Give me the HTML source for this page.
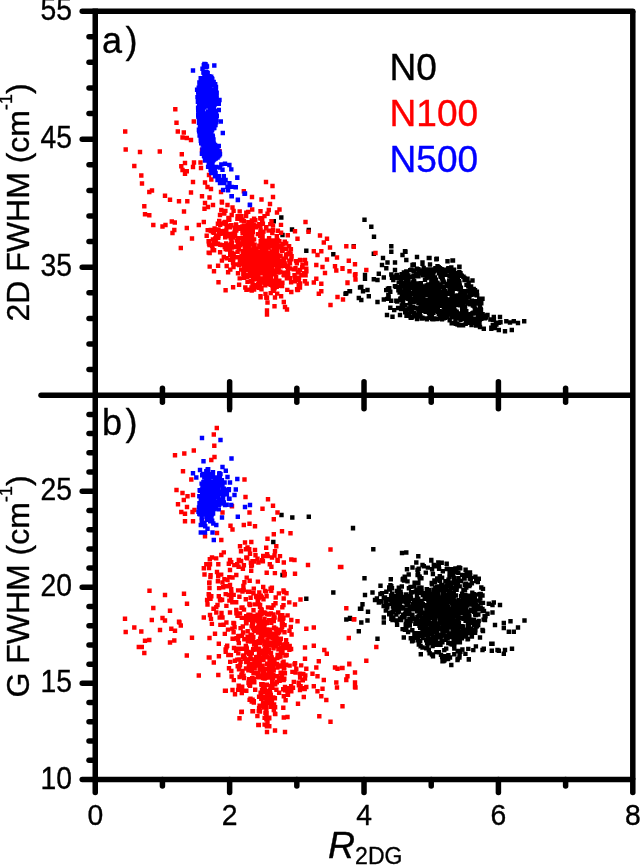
<!DOCTYPE html>
<html lang="en"><head><meta charset="utf-8"><title>FWHM vs R2DG scatter</title>
<style>html,body{margin:0;padding:0;background:#fff}body{width:640px;height:865px;overflow:hidden}</style></head>
<body>
<svg width="640" height="865" viewBox="0 0 640 865" style="display:block">
<rect width="640" height="865" fill="#fff"/>
<g><path fill="#000" d="M271.6 219.1h4.4v4.4h-4.4zM279.1 215.3h4.4v4.4h-4.4zM289.8 227.3h4.4v4.4h-4.4zM306.6 227.8h4.4v4.4h-4.4zM280.3 232.8h4.4v4.4h-4.4zM304.1 248.6h4.4v4.4h-4.4zM331.1 252.1h4.4v4.4h-4.4zM351.6 244.1h4.4v4.4h-4.4zM344.1 291.1h4.4v4.4h-4.4zM347.3 289.1h4.4v4.4h-4.4zM356.6 295.8h4.4v4.4h-4.4zM357.8 285.3h4.4v4.4h-4.4zM362.3 217.6h4.4v4.4h-4.4zM369.1 224.6h4.4v4.4h-4.4zM371.8 234.6h4.4v4.4h-4.4zM389.1 244.1h4.4v4.4h-4.4zM389.1 249.6h4.4v4.4h-4.4zM403.3 249.6h4.4v4.4h-4.4zM400.3 252.8h4.4v4.4h-4.4zM404.1 257.8h4.4v4.4h-4.4zM371.6 251.6h4.4v4.4h-4.4zM380.8 255.8h4.4v4.4h-4.4zM385.3 260.3h4.4v4.4h-4.4zM392.8 260.3h4.4v4.4h-4.4zM379.8 262.8h4.4v4.4h-4.4zM384.1 266.1h4.4v4.4h-4.4zM392.8 267.8h4.4v4.4h-4.4zM376.6 271.6h4.4v4.4h-4.4zM362.8 272.8h4.4v4.4h-4.4zM362.8 276.6h4.4v4.4h-4.4zM371.6 277.1h4.4v4.4h-4.4zM375.3 277.8h4.4v4.4h-4.4zM381.6 275.3h4.4v4.4h-4.4zM389.1 272.3h4.4v4.4h-4.4zM359.1 284.8h4.4v4.4h-4.4zM365.3 287.8h4.4v4.4h-4.4zM360.8 289.1h4.4v4.4h-4.4zM347.8 289.1h4.4v4.4h-4.4zM343.3 291.6h4.4v4.4h-4.4zM359.1 297.8h4.4v4.4h-4.4zM366.6 294.1h4.4v4.4h-4.4zM375.3 299.8h4.4v4.4h-4.4zM381.6 297.3h4.4v4.4h-4.4zM384.8 312.8h4.4v4.4h-4.4zM390.3 314.6h4.4v4.4h-4.4zM397.8 312.8h4.4v4.4h-4.4zM414.8 254.8h4.4v4.4h-4.4zM427.3 255.8h4.4v4.4h-4.4zM434.1 257.1h4.4v4.4h-4.4zM445.3 259.1h4.4v4.4h-4.4zM450.8 258.3h4.4v4.4h-4.4zM457.3 264.6h4.4v4.4h-4.4zM420.3 260.3h4.4v4.4h-4.4zM410.3 262.8h4.4v4.4h-4.4zM402.8 249.1h4.4v4.4h-4.4zM426.6 255.8h4.4v4.4h-4.4zM434.6 256.6h4.4v4.4h-4.4zM450.3 258.3h4.4v4.4h-4.4zM457.1 264.6h4.4v4.4h-4.4zM449.1 265.3h4.4v4.4h-4.4zM435.3 264.1h4.4v4.4h-4.4zM427.8 262.3h4.4v4.4h-4.4zM420.3 261.6h4.4v4.4h-4.4zM411.6 262.3h4.4v4.4h-4.4zM458.3 271.1h4.4v4.4h-4.4zM465.3 276.6h4.4v4.4h-4.4zM470.3 278.3h4.4v4.4h-4.4zM480.3 296.6h4.4v4.4h-4.4zM479.1 299.1h4.4v4.4h-4.4zM474.1 292.8h4.4v4.4h-4.4zM485.3 312.8h4.4v4.4h-4.4zM491.6 314.8h4.4v4.4h-4.4zM497.8 314.8h4.4v4.4h-4.4zM490.8 317.8h4.4v4.4h-4.4zM504.1 319.1h4.4v4.4h-4.4zM507.8 320.3h4.4v4.4h-4.4zM511.6 319.1h4.4v4.4h-4.4zM515.8 320.8h4.4v4.4h-4.4zM522 319.1h4.4v4.4h-4.4zM477.8 324.8h4.4v4.4h-4.4zM481.6 326.6h4.4v4.4h-4.4zM489.1 326.6h4.4v4.4h-4.4zM492.8 325.8h4.4v4.4h-4.4zM496.6 327.8h4.4v4.4h-4.4zM502.8 329.1h4.4v4.4h-4.4zM509.6 327.8h4.4v4.4h-4.4zM472.8 320.3h4.4v4.4h-4.4zM475.3 316.6h4.4v4.4h-4.4zM483.6 315.3h4.4v4.4h-4.4zM477 318.1h4.4v4.4h-4.4zM494.2 322.4h4.4v4.4h-4.4zM482.8 316.1h4.4v4.4h-4.4zM477.1 322.6h4.4v4.4h-4.4zM489.1 325.5h4.4v4.4h-4.4zM480.9 313.4h4.4v4.4h-4.4zM480.4 311.9h4.4v4.4h-4.4zM476.7 311.7h4.4v4.4h-4.4zM488.2 317.3h4.4v4.4h-4.4zM477.3 321.6h4.4v4.4h-4.4zM479.1 316.7h4.4v4.4h-4.4zM477.7 317.3h4.4v4.4h-4.4zM478.3 311.7h4.4v4.4h-4.4zM477.9 311.7h4.4v4.4h-4.4zM498.3 320h4.4v4.4h-4.4zM492.2 324.6h4.4v4.4h-4.4zM493.7 320.6h4.4v4.4h-4.4zM496.5 320.6h4.4v4.4h-4.4zM473 320.2h4.4v4.4h-4.4zM491.7 317h4.4v4.4h-4.4zM490.6 323.1h4.4v4.4h-4.4zM477.3 311.8h4.4v4.4h-4.4zM473.9 323.4h4.4v4.4h-4.4zM478 296.6h4.4v4.4h-4.4zM478.5 306.7h4.4v4.4h-4.4zM455.4 276.8h4.4v4.4h-4.4zM418.1 289.9h4.4v4.4h-4.4zM462.3 275.7h4.4v4.4h-4.4zM469.3 322.8h4.4v4.4h-4.4zM410.6 299.6h4.4v4.4h-4.4zM397.6 287h4.4v4.4h-4.4zM462.8 315.8h4.4v4.4h-4.4zM411.3 268.3h4.4v4.4h-4.4zM447.3 273.9h4.4v4.4h-4.4zM458.4 288.3h4.4v4.4h-4.4zM440.6 270.3h4.4v4.4h-4.4zM410.1 296.5h4.4v4.4h-4.4zM440.8 302.1h4.4v4.4h-4.4zM430.5 302.8h4.4v4.4h-4.4zM430.1 301.2h4.4v4.4h-4.4zM461.3 274.5h4.4v4.4h-4.4zM428.3 294h4.4v4.4h-4.4zM454.5 279h4.4v4.4h-4.4zM443.4 301.3h4.4v4.4h-4.4zM450.4 275.3h4.4v4.4h-4.4zM438.6 274.7h4.4v4.4h-4.4zM473.9 289.7h4.4v4.4h-4.4zM466.5 288.8h4.4v4.4h-4.4zM472.8 288.1h4.4v4.4h-4.4zM424.6 298.1h4.4v4.4h-4.4zM467.8 315.5h4.4v4.4h-4.4zM446.8 268.9h4.4v4.4h-4.4zM447 278.5h4.4v4.4h-4.4zM458.3 317.5h4.4v4.4h-4.4zM440 300h4.4v4.4h-4.4zM402.3 296.2h4.4v4.4h-4.4zM407.7 300.7h4.4v4.4h-4.4zM427.3 309.9h4.4v4.4h-4.4zM454.3 294.7h4.4v4.4h-4.4zM444.8 314.4h4.4v4.4h-4.4zM437.8 312.4h4.4v4.4h-4.4zM452.8 272.7h4.4v4.4h-4.4zM427.4 315.7h4.4v4.4h-4.4zM426.2 275.1h4.4v4.4h-4.4zM436.5 287.4h4.4v4.4h-4.4zM448.8 290h4.4v4.4h-4.4zM418.7 288.5h4.4v4.4h-4.4zM479.1 301.2h4.4v4.4h-4.4zM403.8 307.8h4.4v4.4h-4.4zM453.8 313.4h4.4v4.4h-4.4zM426 267.3h4.4v4.4h-4.4zM448.2 271.2h4.4v4.4h-4.4zM460.6 311.5h4.4v4.4h-4.4zM435.9 309.6h4.4v4.4h-4.4zM460 322.7h4.4v4.4h-4.4zM398.1 296.4h4.4v4.4h-4.4zM399.6 303.2h4.4v4.4h-4.4zM441.7 303.8h4.4v4.4h-4.4zM433.9 280.1h4.4v4.4h-4.4zM476.6 307.5h4.4v4.4h-4.4zM449.9 281.1h4.4v4.4h-4.4zM431 310.7h4.4v4.4h-4.4zM457.3 296.9h4.4v4.4h-4.4zM412 288.4h4.4v4.4h-4.4zM460.9 323.2h4.4v4.4h-4.4zM403 271.9h4.4v4.4h-4.4zM459 313.8h4.4v4.4h-4.4zM404.3 313.6h4.4v4.4h-4.4zM462.9 305.1h4.4v4.4h-4.4zM425.4 290.5h4.4v4.4h-4.4zM427.6 314.2h4.4v4.4h-4.4zM424.4 283.2h4.4v4.4h-4.4zM475.4 319h4.4v4.4h-4.4zM478.2 312.3h4.4v4.4h-4.4zM404.1 269.3h4.4v4.4h-4.4zM443.6 315.2h4.4v4.4h-4.4zM471.1 302h4.4v4.4h-4.4zM415.4 283.7h4.4v4.4h-4.4zM418.4 282.5h4.4v4.4h-4.4zM406.7 286.3h4.4v4.4h-4.4zM399.3 296.1h4.4v4.4h-4.4zM449.2 300.5h4.4v4.4h-4.4zM475.2 307.9h4.4v4.4h-4.4zM466.1 284h4.4v4.4h-4.4zM431.1 308h4.4v4.4h-4.4zM424.8 317h4.4v4.4h-4.4zM416.2 266.9h4.4v4.4h-4.4zM468.9 284.2h4.4v4.4h-4.4zM429.8 280h4.4v4.4h-4.4zM407.2 291.2h4.4v4.4h-4.4zM416.5 297.6h4.4v4.4h-4.4zM413.8 294.5h4.4v4.4h-4.4zM442.9 299.8h4.4v4.4h-4.4zM439.7 309.4h4.4v4.4h-4.4zM478.8 308h4.4v4.4h-4.4zM437.3 303.4h4.4v4.4h-4.4zM411.9 290h4.4v4.4h-4.4zM469.6 298.4h4.4v4.4h-4.4zM420.3 271.2h4.4v4.4h-4.4zM416.3 271.3h4.4v4.4h-4.4zM416.4 286.8h4.4v4.4h-4.4zM430.7 297.8h4.4v4.4h-4.4zM450.2 271.8h4.4v4.4h-4.4zM403.7 273.2h4.4v4.4h-4.4zM432.3 316.3h4.4v4.4h-4.4zM471.5 286.8h4.4v4.4h-4.4zM410.9 284h4.4v4.4h-4.4zM446.7 266.1h4.4v4.4h-4.4zM450.8 300.4h4.4v4.4h-4.4zM416 289.4h4.4v4.4h-4.4zM445.8 290.5h4.4v4.4h-4.4zM433.8 303.8h4.4v4.4h-4.4zM402.5 285.1h4.4v4.4h-4.4zM454.4 278.5h4.4v4.4h-4.4zM427.4 298.4h4.4v4.4h-4.4zM431.2 316.4h4.4v4.4h-4.4zM469 313.8h4.4v4.4h-4.4zM432.6 275.2h4.4v4.4h-4.4zM450.5 289.5h4.4v4.4h-4.4zM439.3 302.9h4.4v4.4h-4.4zM475.8 312.3h4.4v4.4h-4.4zM453.7 283h4.4v4.4h-4.4zM458.1 292.3h4.4v4.4h-4.4zM443.9 298.1h4.4v4.4h-4.4zM409.5 285.5h4.4v4.4h-4.4zM433.4 267.3h4.4v4.4h-4.4zM457.6 283.4h4.4v4.4h-4.4zM430.4 298.1h4.4v4.4h-4.4zM406.8 311.6h4.4v4.4h-4.4zM424 270.7h4.4v4.4h-4.4zM456.2 294.7h4.4v4.4h-4.4zM399.1 297.6h4.4v4.4h-4.4zM452 278.8h4.4v4.4h-4.4zM433.4 268.1h4.4v4.4h-4.4zM422.4 267.6h4.4v4.4h-4.4zM468.1 320.7h4.4v4.4h-4.4zM473.1 307.9h4.4v4.4h-4.4zM467.8 288.7h4.4v4.4h-4.4zM420.9 297.5h4.4v4.4h-4.4zM468.8 289.8h4.4v4.4h-4.4zM403.3 281h4.4v4.4h-4.4zM420.8 305.6h4.4v4.4h-4.4zM477 296.8h4.4v4.4h-4.4zM418.1 306h4.4v4.4h-4.4zM409.2 267.5h4.4v4.4h-4.4zM451.3 286.3h4.4v4.4h-4.4zM434.7 268.2h4.4v4.4h-4.4zM437.1 300.2h4.4v4.4h-4.4zM440.2 293h4.4v4.4h-4.4zM449.3 315h4.4v4.4h-4.4zM438.6 298.2h4.4v4.4h-4.4zM439 311.6h4.4v4.4h-4.4zM457.6 303.1h4.4v4.4h-4.4zM428.2 312h4.4v4.4h-4.4zM455.2 293.3h4.4v4.4h-4.4zM450.6 301.9h4.4v4.4h-4.4zM428.8 310.7h4.4v4.4h-4.4zM424.2 304.2h4.4v4.4h-4.4zM421.1 268.7h4.4v4.4h-4.4zM421 305.6h4.4v4.4h-4.4zM439 298.6h4.4v4.4h-4.4zM449.4 295.9h4.4v4.4h-4.4zM477.5 312.4h4.4v4.4h-4.4zM477.7 305.4h4.4v4.4h-4.4zM464.1 308.9h4.4v4.4h-4.4zM436.7 271.1h4.4v4.4h-4.4zM405.9 294.9h4.4v4.4h-4.4zM451.5 313.8h4.4v4.4h-4.4zM444.8 283.8h4.4v4.4h-4.4zM455.7 275.1h4.4v4.4h-4.4zM424.8 271.1h4.4v4.4h-4.4zM454 296.2h4.4v4.4h-4.4zM433.7 277.6h4.4v4.4h-4.4zM467.7 287.6h4.4v4.4h-4.4zM450.3 308h4.4v4.4h-4.4zM411 274.7h4.4v4.4h-4.4zM437 268.8h4.4v4.4h-4.4zM477.8 313.9h4.4v4.4h-4.4zM416.3 314.4h4.4v4.4h-4.4zM419.2 302.3h4.4v4.4h-4.4zM456.2 284.4h4.4v4.4h-4.4zM407.6 293.5h4.4v4.4h-4.4zM461 295.1h4.4v4.4h-4.4zM413.1 282.1h4.4v4.4h-4.4zM460.4 291.4h4.4v4.4h-4.4zM461.1 274.4h4.4v4.4h-4.4zM454.3 311.8h4.4v4.4h-4.4zM473.4 298.9h4.4v4.4h-4.4zM421.5 265.7h4.4v4.4h-4.4zM452.6 320.8h4.4v4.4h-4.4zM445.1 281.8h4.4v4.4h-4.4zM424.5 293.2h4.4v4.4h-4.4zM429.3 293.5h4.4v4.4h-4.4zM415.4 281.2h4.4v4.4h-4.4zM464.8 317.4h4.4v4.4h-4.4zM427.9 292.7h4.4v4.4h-4.4zM472.7 306.6h4.4v4.4h-4.4zM471.2 291.6h4.4v4.4h-4.4zM413 314h4.4v4.4h-4.4zM472.2 304.1h4.4v4.4h-4.4zM448.9 312.2h4.4v4.4h-4.4zM420.8 273.1h4.4v4.4h-4.4zM471.6 310.7h4.4v4.4h-4.4zM426.9 298.5h4.4v4.4h-4.4zM415.9 283.7h4.4v4.4h-4.4zM454.5 309.5h4.4v4.4h-4.4zM470.7 303.3h4.4v4.4h-4.4zM457.2 322.7h4.4v4.4h-4.4zM473.1 310.9h4.4v4.4h-4.4zM471.8 291.1h4.4v4.4h-4.4zM423.5 302.1h4.4v4.4h-4.4zM446 266.2h4.4v4.4h-4.4zM419.5 298.9h4.4v4.4h-4.4zM428.4 271.1h4.4v4.4h-4.4zM431.6 304.3h4.4v4.4h-4.4zM436.5 264.9h4.4v4.4h-4.4zM397.4 290.4h4.4v4.4h-4.4zM468.3 319.8h4.4v4.4h-4.4zM408 267.9h4.4v4.4h-4.4zM466.9 314.5h4.4v4.4h-4.4zM473.7 311.2h4.4v4.4h-4.4zM467.1 312.9h4.4v4.4h-4.4zM400.1 274.4h4.4v4.4h-4.4zM443.5 272.7h4.4v4.4h-4.4zM473.9 298.9h4.4v4.4h-4.4zM457.5 299.8h4.4v4.4h-4.4zM456.7 322.5h4.4v4.4h-4.4zM433.3 268.4h4.4v4.4h-4.4zM403.3 303h4.4v4.4h-4.4zM401.7 270.3h4.4v4.4h-4.4zM471 320.1h4.4v4.4h-4.4zM406.3 277.1h4.4v4.4h-4.4zM449.6 292.2h4.4v4.4h-4.4zM463.1 293.1h4.4v4.4h-4.4zM478.8 309.9h4.4v4.4h-4.4zM450.3 270.5h4.4v4.4h-4.4zM457.3 270.8h4.4v4.4h-4.4zM409.1 315.5h4.4v4.4h-4.4zM445 297.6h4.4v4.4h-4.4zM455.5 314.5h4.4v4.4h-4.4zM428.3 300.4h4.4v4.4h-4.4zM407 287.1h4.4v4.4h-4.4zM421.7 304.3h4.4v4.4h-4.4zM418.5 305h4.4v4.4h-4.4zM453.8 286.5h4.4v4.4h-4.4zM421.8 308.5h4.4v4.4h-4.4zM430.9 283.2h4.4v4.4h-4.4zM455.6 274.6h4.4v4.4h-4.4zM426.9 304.7h4.4v4.4h-4.4zM403.3 275.6h4.4v4.4h-4.4zM402.6 292.1h4.4v4.4h-4.4zM442.6 315.6h4.4v4.4h-4.4zM399.5 272.1h4.4v4.4h-4.4zM420.1 288.6h4.4v4.4h-4.4zM409.8 315h4.4v4.4h-4.4zM419.8 297.2h4.4v4.4h-4.4zM453.2 271.1h4.4v4.4h-4.4zM442.1 306.4h4.4v4.4h-4.4zM400.7 291.6h4.4v4.4h-4.4zM427.9 268.1h4.4v4.4h-4.4zM445.6 268.4h4.4v4.4h-4.4zM454.3 294h4.4v4.4h-4.4zM469.4 292.5h4.4v4.4h-4.4zM468.4 285.3h4.4v4.4h-4.4zM436.9 299.9h4.4v4.4h-4.4zM454.9 282.1h4.4v4.4h-4.4zM400.9 305.7h4.4v4.4h-4.4zM460.6 316.5h4.4v4.4h-4.4zM447.8 311.7h4.4v4.4h-4.4zM412.1 284.4h4.4v4.4h-4.4zM430.3 283.9h4.4v4.4h-4.4zM424.3 302.4h4.4v4.4h-4.4zM466.9 295.4h4.4v4.4h-4.4zM458.1 299.3h4.4v4.4h-4.4zM456.1 299.8h4.4v4.4h-4.4zM408.4 315.4h4.4v4.4h-4.4zM410.9 280.3h4.4v4.4h-4.4zM441.7 304.5h4.4v4.4h-4.4zM400.9 300.6h4.4v4.4h-4.4zM445 307.6h4.4v4.4h-4.4zM412.1 310.8h4.4v4.4h-4.4zM402.2 271.6h4.4v4.4h-4.4zM411.7 269.1h4.4v4.4h-4.4zM400.4 302.7h4.4v4.4h-4.4zM409.5 281.5h4.4v4.4h-4.4zM417.3 306.7h4.4v4.4h-4.4zM449 300.5h4.4v4.4h-4.4zM449.4 287.6h4.4v4.4h-4.4zM458.7 285.5h4.4v4.4h-4.4zM466.4 280.4h4.4v4.4h-4.4zM455 276.4h4.4v4.4h-4.4zM460.7 294.9h4.4v4.4h-4.4zM416.7 308.3h4.4v4.4h-4.4zM406.6 306.6h4.4v4.4h-4.4zM461.1 296h4.4v4.4h-4.4zM441.6 309.4h4.4v4.4h-4.4zM444.4 268.3h4.4v4.4h-4.4zM438.2 303.7h4.4v4.4h-4.4zM427.4 285.3h4.4v4.4h-4.4zM454.3 282.4h4.4v4.4h-4.4zM405.3 283.6h4.4v4.4h-4.4zM468.1 302h4.4v4.4h-4.4zM402.9 290.1h4.4v4.4h-4.4zM471.9 300.8h4.4v4.4h-4.4zM429.8 286.2h4.4v4.4h-4.4zM442 303.8h4.4v4.4h-4.4zM414.2 299h4.4v4.4h-4.4zM431.1 270.7h4.4v4.4h-4.4zM441.5 313.6h4.4v4.4h-4.4zM447.4 287.6h4.4v4.4h-4.4zM398.8 279.2h4.4v4.4h-4.4zM447.6 305h4.4v4.4h-4.4zM424.4 275.9h4.4v4.4h-4.4zM431.8 300.7h4.4v4.4h-4.4zM439.4 267.1h4.4v4.4h-4.4zM414.3 274.2h4.4v4.4h-4.4zM439.8 276.1h4.4v4.4h-4.4zM430 316.8h4.4v4.4h-4.4zM477.7 307.2h4.4v4.4h-4.4zM431.4 283.1h4.4v4.4h-4.4zM453.2 319.6h4.4v4.4h-4.4zM419.2 302.5h4.4v4.4h-4.4zM433.2 266.1h4.4v4.4h-4.4zM400.7 282.2h4.4v4.4h-4.4zM463.8 320.4h4.4v4.4h-4.4zM431.3 310.3h4.4v4.4h-4.4zM449.5 321h4.4v4.4h-4.4zM445.2 307.2h4.4v4.4h-4.4zM406.7 288.2h4.4v4.4h-4.4zM426.8 310.6h4.4v4.4h-4.4zM408.3 309.8h4.4v4.4h-4.4zM442.9 302.2h4.4v4.4h-4.4zM475.1 309.8h4.4v4.4h-4.4zM441.9 280.2h4.4v4.4h-4.4zM429.6 277.7h4.4v4.4h-4.4zM418.6 302.7h4.4v4.4h-4.4zM415.7 306.3h4.4v4.4h-4.4zM419.5 316.4h4.4v4.4h-4.4zM439.8 317.1h4.4v4.4h-4.4zM461 301.5h4.4v4.4h-4.4zM437.4 316.3h4.4v4.4h-4.4zM459.6 297.6h4.4v4.4h-4.4zM419.1 283.6h4.4v4.4h-4.4zM409.8 309.9h4.4v4.4h-4.4zM452.9 308.4h4.4v4.4h-4.4zM410.3 282.8h4.4v4.4h-4.4zM435 266.3h4.4v4.4h-4.4zM457.3 280.7h4.4v4.4h-4.4zM416.2 301.1h4.4v4.4h-4.4zM440.7 290.4h4.4v4.4h-4.4zM435.5 292.8h4.4v4.4h-4.4zM441.1 279h4.4v4.4h-4.4zM451.3 306.9h4.4v4.4h-4.4zM447.8 299.1h4.4v4.4h-4.4zM432.2 302.9h4.4v4.4h-4.4zM402.8 285.7h4.4v4.4h-4.4zM398.6 298.2h4.4v4.4h-4.4zM456.7 295.6h4.4v4.4h-4.4zM462.3 277.8h4.4v4.4h-4.4zM421.1 284.3h4.4v4.4h-4.4zM434.5 316.8h4.4v4.4h-4.4zM463.8 294.7h4.4v4.4h-4.4zM440.4 274.4h4.4v4.4h-4.4zM427.9 304.9h4.4v4.4h-4.4zM470.9 300.2h4.4v4.4h-4.4zM456.6 311.3h4.4v4.4h-4.4zM452.7 313.8h4.4v4.4h-4.4zM454.1 316h4.4v4.4h-4.4zM470.3 318.9h4.4v4.4h-4.4zM443.3 269.5h4.4v4.4h-4.4zM469.1 291.8h4.4v4.4h-4.4zM397.9 285.1h4.4v4.4h-4.4zM465 312.2h4.4v4.4h-4.4zM474.5 301.3h4.4v4.4h-4.4zM457.1 269.7h4.4v4.4h-4.4zM422.4 270.4h4.4v4.4h-4.4zM447 290.9h4.4v4.4h-4.4zM413.1 305.9h4.4v4.4h-4.4zM465.5 301.3h4.4v4.4h-4.4zM440.2 290.2h4.4v4.4h-4.4zM470 299.2h4.4v4.4h-4.4zM463.5 321.6h4.4v4.4h-4.4zM411.5 278.9h4.4v4.4h-4.4zM450.3 274.7h4.4v4.4h-4.4zM471.6 316.6h4.4v4.4h-4.4zM418.2 295.3h4.4v4.4h-4.4zM437.8 266h4.4v4.4h-4.4zM399.7 273.2h4.4v4.4h-4.4zM430.4 274.1h4.4v4.4h-4.4zM400.6 289.2h4.4v4.4h-4.4zM448.1 284.5h4.4v4.4h-4.4zM478.5 308.2h4.4v4.4h-4.4zM471.3 310.6h4.4v4.4h-4.4zM450.6 267.6h4.4v4.4h-4.4zM432.5 267.4h4.4v4.4h-4.4zM476 300.3h4.4v4.4h-4.4zM412 279.3h4.4v4.4h-4.4zM425.6 302.4h4.4v4.4h-4.4zM420.2 315.6h4.4v4.4h-4.4zM442.7 270.8h4.4v4.4h-4.4zM426.1 282.2h4.4v4.4h-4.4zM449.9 284.7h4.4v4.4h-4.4zM467.6 293.2h4.4v4.4h-4.4zM440.5 316h4.4v4.4h-4.4zM414.9 289h4.4v4.4h-4.4zM454.1 300.9h4.4v4.4h-4.4zM453.6 321.6h4.4v4.4h-4.4zM418.6 281h4.4v4.4h-4.4zM467.8 292.1h4.4v4.4h-4.4zM425 271.2h4.4v4.4h-4.4zM453.5 279.5h4.4v4.4h-4.4zM411.1 304.5h4.4v4.4h-4.4zM416.4 285.7h4.4v4.4h-4.4zM475.4 301h4.4v4.4h-4.4zM424.4 272.2h4.4v4.4h-4.4zM418.3 297.4h4.4v4.4h-4.4zM460.8 296.3h4.4v4.4h-4.4zM437.5 309.1h4.4v4.4h-4.4zM475 293.2h4.4v4.4h-4.4zM404.9 272.2h4.4v4.4h-4.4zM475.2 320.1h4.4v4.4h-4.4zM458.2 300.3h4.4v4.4h-4.4zM470.3 311h4.4v4.4h-4.4zM457.7 296.8h4.4v4.4h-4.4zM457.6 285.2h4.4v4.4h-4.4zM468.7 312h4.4v4.4h-4.4zM442.7 267.5h4.4v4.4h-4.4zM430.8 292h4.4v4.4h-4.4zM411.5 299.5h4.4v4.4h-4.4zM399.7 281h4.4v4.4h-4.4zM409.4 296.9h4.4v4.4h-4.4zM408.2 274.7h4.4v4.4h-4.4zM440.6 277.8h4.4v4.4h-4.4zM398.9 306.8h4.4v4.4h-4.4zM427.5 292.1h4.4v4.4h-4.4zM398 274.9h4.4v4.4h-4.4zM443.5 304.4h4.4v4.4h-4.4zM450.9 320.7h4.4v4.4h-4.4zM427.2 315.5h4.4v4.4h-4.4zM459.9 305.7h4.4v4.4h-4.4zM467.7 317.3h4.4v4.4h-4.4zM412.7 297.6h4.4v4.4h-4.4zM444.3 312.4h4.4v4.4h-4.4zM449.8 269.3h4.4v4.4h-4.4zM427 292.3h4.4v4.4h-4.4zM409.2 291.8h4.4v4.4h-4.4zM446.2 311.6h4.4v4.4h-4.4zM452.1 314.8h4.4v4.4h-4.4zM474.7 289.5h4.4v4.4h-4.4zM449.5 280.9h4.4v4.4h-4.4zM421.4 293.4h4.4v4.4h-4.4zM462.4 289h4.4v4.4h-4.4zM429.4 310.6h4.4v4.4h-4.4zM430.6 267.9h4.4v4.4h-4.4zM453 310.1h4.4v4.4h-4.4zM455.1 322h4.4v4.4h-4.4zM400.7 291.2h4.4v4.4h-4.4zM441.9 299.2h4.4v4.4h-4.4zM415.8 312.4h4.4v4.4h-4.4zM472 320.7h4.4v4.4h-4.4zM429.1 279.2h4.4v4.4h-4.4zM413.7 271.7h4.4v4.4h-4.4zM460.3 313.1h4.4v4.4h-4.4zM447.5 318h4.4v4.4h-4.4zM417 311.8h4.4v4.4h-4.4zM440.8 315.1h4.4v4.4h-4.4zM403.6 276.5h4.4v4.4h-4.4zM462.7 306h4.4v4.4h-4.4zM460.7 294.7h4.4v4.4h-4.4zM419.8 284.3h4.4v4.4h-4.4zM457.1 323.1h4.4v4.4h-4.4zM422.8 277.7h4.4v4.4h-4.4zM423.8 268.2h4.4v4.4h-4.4zM411.5 313.3h4.4v4.4h-4.4zM406.2 273.2h4.4v4.4h-4.4zM412.1 288h4.4v4.4h-4.4zM397.4 289.2h4.4v4.4h-4.4zM457.2 287h4.4v4.4h-4.4zM428 288.8h4.4v4.4h-4.4zM416.2 274.1h4.4v4.4h-4.4zM411.7 311.2h4.4v4.4h-4.4zM420.7 299.3h4.4v4.4h-4.4zM410.7 297.7h4.4v4.4h-4.4zM423.4 309.6h4.4v4.4h-4.4zM402.1 275.8h4.4v4.4h-4.4zM459.6 273.6h4.4v4.4h-4.4zM399 284.4h4.4v4.4h-4.4zM418.3 314.2h4.4v4.4h-4.4zM464.3 282.7h4.4v4.4h-4.4zM450.7 267.5h4.4v4.4h-4.4zM438.2 273.1h4.4v4.4h-4.4zM435.5 296.6h4.4v4.4h-4.4zM428.4 271.9h4.4v4.4h-4.4zM414.1 295.4h4.4v4.4h-4.4zM403.4 292.3h4.4v4.4h-4.4zM405.1 295.5h4.4v4.4h-4.4zM439.3 298.2h4.4v4.4h-4.4zM429.4 295.8h4.4v4.4h-4.4zM431.6 269h4.4v4.4h-4.4zM431.1 305h4.4v4.4h-4.4zM408.1 302.9h4.4v4.4h-4.4zM421.7 293h4.4v4.4h-4.4zM433.3 284h4.4v4.4h-4.4zM460 308.7h4.4v4.4h-4.4zM411.3 290.8h4.4v4.4h-4.4zM471.5 320.5h4.4v4.4h-4.4zM429.7 314.2h4.4v4.4h-4.4zM425.8 272.2h4.4v4.4h-4.4zM458.7 291.6h4.4v4.4h-4.4zM399.7 292.5h4.4v4.4h-4.4zM417.8 289.4h4.4v4.4h-4.4zM424.7 306.7h4.4v4.4h-4.4zM406.1 296.5h4.4v4.4h-4.4zM428.4 291.1h4.4v4.4h-4.4zM451.4 294.1h4.4v4.4h-4.4zM442.8 306.4h4.4v4.4h-4.4zM428.2 307.6h4.4v4.4h-4.4zM454.4 282.9h4.4v4.4h-4.4zM450.5 291.2h4.4v4.4h-4.4zM427 304.2h4.4v4.4h-4.4zM411.2 273.7h4.4v4.4h-4.4zM423.2 316.2h4.4v4.4h-4.4zM415 293.5h4.4v4.4h-4.4zM447.5 305.1h4.4v4.4h-4.4zM416.6 294.5h4.4v4.4h-4.4zM443.3 294h4.4v4.4h-4.4zM464.9 300h4.4v4.4h-4.4zM437 284.6h4.4v4.4h-4.4zM469 289.1h4.4v4.4h-4.4zM402.5 273.6h4.4v4.4h-4.4zM456.8 278.9h4.4v4.4h-4.4zM441.4 316h4.4v4.4h-4.4zM403.7 273.4h4.4v4.4h-4.4zM424.7 287.4h4.4v4.4h-4.4zM440.4 279.6h4.4v4.4h-4.4zM419.6 268.2h4.4v4.4h-4.4zM429.9 267.2h4.4v4.4h-4.4zM435.4 306.3h4.4v4.4h-4.4zM403 310h4.4v4.4h-4.4zM452.3 274.2h4.4v4.4h-4.4zM405.6 279.1h4.4v4.4h-4.4zM415.8 290.8h4.4v4.4h-4.4zM425 273.7h4.4v4.4h-4.4zM451.9 267.4h4.4v4.4h-4.4zM417.7 310h4.4v4.4h-4.4zM470.9 311.4h4.4v4.4h-4.4zM458.5 272.8h4.4v4.4h-4.4zM424 299.3h4.4v4.4h-4.4zM466.6 314.1h4.4v4.4h-4.4zM414.6 266.5h4.4v4.4h-4.4zM417.3 296.1h4.4v4.4h-4.4zM474.8 310.6h4.4v4.4h-4.4zM431.1 317.2h4.4v4.4h-4.4zM423.4 287.9h4.4v4.4h-4.4zM414.8 316.8h4.4v4.4h-4.4zM448.8 287.2h4.4v4.4h-4.4zM449.2 277.5h4.4v4.4h-4.4zM431 271.9h4.4v4.4h-4.4zM448.2 307.8h4.4v4.4h-4.4zM409.6 307.3h4.4v4.4h-4.4zM394.2 273.2h4.4v4.4h-4.4zM392.7 283.9h4.4v4.4h-4.4zM386.5 294.4h4.4v4.4h-4.4zM387.1 286h4.4v4.4h-4.4zM389 298.6h4.4v4.4h-4.4zM396.2 288h4.4v4.4h-4.4zM395.9 305.8h4.4v4.4h-4.4zM391.1 277.8h4.4v4.4h-4.4zM391 274.6h4.4v4.4h-4.4zM388.1 305.5h4.4v4.4h-4.4zM384.9 296.7h4.4v4.4h-4.4zM394.6 275.1h4.4v4.4h-4.4zM389.8 275.5h4.4v4.4h-4.4zM384 287.9h4.4v4.4h-4.4zM393.7 284.7h4.4v4.4h-4.4zM394.9 299.3h4.4v4.4h-4.4zM394.1 298.6h4.4v4.4h-4.4zM392 307.9h4.4v4.4h-4.4zM394.9 272.8h4.4v4.4h-4.4zM388.1 289.5h4.4v4.4h-4.4zM396.5 280.2h4.4v4.4h-4.4zM395.2 275.7h4.4v4.4h-4.4zM385.7 286.5h4.4v4.4h-4.4zM386.1 292.7h4.4v4.4h-4.4zM458.6 301.9h4.4v4.4h-4.4zM441.1 297.6h4.4v4.4h-4.4zM412.9 294.4h4.4v4.4h-4.4zM419.3 296.1h4.4v4.4h-4.4zM430.1 305.1h4.4v4.4h-4.4zM436.4 297.5h4.4v4.4h-4.4zM424.1 300.4h4.4v4.4h-4.4zM435.6 302.3h4.4v4.4h-4.4zM448.1 305.8h4.4v4.4h-4.4zM438.4 282.4h4.4v4.4h-4.4zM422.6 301.7h4.4v4.4h-4.4zM449.9 310.3h4.4v4.4h-4.4zM433.1 288.8h4.4v4.4h-4.4zM449.3 306.7h4.4v4.4h-4.4zM439.1 297.8h4.4v4.4h-4.4zM421.8 293.1h4.4v4.4h-4.4zM457.1 293.6h4.4v4.4h-4.4zM433 295.6h4.4v4.4h-4.4zM437.1 282.8h4.4v4.4h-4.4zM433.2 292.2h4.4v4.4h-4.4zM435.3 294h4.4v4.4h-4.4zM440.3 290h4.4v4.4h-4.4zM460.9 299.1h4.4v4.4h-4.4zM455.5 312.6h4.4v4.4h-4.4zM442.1 288.8h4.4v4.4h-4.4zM434.8 298.4h4.4v4.4h-4.4zM429.5 292h4.4v4.4h-4.4zM422.5 299.7h4.4v4.4h-4.4zM441.7 291.7h4.4v4.4h-4.4zM436.6 311.7h4.4v4.4h-4.4zM440.7 290.8h4.4v4.4h-4.4zM421.3 305.7h4.4v4.4h-4.4zM458.2 298.6h4.4v4.4h-4.4zM428.4 298h4.4v4.4h-4.4zM441.7 298.9h4.4v4.4h-4.4zM433.5 285.5h4.4v4.4h-4.4zM429.1 291.9h4.4v4.4h-4.4zM433.3 290.6h4.4v4.4h-4.4zM438.3 282.3h4.4v4.4h-4.4zM447.3 309.7h4.4v4.4h-4.4zM431.9 284.6h4.4v4.4h-4.4zM441.5 302h4.4v4.4h-4.4zM434.8 304.7h4.4v4.4h-4.4zM432.9 287.5h4.4v4.4h-4.4zM458.5 297.1h4.4v4.4h-4.4zM434.7 291.9h4.4v4.4h-4.4zM437.4 303h4.4v4.4h-4.4zM442.7 288.9h4.4v4.4h-4.4zM451.6 303h4.4v4.4h-4.4zM445.9 298.4h4.4v4.4h-4.4zM441.7 286.9h4.4v4.4h-4.4zM419.8 288.8h4.4v4.4h-4.4zM429.1 297.6h4.4v4.4h-4.4zM425.8 303.9h4.4v4.4h-4.4zM431.4 291.4h4.4v4.4h-4.4zM437.9 300.5h4.4v4.4h-4.4zM445.2 300.5h4.4v4.4h-4.4zM435.4 308.6h4.4v4.4h-4.4zM417.2 293.7h4.4v4.4h-4.4zM430.5 297.6h4.4v4.4h-4.4zM427.7 297.1h4.4v4.4h-4.4zM438.5 310.3h4.4v4.4h-4.4zM428.9 287h4.4v4.4h-4.4zM439.5 302.3h4.4v4.4h-4.4zM441.1 298.1h4.4v4.4h-4.4zM437.7 285.3h4.4v4.4h-4.4zM458.9 298.2h4.4v4.4h-4.4zM460.7 307.2h4.4v4.4h-4.4zM421.7 291.3h4.4v4.4h-4.4zM434 291.8h4.4v4.4h-4.4zM430.4 295h4.4v4.4h-4.4zM430.7 289.4h4.4v4.4h-4.4zM438.6 297h4.4v4.4h-4.4zM430.2 298.7h4.4v4.4h-4.4zM431.1 298.7h4.4v4.4h-4.4zM435.6 305.5h4.4v4.4h-4.4zM429.9 305h4.4v4.4h-4.4zM429.7 293.5h4.4v4.4h-4.4zM443.3 293.8h4.4v4.4h-4.4zM430.2 293.1h4.4v4.4h-4.4zM433.7 306.9h4.4v4.4h-4.4zM430.4 307.4h4.4v4.4h-4.4zM430.7 287.5h4.4v4.4h-4.4zM425.8 298.4h4.4v4.4h-4.4zM420.9 295h4.4v4.4h-4.4zM439.6 294.3h4.4v4.4h-4.4zM464.2 297.2h4.4v4.4h-4.4zM464.3 295.2h4.4v4.4h-4.4zM442.3 299.4h4.4v4.4h-4.4zM425.1 299.8h4.4v4.4h-4.4zM452 304.4h4.4v4.4h-4.4zM435.5 307.2h4.4v4.4h-4.4zM445.9 300.9h4.4v4.4h-4.4zM449.3 288.1h4.4v4.4h-4.4zM435.3 280.8h4.4v4.4h-4.4zM428.8 296.1h4.4v4.4h-4.4zM423.4 287.5h4.4v4.4h-4.4zM453.2 296.9h4.4v4.4h-4.4zM419.9 295.7h4.4v4.4h-4.4zM443.5 297.1h4.4v4.4h-4.4zM435.8 289.1h4.4v4.4h-4.4zM437.4 300.7h4.4v4.4h-4.4zM452 296.1h4.4v4.4h-4.4zM442.2 292.8h4.4v4.4h-4.4zM445.3 282.9h4.4v4.4h-4.4zM453.6 302.6h4.4v4.4h-4.4zM447.7 297.2h4.4v4.4h-4.4zM431.4 307.3h4.4v4.4h-4.4zM434.6 304.8h4.4v4.4h-4.4zM439.6 290.5h4.4v4.4h-4.4zM431.4 299.8h4.4v4.4h-4.4zM447.5 291.6h4.4v4.4h-4.4zM438.7 298h4.4v4.4h-4.4zM445.5 308.8h4.4v4.4h-4.4zM421.8 287.2h4.4v4.4h-4.4zM441.3 284.7h4.4v4.4h-4.4zM465.7 300.1h4.4v4.4h-4.4zM438.7 299.4h4.4v4.4h-4.4zM450.4 283.1h4.4v4.4h-4.4zM434.7 302.9h4.4v4.4h-4.4z"/>
<path fill="#f00" d="M123 129.3h4.4v4.4h-4.4zM123.5 147.3h4.4v4.4h-4.4zM137.8 149.8h4.4v4.4h-4.4zM157.6 149.3h4.4v4.4h-4.4zM132.1 163.8h4.4v4.4h-4.4zM139.1 173.3h4.4v4.4h-4.4zM139.8 181.3h4.4v4.4h-4.4zM147.1 189.8h4.4v4.4h-4.4zM149.8 188.3h4.4v4.4h-4.4zM162.8 193.6h4.4v4.4h-4.4zM167.8 197.6h4.4v4.4h-4.4zM176.8 199.1h4.4v4.4h-4.4zM185.1 199.1h4.4v4.4h-4.4zM142.1 204.1h4.4v4.4h-4.4zM142.8 212.1h4.4v4.4h-4.4zM147.1 213.1h4.4v4.4h-4.4zM151.1 222.8h4.4v4.4h-4.4zM160.3 224.3h4.4v4.4h-4.4zM163.3 222.8h4.4v4.4h-4.4zM169.6 219.3h4.4v4.4h-4.4zM172.6 220.3h4.4v4.4h-4.4zM172.1 227.8h4.4v4.4h-4.4zM170.3 230.8h4.4v4.4h-4.4zM184.6 225.8h4.4v4.4h-4.4zM181.8 209.3h4.4v4.4h-4.4zM188.8 190.3h4.4v4.4h-4.4zM190.8 179.8h4.4v4.4h-4.4zM189.8 236.3h4.4v4.4h-4.4zM178.6 245.8h4.4v4.4h-4.4zM196.6 222.8h4.4v4.4h-4.4zM201.6 219.8h4.4v4.4h-4.4zM173.1 107h4.4v4.4h-4.4zM174.3 120.5h4.4v4.4h-4.4zM191.6 119.3h4.4v4.4h-4.4zM175.6 129.3h4.4v4.4h-4.4zM181.6 130.3h4.4v4.4h-4.4zM180.3 135.3h4.4v4.4h-4.4zM184.6 135.8h4.4v4.4h-4.4zM188.8 137.8h4.4v4.4h-4.4zM179.6 152.1h4.4v4.4h-4.4zM182.8 160.8h4.4v4.4h-4.4zM179.1 164.1h4.4v4.4h-4.4zM180.3 167.8h4.4v4.4h-4.4zM184.6 169.1h4.4v4.4h-4.4zM182.8 171.6h4.4v4.4h-4.4zM190.8 164.8h4.4v4.4h-4.4zM191.8 160.3h4.4v4.4h-4.4zM198.3 160.3h4.4v4.4h-4.4zM198.8 165.8h4.4v4.4h-4.4zM199.8 147.8h4.4v4.4h-4.4zM211.8 148.6h4.4v4.4h-4.4zM217.3 149.1h4.4v4.4h-4.4zM202.8 180.3h4.4v4.4h-4.4zM205.3 184.8h4.4v4.4h-4.4zM208.8 186.8h4.4v4.4h-4.4zM206.8 172.8h4.4v4.4h-4.4zM209.1 177.3h4.4v4.4h-4.4zM199.8 194.1h4.4v4.4h-4.4zM207.3 195.3h4.4v4.4h-4.4zM202.8 200.8h4.4v4.4h-4.4zM202.3 206.6h4.4v4.4h-4.4zM205.8 204.8h4.4v4.4h-4.4zM210.8 202.8h4.4v4.4h-4.4zM219.6 199.6h4.4v4.4h-4.4zM218.8 189.8h4.4v4.4h-4.4zM263.8 179.8h4.4v4.4h-4.4zM270.3 183.8h4.4v4.4h-4.4zM270.8 194.8h4.4v4.4h-4.4zM249.8 194.8h4.4v4.4h-4.4zM259.3 197.3h4.4v4.4h-4.4zM267.8 201.8h4.4v4.4h-4.4zM241.6 189.1h4.4v4.4h-4.4zM277.3 207.3h4.4v4.4h-4.4zM274.8 210.3h4.4v4.4h-4.4zM266.6 207.8h4.4v4.4h-4.4zM265.3 211.6h4.4v4.4h-4.4zM219.8 200.3h4.4v4.4h-4.4zM217.8 212.8h4.4v4.4h-4.4zM219.1 207.8h4.4v4.4h-4.4zM225.3 202.8h4.4v4.4h-4.4zM230.3 205.3h4.4v4.4h-4.4zM303.3 219.8h4.4v4.4h-4.4zM306.3 229.6h4.4v4.4h-4.4zM292.8 229.1h4.4v4.4h-4.4zM295.3 236.6h4.4v4.4h-4.4zM317.8 233.3h4.4v4.4h-4.4zM321.6 240.3h4.4v4.4h-4.4zM324.8 236.6h4.4v4.4h-4.4zM327.8 245.3h4.4v4.4h-4.4zM311.6 249.1h4.4v4.4h-4.4zM319.1 249.1h4.4v4.4h-4.4zM315.3 252.8h4.4v4.4h-4.4zM324.8 257.3h4.4v4.4h-4.4zM334.8 255.3h4.4v4.4h-4.4zM344.1 244.1h4.4v4.4h-4.4zM351.6 244.6h4.4v4.4h-4.4zM346.6 258.6h4.4v4.4h-4.4zM352.8 262.1h4.4v4.4h-4.4zM332.8 264.1h4.4v4.4h-4.4zM334.1 268.3h4.4v4.4h-4.4zM340.3 266.6h4.4v4.4h-4.4zM347.3 269.1h4.4v4.4h-4.4zM352.8 272.8h4.4v4.4h-4.4zM353.3 277.3h4.4v4.4h-4.4zM345.3 280.3h4.4v4.4h-4.4zM314.1 262.8h4.4v4.4h-4.4zM320.3 264.8h4.4v4.4h-4.4zM322.8 270.8h4.4v4.4h-4.4zM314.1 276.6h4.4v4.4h-4.4zM311.6 280.3h4.4v4.4h-4.4zM319.1 281.6h4.4v4.4h-4.4zM316.6 291.6h4.4v4.4h-4.4zM319.1 289.1h4.4v4.4h-4.4zM335.3 294.8h4.4v4.4h-4.4zM340.8 297.3h4.4v4.4h-4.4zM328.3 302.8h4.4v4.4h-4.4zM297.8 257.8h4.4v4.4h-4.4zM302.8 257.8h4.4v4.4h-4.4zM300.3 262.8h4.4v4.4h-4.4zM304.1 266.6h4.4v4.4h-4.4zM297.8 267.8h4.4v4.4h-4.4zM301.6 272.8h4.4v4.4h-4.4zM296.6 277.8h4.4v4.4h-4.4zM302.8 279.1h4.4v4.4h-4.4zM297.8 285.3h4.4v4.4h-4.4zM295.3 287.8h4.4v4.4h-4.4zM289.1 289.8h4.4v4.4h-4.4zM264.1 295.3h4.4v4.4h-4.4zM265.3 300.3h4.4v4.4h-4.4zM272.8 295.3h4.4v4.4h-4.4zM281.6 299.8h4.4v4.4h-4.4zM272.3 304.1h4.4v4.4h-4.4zM282.8 304.8h4.4v4.4h-4.4zM284.8 307.3h4.4v4.4h-4.4zM264.8 308.3h4.4v4.4h-4.4zM264.8 312.3h4.4v4.4h-4.4zM373.3 250.8h4.4v4.4h-4.4zM340.3 266.1h4.4v4.4h-4.4zM353.3 272.1h4.4v4.4h-4.4zM345.3 280.8h4.4v4.4h-4.4zM364.1 267.8h4.4v4.4h-4.4zM274.9 279.3h4.4v4.4h-4.4zM279.5 244.8h4.4v4.4h-4.4zM263.4 254.3h4.4v4.4h-4.4zM267.4 253.7h4.4v4.4h-4.4zM266.5 255.4h4.4v4.4h-4.4zM243.7 255.7h4.4v4.4h-4.4zM256.1 282.1h4.4v4.4h-4.4zM266.7 256.8h4.4v4.4h-4.4zM271.1 241.9h4.4v4.4h-4.4zM280.8 259.1h4.4v4.4h-4.4zM254.1 247.6h4.4v4.4h-4.4zM273.9 274.9h4.4v4.4h-4.4zM259.8 244.7h4.4v4.4h-4.4zM269.7 264h4.4v4.4h-4.4zM258 251.1h4.4v4.4h-4.4zM252.6 283.2h4.4v4.4h-4.4zM257.1 243.5h4.4v4.4h-4.4zM263.3 242.9h4.4v4.4h-4.4zM273.9 268.6h4.4v4.4h-4.4zM243 250.9h4.4v4.4h-4.4zM274.4 241.9h4.4v4.4h-4.4zM262.5 249.5h4.4v4.4h-4.4zM254.8 252.3h4.4v4.4h-4.4zM264.5 276h4.4v4.4h-4.4zM263.1 279.1h4.4v4.4h-4.4zM285.4 263.5h4.4v4.4h-4.4zM286.1 251.5h4.4v4.4h-4.4zM273.7 238.2h4.4v4.4h-4.4zM260.7 280.4h4.4v4.4h-4.4zM246 273.1h4.4v4.4h-4.4zM255.6 255.1h4.4v4.4h-4.4zM273.2 252.1h4.4v4.4h-4.4zM250.2 280.1h4.4v4.4h-4.4zM246.1 258.4h4.4v4.4h-4.4zM246.4 273.5h4.4v4.4h-4.4zM261.3 269.8h4.4v4.4h-4.4zM266.4 267.6h4.4v4.4h-4.4zM238.7 259.3h4.4v4.4h-4.4zM248.7 249.7h4.4v4.4h-4.4zM275.3 258.1h4.4v4.4h-4.4zM254.2 271h4.4v4.4h-4.4zM270.1 252h4.4v4.4h-4.4zM262 250.2h4.4v4.4h-4.4zM251.1 254.5h4.4v4.4h-4.4zM258.6 253.8h4.4v4.4h-4.4zM276.1 258.5h4.4v4.4h-4.4zM241.8 275.5h4.4v4.4h-4.4zM281.5 256.6h4.4v4.4h-4.4zM257.3 263.9h4.4v4.4h-4.4zM272.4 272h4.4v4.4h-4.4zM264.3 248.9h4.4v4.4h-4.4zM265.8 268.2h4.4v4.4h-4.4zM259.8 253.6h4.4v4.4h-4.4zM253 262.3h4.4v4.4h-4.4zM252.6 257.8h4.4v4.4h-4.4zM266.2 271.5h4.4v4.4h-4.4zM244 263.8h4.4v4.4h-4.4zM253.2 257.4h4.4v4.4h-4.4zM270.9 238.3h4.4v4.4h-4.4zM262.4 264.2h4.4v4.4h-4.4zM259.8 261.5h4.4v4.4h-4.4zM263.3 247.8h4.4v4.4h-4.4zM245.1 274.5h4.4v4.4h-4.4zM274.4 262.6h4.4v4.4h-4.4zM271.8 260.7h4.4v4.4h-4.4zM251.5 263h4.4v4.4h-4.4zM272.4 240.9h4.4v4.4h-4.4zM254 252.5h4.4v4.4h-4.4zM253.4 271.5h4.4v4.4h-4.4zM250.3 259.7h4.4v4.4h-4.4zM267.8 262.3h4.4v4.4h-4.4zM266 271.4h4.4v4.4h-4.4zM246.1 261.3h4.4v4.4h-4.4zM251.5 249.5h4.4v4.4h-4.4zM259.2 263.4h4.4v4.4h-4.4zM256.7 253.1h4.4v4.4h-4.4zM253.1 267h4.4v4.4h-4.4zM255.1 253.4h4.4v4.4h-4.4zM271.5 246.5h4.4v4.4h-4.4zM237.7 258.6h4.4v4.4h-4.4zM250.2 253.5h4.4v4.4h-4.4zM275.9 261.9h4.4v4.4h-4.4zM263.6 251.4h4.4v4.4h-4.4zM275.4 244.9h4.4v4.4h-4.4zM253.1 247.7h4.4v4.4h-4.4zM266.6 274.3h4.4v4.4h-4.4zM272.2 281h4.4v4.4h-4.4zM259.3 254.2h4.4v4.4h-4.4zM251.5 253.1h4.4v4.4h-4.4zM273.3 260.8h4.4v4.4h-4.4zM270.7 241.5h4.4v4.4h-4.4zM259.6 260.8h4.4v4.4h-4.4zM273.4 257.1h4.4v4.4h-4.4zM266.4 254.5h4.4v4.4h-4.4zM258.7 258.2h4.4v4.4h-4.4zM258.5 263.7h4.4v4.4h-4.4zM258 278.2h4.4v4.4h-4.4zM273.9 269h4.4v4.4h-4.4zM269.5 259.9h4.4v4.4h-4.4zM241.4 270.8h4.4v4.4h-4.4zM241.8 272.6h4.4v4.4h-4.4zM257.6 258.9h4.4v4.4h-4.4zM272.2 269.6h4.4v4.4h-4.4zM268.3 261.2h4.4v4.4h-4.4zM260 254.2h4.4v4.4h-4.4zM243.2 267.9h4.4v4.4h-4.4zM246.7 272.9h4.4v4.4h-4.4zM270.3 262.3h4.4v4.4h-4.4zM267 274.9h4.4v4.4h-4.4zM256.7 261.1h4.4v4.4h-4.4zM269.2 258.7h4.4v4.4h-4.4zM274.9 250h4.4v4.4h-4.4zM266.8 274.7h4.4v4.4h-4.4zM256.6 285.5h4.4v4.4h-4.4zM250.5 282.6h4.4v4.4h-4.4zM270.8 270.7h4.4v4.4h-4.4zM255.5 257h4.4v4.4h-4.4zM256.1 250.4h4.4v4.4h-4.4zM262.7 248.6h4.4v4.4h-4.4zM251.2 270.5h4.4v4.4h-4.4zM253.2 265.2h4.4v4.4h-4.4zM252.1 276.7h4.4v4.4h-4.4zM243.8 253.7h4.4v4.4h-4.4zM273.7 251.1h4.4v4.4h-4.4zM279.6 261.8h4.4v4.4h-4.4zM272.8 278.5h4.4v4.4h-4.4zM268.3 266.6h4.4v4.4h-4.4zM286.6 252h4.4v4.4h-4.4zM268.8 255.1h4.4v4.4h-4.4zM265.7 261.9h4.4v4.4h-4.4zM275.4 258.1h4.4v4.4h-4.4zM261.1 257.8h4.4v4.4h-4.4zM254.6 273.1h4.4v4.4h-4.4zM266.4 245.4h4.4v4.4h-4.4zM266.9 236.1h4.4v4.4h-4.4zM275.8 253.2h4.4v4.4h-4.4zM268.4 280.8h4.4v4.4h-4.4zM262.4 242h4.4v4.4h-4.4zM245.5 266.3h4.4v4.4h-4.4zM268 239.6h4.4v4.4h-4.4zM259.2 262.5h4.4v4.4h-4.4zM243.2 267.7h4.4v4.4h-4.4zM261.1 265.8h4.4v4.4h-4.4zM255.6 251.9h4.4v4.4h-4.4zM280.6 247.1h4.4v4.4h-4.4zM275.1 247h4.4v4.4h-4.4zM277.9 280.4h4.4v4.4h-4.4zM262.6 275.2h4.4v4.4h-4.4zM252.3 264.5h4.4v4.4h-4.4zM256.9 267.3h4.4v4.4h-4.4zM283.7 255.4h4.4v4.4h-4.4zM248.7 279h4.4v4.4h-4.4zM275 237.5h4.4v4.4h-4.4zM264.7 253.8h4.4v4.4h-4.4zM274.1 255.9h4.4v4.4h-4.4zM256.9 280.8h4.4v4.4h-4.4zM287.1 258.4h4.4v4.4h-4.4zM265.8 261.8h4.4v4.4h-4.4zM251.1 253.9h4.4v4.4h-4.4zM256 269h4.4v4.4h-4.4zM261.9 262.9h4.4v4.4h-4.4zM256.1 258.1h4.4v4.4h-4.4zM250 272.5h4.4v4.4h-4.4zM257.1 250.1h4.4v4.4h-4.4zM267 260.1h4.4v4.4h-4.4zM272 259.3h4.4v4.4h-4.4zM278.1 269.6h4.4v4.4h-4.4zM272.9 269.4h4.4v4.4h-4.4zM287.8 261.1h4.4v4.4h-4.4zM271 260.7h4.4v4.4h-4.4zM254.7 272h4.4v4.4h-4.4zM263.9 238.5h4.4v4.4h-4.4zM251.8 253.1h4.4v4.4h-4.4zM245.3 243.9h4.4v4.4h-4.4zM261.1 238.7h4.4v4.4h-4.4zM256.3 259.8h4.4v4.4h-4.4zM261.4 250.1h4.4v4.4h-4.4zM264.7 257.1h4.4v4.4h-4.4zM254.2 269.9h4.4v4.4h-4.4zM275.2 283.5h4.4v4.4h-4.4zM271.7 252.3h4.4v4.4h-4.4zM257 267.2h4.4v4.4h-4.4zM281.4 263.5h4.4v4.4h-4.4zM258 268.8h4.4v4.4h-4.4zM277.1 278.4h4.4v4.4h-4.4zM263.9 249.2h4.4v4.4h-4.4zM265.2 251.1h4.4v4.4h-4.4zM261 276.2h4.4v4.4h-4.4zM259.1 276.3h4.4v4.4h-4.4zM255.6 259h4.4v4.4h-4.4zM259 256.8h4.4v4.4h-4.4zM273.9 270.4h4.4v4.4h-4.4zM248.5 241.2h4.4v4.4h-4.4zM269.3 240.7h4.4v4.4h-4.4zM247.7 261h4.4v4.4h-4.4zM281.8 270.5h4.4v4.4h-4.4zM261.7 278.7h4.4v4.4h-4.4zM252.9 249.2h4.4v4.4h-4.4zM260.9 260.9h4.4v4.4h-4.4zM251.7 242.8h4.4v4.4h-4.4zM261.4 279.9h4.4v4.4h-4.4zM281.9 273.1h4.4v4.4h-4.4zM273.7 282h4.4v4.4h-4.4zM244.3 254.2h4.4v4.4h-4.4zM255.3 261.1h4.4v4.4h-4.4zM251.6 269.1h4.4v4.4h-4.4zM267.5 259.7h4.4v4.4h-4.4zM269.2 270.5h4.4v4.4h-4.4zM248.3 267h4.4v4.4h-4.4zM264.6 250.8h4.4v4.4h-4.4zM270.5 242.6h4.4v4.4h-4.4zM242.1 270.7h4.4v4.4h-4.4zM254.7 251.8h4.4v4.4h-4.4zM258.2 244.8h4.4v4.4h-4.4zM268.6 280.8h4.4v4.4h-4.4zM257.4 254.5h4.4v4.4h-4.4zM262.2 245.8h4.4v4.4h-4.4zM262.3 244.1h4.4v4.4h-4.4zM260.6 267.7h4.4v4.4h-4.4zM268.6 262.7h4.4v4.4h-4.4zM251.4 247.2h4.4v4.4h-4.4zM247.2 259.1h4.4v4.4h-4.4zM261.4 271.1h4.4v4.4h-4.4zM275.1 241.4h4.4v4.4h-4.4zM260.9 278.7h4.4v4.4h-4.4zM248.5 247.9h4.4v4.4h-4.4zM282.5 261.2h4.4v4.4h-4.4zM281.4 272.5h4.4v4.4h-4.4zM241.7 261.9h4.4v4.4h-4.4zM270.9 256.9h4.4v4.4h-4.4zM287.2 251h4.4v4.4h-4.4zM285.8 268.9h4.4v4.4h-4.4zM268.7 258.9h4.4v4.4h-4.4zM259.1 271.2h4.4v4.4h-4.4zM248.8 259.2h4.4v4.4h-4.4zM266 251.4h4.4v4.4h-4.4zM269.3 249.3h4.4v4.4h-4.4zM247.7 260.8h4.4v4.4h-4.4zM251.8 268.2h4.4v4.4h-4.4zM275.3 254.9h4.4v4.4h-4.4zM251.9 237.2h4.4v4.4h-4.4zM265.1 262.2h4.4v4.4h-4.4zM246.9 261.1h4.4v4.4h-4.4zM258 233.7h4.4v4.4h-4.4zM245.3 279.5h4.4v4.4h-4.4zM275 254.9h4.4v4.4h-4.4zM262.2 270.8h4.4v4.4h-4.4zM274.6 264.6h4.4v4.4h-4.4zM254.7 253.7h4.4v4.4h-4.4zM252.9 277h4.4v4.4h-4.4zM258.7 254.6h4.4v4.4h-4.4zM256.5 261.7h4.4v4.4h-4.4zM264.9 266.3h4.4v4.4h-4.4zM276 270.3h4.4v4.4h-4.4zM266.8 237.3h4.4v4.4h-4.4zM262.6 241.9h4.4v4.4h-4.4zM240.5 248.8h4.4v4.4h-4.4zM268 257.9h4.4v4.4h-4.4zM268.3 238.5h4.4v4.4h-4.4zM239 267.4h4.4v4.4h-4.4zM268.2 267.5h4.4v4.4h-4.4zM253.5 263.5h4.4v4.4h-4.4zM248.3 254.8h4.4v4.4h-4.4zM284.3 263.6h4.4v4.4h-4.4zM254.4 253.7h4.4v4.4h-4.4zM260.2 279.9h4.4v4.4h-4.4zM274.5 260.1h4.4v4.4h-4.4zM250.9 252h4.4v4.4h-4.4zM275.7 254h4.4v4.4h-4.4zM260.5 263.1h4.4v4.4h-4.4zM228 248.2h4.4v4.4h-4.4zM243.8 254.3h4.4v4.4h-4.4zM268.4 276.9h4.4v4.4h-4.4zM264.7 281.5h4.4v4.4h-4.4zM289.1 257.2h4.4v4.4h-4.4zM249.9 219.2h4.4v4.4h-4.4zM263 254.1h4.4v4.4h-4.4zM262.9 267.3h4.4v4.4h-4.4zM261.3 257.8h4.4v4.4h-4.4zM217.9 250h4.4v4.4h-4.4zM279.9 248.5h4.4v4.4h-4.4zM244.4 249.8h4.4v4.4h-4.4zM222.9 219.7h4.4v4.4h-4.4zM236.9 282.5h4.4v4.4h-4.4zM243.6 233h4.4v4.4h-4.4zM247.8 259.2h4.4v4.4h-4.4zM274.6 234.1h4.4v4.4h-4.4zM234.6 238.4h4.4v4.4h-4.4zM230.8 259.6h4.4v4.4h-4.4zM248.2 238.7h4.4v4.4h-4.4zM284.7 276.2h4.4v4.4h-4.4zM231.8 233.6h4.4v4.4h-4.4zM237.3 255h4.4v4.4h-4.4zM262 251.2h4.4v4.4h-4.4zM248.9 235.6h4.4v4.4h-4.4zM242.2 255.7h4.4v4.4h-4.4zM262.3 247.3h4.4v4.4h-4.4zM245.8 234.1h4.4v4.4h-4.4zM223.2 208.7h4.4v4.4h-4.4zM247.5 268.5h4.4v4.4h-4.4zM250.3 240.4h4.4v4.4h-4.4zM241.7 223.8h4.4v4.4h-4.4zM235.4 249.6h4.4v4.4h-4.4zM228.7 242h4.4v4.4h-4.4zM230 245.4h4.4v4.4h-4.4zM249 238h4.4v4.4h-4.4zM278.5 245h4.4v4.4h-4.4zM227.2 247h4.4v4.4h-4.4zM261.5 263.5h4.4v4.4h-4.4zM260.1 249.5h4.4v4.4h-4.4zM276.2 282.7h4.4v4.4h-4.4zM281.9 260.3h4.4v4.4h-4.4zM260.7 242.7h4.4v4.4h-4.4zM233.2 226.7h4.4v4.4h-4.4zM241.7 224.5h4.4v4.4h-4.4zM240.4 231.2h4.4v4.4h-4.4zM243 246h4.4v4.4h-4.4zM223.2 233.9h4.4v4.4h-4.4zM215.7 221.5h4.4v4.4h-4.4zM230.9 258.6h4.4v4.4h-4.4zM263.8 248.9h4.4v4.4h-4.4zM236.4 244.4h4.4v4.4h-4.4zM243.2 262.4h4.4v4.4h-4.4zM242 263.5h4.4v4.4h-4.4zM266 244.4h4.4v4.4h-4.4zM237.2 225.8h4.4v4.4h-4.4zM267.4 243.1h4.4v4.4h-4.4zM284 241.3h4.4v4.4h-4.4zM255.7 231.9h4.4v4.4h-4.4zM254 255.5h4.4v4.4h-4.4zM261.3 229.4h4.4v4.4h-4.4zM241.2 226.1h4.4v4.4h-4.4zM275.5 255.2h4.4v4.4h-4.4zM248.4 269.2h4.4v4.4h-4.4zM240.2 228.7h4.4v4.4h-4.4zM273.9 246.8h4.4v4.4h-4.4zM247.1 265.1h4.4v4.4h-4.4zM261.5 248.3h4.4v4.4h-4.4zM261.8 243h4.4v4.4h-4.4zM248.4 231.5h4.4v4.4h-4.4zM249.4 255h4.4v4.4h-4.4zM272.5 250h4.4v4.4h-4.4zM241.7 219h4.4v4.4h-4.4zM251.1 275.2h4.4v4.4h-4.4zM241.8 230.1h4.4v4.4h-4.4zM260.4 235.2h4.4v4.4h-4.4zM229.8 254.1h4.4v4.4h-4.4zM223 235h4.4v4.4h-4.4zM283.9 252.2h4.4v4.4h-4.4zM269.9 265.7h4.4v4.4h-4.4zM229.9 252.5h4.4v4.4h-4.4zM253.9 246.6h4.4v4.4h-4.4zM248.9 228.3h4.4v4.4h-4.4zM242.4 236.9h4.4v4.4h-4.4zM266.7 257.1h4.4v4.4h-4.4zM259.7 247.9h4.4v4.4h-4.4zM259.4 255.1h4.4v4.4h-4.4zM270.2 271.9h4.4v4.4h-4.4zM220.6 221.4h4.4v4.4h-4.4zM230.6 255.2h4.4v4.4h-4.4zM240.2 261h4.4v4.4h-4.4zM271.1 251.1h4.4v4.4h-4.4zM243.7 244.7h4.4v4.4h-4.4zM274.2 239.3h4.4v4.4h-4.4zM222.3 228.7h4.4v4.4h-4.4zM260.7 221.5h4.4v4.4h-4.4zM218 222.5h4.4v4.4h-4.4zM236.6 247.1h4.4v4.4h-4.4zM234.9 262.2h4.4v4.4h-4.4zM209.2 228.9h4.4v4.4h-4.4zM245.7 223.3h4.4v4.4h-4.4zM252.4 242.5h4.4v4.4h-4.4zM288.7 247.1h4.4v4.4h-4.4zM250.8 260.7h4.4v4.4h-4.4zM248.2 250h4.4v4.4h-4.4zM263.9 226.2h4.4v4.4h-4.4zM262.3 213.9h4.4v4.4h-4.4zM256.1 276.4h4.4v4.4h-4.4zM209.9 243.6h4.4v4.4h-4.4zM264.1 225h4.4v4.4h-4.4zM229.7 245.4h4.4v4.4h-4.4zM260.4 232.3h4.4v4.4h-4.4zM264.5 255.8h4.4v4.4h-4.4zM254.9 223.5h4.4v4.4h-4.4zM249.3 268.1h4.4v4.4h-4.4zM234 228.3h4.4v4.4h-4.4zM242.8 246.5h4.4v4.4h-4.4zM244.6 265h4.4v4.4h-4.4zM278.9 230.6h4.4v4.4h-4.4zM268.7 263.5h4.4v4.4h-4.4zM230.9 231.5h4.4v4.4h-4.4zM225 244.5h4.4v4.4h-4.4zM277.1 239h4.4v4.4h-4.4zM249.8 273.4h4.4v4.4h-4.4zM252.4 270.3h4.4v4.4h-4.4zM276.6 270.1h4.4v4.4h-4.4zM229.6 240.5h4.4v4.4h-4.4zM241.6 252.5h4.4v4.4h-4.4zM264.3 268.9h4.4v4.4h-4.4zM233.6 255h4.4v4.4h-4.4zM267.5 255.4h4.4v4.4h-4.4zM238.5 255.1h4.4v4.4h-4.4zM244.9 224.8h4.4v4.4h-4.4zM258.1 282.7h4.4v4.4h-4.4zM228.1 267.4h4.4v4.4h-4.4zM260.8 267.7h4.4v4.4h-4.4zM231.5 251.6h4.4v4.4h-4.4zM240.8 239.6h4.4v4.4h-4.4zM224.4 256h4.4v4.4h-4.4zM252.2 251.2h4.4v4.4h-4.4zM286.9 243.9h4.4v4.4h-4.4zM248.7 250.6h4.4v4.4h-4.4zM250.6 227h4.4v4.4h-4.4zM272.4 286h4.4v4.4h-4.4zM262.7 268.8h4.4v4.4h-4.4zM259.6 269.3h4.4v4.4h-4.4zM255.4 249.6h4.4v4.4h-4.4zM240.2 224.3h4.4v4.4h-4.4zM259.4 236.2h4.4v4.4h-4.4zM266.6 242h4.4v4.4h-4.4zM280.4 241.8h4.4v4.4h-4.4zM241.1 271.5h4.4v4.4h-4.4zM271.8 255h4.4v4.4h-4.4zM273.6 269.7h4.4v4.4h-4.4zM257 253.8h4.4v4.4h-4.4zM211.2 229.8h4.4v4.4h-4.4zM249 266h4.4v4.4h-4.4zM222.6 244.9h4.4v4.4h-4.4zM251.5 222.7h4.4v4.4h-4.4zM228.6 235.8h4.4v4.4h-4.4zM224.5 263.8h4.4v4.4h-4.4zM251.2 277h4.4v4.4h-4.4zM259.3 231.5h4.4v4.4h-4.4zM222.9 221h4.4v4.4h-4.4zM258.7 285.8h4.4v4.4h-4.4zM216.3 227.2h4.4v4.4h-4.4zM274.2 246.2h4.4v4.4h-4.4zM258.5 239.1h4.4v4.4h-4.4zM250.3 254h4.4v4.4h-4.4zM245.1 242.3h4.4v4.4h-4.4zM236.1 239.9h4.4v4.4h-4.4zM284.1 246.6h4.4v4.4h-4.4zM239.4 253.9h4.4v4.4h-4.4zM244.7 228.4h4.4v4.4h-4.4zM240.1 258h4.4v4.4h-4.4zM221.7 230.7h4.4v4.4h-4.4zM275.4 238.1h4.4v4.4h-4.4zM235.8 271h4.4v4.4h-4.4zM251.6 246.5h4.4v4.4h-4.4zM282.9 263h4.4v4.4h-4.4zM231.3 264.8h4.4v4.4h-4.4zM294.6 261.2h4.4v4.4h-4.4zM240.7 252.5h4.4v4.4h-4.4zM267.9 274.8h4.4v4.4h-4.4zM229.6 250.6h4.4v4.4h-4.4zM250.6 275.6h4.4v4.4h-4.4zM274.6 236h4.4v4.4h-4.4zM273.3 256h4.4v4.4h-4.4zM228 257.6h4.4v4.4h-4.4zM256.1 274.9h4.4v4.4h-4.4zM238.8 256.2h4.4v4.4h-4.4zM258.3 261.6h4.4v4.4h-4.4zM216.9 231.6h4.4v4.4h-4.4zM243.6 265.7h4.4v4.4h-4.4zM254.4 259h4.4v4.4h-4.4zM270.1 230.9h4.4v4.4h-4.4zM217 218.7h4.4v4.4h-4.4zM231.6 244.2h4.4v4.4h-4.4zM233.9 222.2h4.4v4.4h-4.4zM262.7 259.8h4.4v4.4h-4.4zM227.3 243h4.4v4.4h-4.4zM266.7 238.7h4.4v4.4h-4.4zM235.8 241.7h4.4v4.4h-4.4zM249.3 242.1h4.4v4.4h-4.4zM255.1 260.5h4.4v4.4h-4.4zM268.1 221.9h4.4v4.4h-4.4zM242.4 241.9h4.4v4.4h-4.4zM246.9 243.6h4.4v4.4h-4.4zM252.5 265.8h4.4v4.4h-4.4zM288.4 251.7h4.4v4.4h-4.4zM264.6 254.9h4.4v4.4h-4.4zM280.9 262.6h4.4v4.4h-4.4zM247.3 230.6h4.4v4.4h-4.4zM267.6 244h4.4v4.4h-4.4zM256.6 270.5h4.4v4.4h-4.4zM248.8 249.9h4.4v4.4h-4.4zM215.9 263.5h4.4v4.4h-4.4zM277.7 243.8h4.4v4.4h-4.4zM280.3 247.5h4.4v4.4h-4.4zM247.7 259.9h4.4v4.4h-4.4zM250 233.3h4.4v4.4h-4.4zM249.2 259.3h4.4v4.4h-4.4zM248.6 254.4h4.4v4.4h-4.4zM224.5 224.1h4.4v4.4h-4.4zM229.9 232.1h4.4v4.4h-4.4zM239.2 218.4h4.4v4.4h-4.4zM236.9 224.9h4.4v4.4h-4.4zM245 238.1h4.4v4.4h-4.4zM270.2 239.8h4.4v4.4h-4.4zM282.1 263.1h4.4v4.4h-4.4zM231.1 235.4h4.4v4.4h-4.4zM246.3 229.9h4.4v4.4h-4.4zM266.4 228.4h4.4v4.4h-4.4zM282.6 239.4h4.4v4.4h-4.4zM223.5 246.9h4.4v4.4h-4.4zM264.9 264.8h4.4v4.4h-4.4zM226.9 215.8h4.4v4.4h-4.4zM244.8 224.7h4.4v4.4h-4.4zM238.2 243h4.4v4.4h-4.4zM261.3 259.3h4.4v4.4h-4.4zM232.3 230.3h4.4v4.4h-4.4zM242.9 259h4.4v4.4h-4.4zM242.7 227.5h4.4v4.4h-4.4zM249.6 218.3h4.4v4.4h-4.4zM261.9 241.9h4.4v4.4h-4.4zM255.6 269.3h4.4v4.4h-4.4zM246.2 247.6h4.4v4.4h-4.4zM239.3 241.2h4.4v4.4h-4.4zM237.5 262.1h4.4v4.4h-4.4zM228 252.6h4.4v4.4h-4.4zM256.8 260.3h4.4v4.4h-4.4zM239.2 214h4.4v4.4h-4.4zM247.2 247.2h4.4v4.4h-4.4zM206.5 250.4h4.4v4.4h-4.4zM253.6 247h4.4v4.4h-4.4zM267.7 244.1h4.4v4.4h-4.4zM235.9 236h4.4v4.4h-4.4zM270.8 228.1h4.4v4.4h-4.4zM224.8 247.3h4.4v4.4h-4.4zM276.5 268.6h4.4v4.4h-4.4zM247.9 254.7h4.4v4.4h-4.4zM287.9 266.3h4.4v4.4h-4.4zM230.9 260.5h4.4v4.4h-4.4zM249.6 271.4h4.4v4.4h-4.4zM271.9 248.3h4.4v4.4h-4.4zM244.1 210.4h4.4v4.4h-4.4zM232.5 244.7h4.4v4.4h-4.4zM223.8 221.5h4.4v4.4h-4.4zM229.2 239h4.4v4.4h-4.4zM285.6 233h4.4v4.4h-4.4zM262.6 263.9h4.4v4.4h-4.4zM231.1 256.3h4.4v4.4h-4.4zM260 240.2h4.4v4.4h-4.4zM281.9 261.3h4.4v4.4h-4.4zM270.1 259h4.4v4.4h-4.4zM253 256.2h4.4v4.4h-4.4zM278.4 253.6h4.4v4.4h-4.4zM250.2 242.2h4.4v4.4h-4.4zM258.9 256.8h4.4v4.4h-4.4zM250.8 259h4.4v4.4h-4.4zM221.8 220.6h4.4v4.4h-4.4zM249.4 254.3h4.4v4.4h-4.4zM278.9 264h4.4v4.4h-4.4zM244.2 287.6h4.4v4.4h-4.4zM249.2 234.9h4.4v4.4h-4.4zM237.5 209.2h4.4v4.4h-4.4zM239.3 259.4h4.4v4.4h-4.4zM250.4 256.6h4.4v4.4h-4.4zM237 262.8h4.4v4.4h-4.4zM228.5 223.3h4.4v4.4h-4.4zM270.8 223.4h4.4v4.4h-4.4zM239 236.1h4.4v4.4h-4.4zM285.1 264.5h4.4v4.4h-4.4zM279.9 258.2h4.4v4.4h-4.4zM285.5 269.9h4.4v4.4h-4.4zM251.3 285.1h4.4v4.4h-4.4zM223.9 241.3h4.4v4.4h-4.4zM265.7 258.5h4.4v4.4h-4.4zM267.8 238.8h4.4v4.4h-4.4zM236.6 226.5h4.4v4.4h-4.4zM218.8 228.9h4.4v4.4h-4.4zM240.3 217.6h4.4v4.4h-4.4zM229.5 212.8h4.4v4.4h-4.4zM224.1 228.2h4.4v4.4h-4.4zM232.9 225.5h4.4v4.4h-4.4zM222.1 211.3h4.4v4.4h-4.4zM230.9 235h4.4v4.4h-4.4zM224.5 231.9h4.4v4.4h-4.4zM232.9 232.7h4.4v4.4h-4.4zM235.2 216.7h4.4v4.4h-4.4zM224.5 234h4.4v4.4h-4.4zM235.4 214.1h4.4v4.4h-4.4zM243 233h4.4v4.4h-4.4zM226.2 216h4.4v4.4h-4.4zM236.1 225.9h4.4v4.4h-4.4zM227.1 231.8h4.4v4.4h-4.4zM232.9 228.9h4.4v4.4h-4.4zM229.2 223.1h4.4v4.4h-4.4zM240.8 226.9h4.4v4.4h-4.4zM227.1 217.5h4.4v4.4h-4.4zM228 225h4.4v4.4h-4.4zM234.7 226.8h4.4v4.4h-4.4zM231.4 208.7h4.4v4.4h-4.4zM239.3 217.7h4.4v4.4h-4.4zM258.3 209.1h4.4v4.4h-4.4zM243.9 213.9h4.4v4.4h-4.4zM257.1 222.1h4.4v4.4h-4.4zM258.2 223.5h4.4v4.4h-4.4zM258.1 216h4.4v4.4h-4.4zM258.4 228h4.4v4.4h-4.4zM248.5 224.7h4.4v4.4h-4.4zM248.5 221.3h4.4v4.4h-4.4zM275.7 228.5h4.4v4.4h-4.4zM253.1 218h4.4v4.4h-4.4zM246.2 219.9h4.4v4.4h-4.4zM269.3 219h4.4v4.4h-4.4zM246 209.7h4.4v4.4h-4.4zM278.8 222.7h4.4v4.4h-4.4zM250.9 224.7h4.4v4.4h-4.4zM251.9 216.5h4.4v4.4h-4.4zM247 220.9h4.4v4.4h-4.4zM258.1 230.6h4.4v4.4h-4.4zM258.9 216.3h4.4v4.4h-4.4zM246.4 221.7h4.4v4.4h-4.4zM250.9 218.2h4.4v4.4h-4.4zM250.6 229.8h4.4v4.4h-4.4zM250 207.3h4.4v4.4h-4.4zM260 218.2h4.4v4.4h-4.4zM253.7 225h4.4v4.4h-4.4zM303.8 261.3h4.4v4.4h-4.4zM293.9 258.9h4.4v4.4h-4.4zM289.4 254h4.4v4.4h-4.4zM299.2 273.1h4.4v4.4h-4.4zM286 272.2h4.4v4.4h-4.4zM301.6 270.9h4.4v4.4h-4.4zM292.9 279.2h4.4v4.4h-4.4zM304.5 281.4h4.4v4.4h-4.4zM296.8 275.5h4.4v4.4h-4.4zM287.8 276h4.4v4.4h-4.4zM304.2 269.1h4.4v4.4h-4.4zM296.5 283.1h4.4v4.4h-4.4zM295.8 287.7h4.4v4.4h-4.4zM297.9 281.2h4.4v4.4h-4.4zM293.5 275.5h4.4v4.4h-4.4zM295 276.7h4.4v4.4h-4.4zM292.3 273h4.4v4.4h-4.4zM303.4 273h4.4v4.4h-4.4zM302 271.1h4.4v4.4h-4.4zM295.7 270.3h4.4v4.4h-4.4zM286 265.5h4.4v4.4h-4.4zM300 265h4.4v4.4h-4.4zM293.8 276.4h4.4v4.4h-4.4zM296.5 270.2h4.4v4.4h-4.4zM292.6 275.3h4.4v4.4h-4.4zM291.5 267.2h4.4v4.4h-4.4zM298.3 258h4.4v4.4h-4.4zM288.9 280h4.4v4.4h-4.4zM293.3 266.1h4.4v4.4h-4.4zM294.9 287h4.4v4.4h-4.4zM268.5 290.9h4.4v4.4h-4.4zM255.7 282.8h4.4v4.4h-4.4zM254.3 284.7h4.4v4.4h-4.4zM258.4 295h4.4v4.4h-4.4zM254.8 284.6h4.4v4.4h-4.4zM266.7 279.6h4.4v4.4h-4.4zM280.2 280.6h4.4v4.4h-4.4zM278.5 283.7h4.4v4.4h-4.4zM272.2 284.3h4.4v4.4h-4.4zM268.5 276.6h4.4v4.4h-4.4zM285.1 287.7h4.4v4.4h-4.4zM270.6 287.8h4.4v4.4h-4.4zM268.4 282.6h4.4v4.4h-4.4zM268.8 276.1h4.4v4.4h-4.4zM267.2 276.4h4.4v4.4h-4.4zM268.7 282.3h4.4v4.4h-4.4zM270.2 283.3h4.4v4.4h-4.4zM263.1 283h4.4v4.4h-4.4zM278.9 294.1h4.4v4.4h-4.4zM258.3 293.9h4.4v4.4h-4.4zM279.9 283.9h4.4v4.4h-4.4zM259.3 287.2h4.4v4.4h-4.4zM263.3 291.7h4.4v4.4h-4.4zM274.5 284.7h4.4v4.4h-4.4zM246.3 287.4h4.4v4.4h-4.4zM251.9 287.4h4.4v4.4h-4.4zM271.5 288.7h4.4v4.4h-4.4zM271.9 282.7h4.4v4.4h-4.4zM275 291.4h4.4v4.4h-4.4zM267.8 281h4.4v4.4h-4.4zM271.7 283h4.4v4.4h-4.4zM264.8 295.6h4.4v4.4h-4.4zM265 281.5h4.4v4.4h-4.4zM270.9 284.4h4.4v4.4h-4.4zM249.3 285.3h4.4v4.4h-4.4zM275.8 281.9h4.4v4.4h-4.4zM278.4 282.6h4.4v4.4h-4.4zM243.1 285.3h4.4v4.4h-4.4zM249.5 288.3h4.4v4.4h-4.4zM252 283.1h4.4v4.4h-4.4zM215.1 227.5h4.4v4.4h-4.4zM211.9 230.5h4.4v4.4h-4.4zM218.1 231.5h4.4v4.4h-4.4zM220.1 231.3h4.4v4.4h-4.4zM212.1 238.4h4.4v4.4h-4.4zM205.5 227.9h4.4v4.4h-4.4zM216.3 233.8h4.4v4.4h-4.4zM208.6 227.7h4.4v4.4h-4.4zM213.9 233.5h4.4v4.4h-4.4zM214.1 241.9h4.4v4.4h-4.4zM213.3 239.2h4.4v4.4h-4.4zM215.8 241.5h4.4v4.4h-4.4zM206.8 241.3h4.4v4.4h-4.4zM213.1 236.3h4.4v4.4h-4.4zM211.9 248.1h4.4v4.4h-4.4zM210.4 247h4.4v4.4h-4.4zM219.9 242.9h4.4v4.4h-4.4zM210.8 230.1h4.4v4.4h-4.4zM210.5 242.2h4.4v4.4h-4.4zM207.3 242.9h4.4v4.4h-4.4zM212.4 226.3h4.4v4.4h-4.4zM208.4 228.4h4.4v4.4h-4.4zM206.4 238.9h4.4v4.4h-4.4zM218.1 242.5h4.4v4.4h-4.4zM210.7 237.3h4.4v4.4h-4.4zM213.8 240.3h4.4v4.4h-4.4zM216 235.5h4.4v4.4h-4.4zM204.5 233.5h4.4v4.4h-4.4zM207.5 264.4h4.4v4.4h-4.4zM211.8 269.1h4.4v4.4h-4.4zM225.9 270.1h4.4v4.4h-4.4zM216.3 280h4.4v4.4h-4.4zM223.4 288.1h4.4v4.4h-4.4zM230.9 285.1h4.4v4.4h-4.4zM237.5 276.2h4.4v4.4h-4.4zM207.5 250.9h4.4v4.4h-4.4zM206.6 239.7h4.4v4.4h-4.4zM221.6 254.7h4.4v4.4h-4.4zM219.7 258.4h4.4v4.4h-4.4z"/>
<path fill="#00f" d="M203.8 65.1h4.4v4.4h-4.4zM202.2 61.8h4.4v4.4h-4.4zM201.6 63h4.4v4.4h-4.4zM202.4 63.3h4.4v4.4h-4.4zM203.1 65h4.4v4.4h-4.4zM203.6 65.2h4.4v4.4h-4.4zM204.1 63.4h4.4v4.4h-4.4zM203.3 62h4.4v4.4h-4.4zM204.1 72.3h4.4v4.4h-4.4zM201.9 70.6h4.4v4.4h-4.4zM209 74.6h4.4v4.4h-4.4zM204.9 71.7h4.4v4.4h-4.4zM208.5 75.1h4.4v4.4h-4.4zM201.2 70.3h4.4v4.4h-4.4zM205.5 70.8h4.4v4.4h-4.4zM203 70.4h4.4v4.4h-4.4zM204.6 75.5h4.4v4.4h-4.4zM202.2 74h4.4v4.4h-4.4zM207.2 73.9h4.4v4.4h-4.4zM204.4 69.9h4.4v4.4h-4.4zM207.2 75.7h4.4v4.4h-4.4zM205.4 71.5h4.4v4.4h-4.4zM203.6 76.7h4.4v4.4h-4.4zM200.3 84h4.4v4.4h-4.4zM199 78.4h4.4v4.4h-4.4zM206.5 76h4.4v4.4h-4.4zM201.1 77.7h4.4v4.4h-4.4zM197.2 80.2h4.4v4.4h-4.4zM198.4 81h4.4v4.4h-4.4zM207.6 81.1h4.4v4.4h-4.4zM203.2 76.7h4.4v4.4h-4.4zM202.8 82h4.4v4.4h-4.4zM204.7 76.2h4.4v4.4h-4.4zM204.6 81.8h4.4v4.4h-4.4zM206 84.3h4.4v4.4h-4.4zM197.3 83.9h4.4v4.4h-4.4zM208.3 77.1h4.4v4.4h-4.4zM199.2 79.4h4.4v4.4h-4.4zM201.3 84.1h4.4v4.4h-4.4zM208.4 82.6h4.4v4.4h-4.4zM206.7 83.7h4.4v4.4h-4.4zM201.6 82.6h4.4v4.4h-4.4zM209.9 78.2h4.4v4.4h-4.4zM211.5 79.7h4.4v4.4h-4.4zM206.4 81.8h4.4v4.4h-4.4zM210.1 76.8h4.4v4.4h-4.4zM205.5 79.8h4.4v4.4h-4.4zM200.3 79.5h4.4v4.4h-4.4zM205.7 83.9h4.4v4.4h-4.4zM205.7 75.8h4.4v4.4h-4.4zM204.7 78.7h4.4v4.4h-4.4zM201.6 83.8h4.4v4.4h-4.4zM206.7 84h4.4v4.4h-4.4zM209.5 75.9h4.4v4.4h-4.4zM213 82h4.4v4.4h-4.4zM199.4 77.4h4.4v4.4h-4.4zM208.1 84.2h4.4v4.4h-4.4zM207.5 76.4h4.4v4.4h-4.4zM211.9 82.6h4.4v4.4h-4.4zM197.7 82.2h4.4v4.4h-4.4zM198.5 76h4.4v4.4h-4.4zM201.2 76.1h4.4v4.4h-4.4zM205 83.5h4.4v4.4h-4.4zM209.9 80.8h4.4v4.4h-4.4zM201.4 76.9h4.4v4.4h-4.4zM214.5 95.3h4.4v4.4h-4.4zM195.4 94.9h4.4v4.4h-4.4zM200 99.2h4.4v4.4h-4.4zM203.1 99.3h4.4v4.4h-4.4zM210.4 100.3h4.4v4.4h-4.4zM197.8 94.8h4.4v4.4h-4.4zM196.8 85.9h4.4v4.4h-4.4zM196.5 85.6h4.4v4.4h-4.4zM208.9 88.9h4.4v4.4h-4.4zM195.3 94.9h4.4v4.4h-4.4zM213.7 86.1h4.4v4.4h-4.4zM199.1 95h4.4v4.4h-4.4zM209.5 89.3h4.4v4.4h-4.4zM206.2 88.3h4.4v4.4h-4.4zM212.5 102.3h4.4v4.4h-4.4zM204.5 89.1h4.4v4.4h-4.4zM211.7 96h4.4v4.4h-4.4zM194.9 87.6h4.4v4.4h-4.4zM204.1 86.1h4.4v4.4h-4.4zM206.5 95.7h4.4v4.4h-4.4zM214.5 90.5h4.4v4.4h-4.4zM202.7 95.2h4.4v4.4h-4.4zM209.9 94.7h4.4v4.4h-4.4zM200.5 96.8h4.4v4.4h-4.4zM201.8 86h4.4v4.4h-4.4zM199.3 96.1h4.4v4.4h-4.4zM196.6 98.3h4.4v4.4h-4.4zM210.7 89.5h4.4v4.4h-4.4zM207.3 88.3h4.4v4.4h-4.4zM213.5 94.2h4.4v4.4h-4.4zM196 89.5h4.4v4.4h-4.4zM210.7 98h4.4v4.4h-4.4zM214.1 101.1h4.4v4.4h-4.4zM199 85.1h4.4v4.4h-4.4zM214.1 95.9h4.4v4.4h-4.4zM206.7 101.9h4.4v4.4h-4.4zM208.3 101.3h4.4v4.4h-4.4zM204.5 91.8h4.4v4.4h-4.4zM206.1 95.7h4.4v4.4h-4.4zM213.9 101.5h4.4v4.4h-4.4zM214.1 91.9h4.4v4.4h-4.4zM197.1 87.9h4.4v4.4h-4.4zM204.6 87.2h4.4v4.4h-4.4zM213.3 85.2h4.4v4.4h-4.4zM195.7 99.7h4.4v4.4h-4.4zM201.2 88h4.4v4.4h-4.4zM210.7 87.2h4.4v4.4h-4.4zM213.6 91h4.4v4.4h-4.4zM212.6 95.3h4.4v4.4h-4.4zM213.5 100h4.4v4.4h-4.4zM205.8 93.1h4.4v4.4h-4.4zM201.1 99.2h4.4v4.4h-4.4zM206.9 93.6h4.4v4.4h-4.4zM206.2 85.1h4.4v4.4h-4.4zM211 92.6h4.4v4.4h-4.4zM212.6 90.5h4.4v4.4h-4.4zM198.7 95.2h4.4v4.4h-4.4zM207.6 99h4.4v4.4h-4.4zM202.8 85.8h4.4v4.4h-4.4zM213.6 97h4.4v4.4h-4.4zM213.8 84.8h4.4v4.4h-4.4zM214.3 91.6h4.4v4.4h-4.4zM211.7 95.7h4.4v4.4h-4.4zM207.6 95.1h4.4v4.4h-4.4zM206.4 89.9h4.4v4.4h-4.4zM212.4 98.3h4.4v4.4h-4.4zM209.2 98.4h4.4v4.4h-4.4zM201.9 100.4h4.4v4.4h-4.4zM204.2 96.9h4.4v4.4h-4.4zM203 91.7h4.4v4.4h-4.4zM201.2 92h4.4v4.4h-4.4zM203.7 96h4.4v4.4h-4.4zM209.1 102.3h4.4v4.4h-4.4zM203.1 88.4h4.4v4.4h-4.4zM210.7 91h4.4v4.4h-4.4zM213.5 100.6h4.4v4.4h-4.4zM200.6 96.7h4.4v4.4h-4.4zM211.7 89.3h4.4v4.4h-4.4zM211 94.3h4.4v4.4h-4.4zM209.7 95.1h4.4v4.4h-4.4zM210.4 94.1h4.4v4.4h-4.4zM204.4 95h4.4v4.4h-4.4zM196.1 91h4.4v4.4h-4.4zM196.4 91.6h4.4v4.4h-4.4zM199.2 102.5h4.4v4.4h-4.4zM212.9 99.4h4.4v4.4h-4.4zM206.6 97.2h4.4v4.4h-4.4zM203.8 87.7h4.4v4.4h-4.4zM199.2 91h4.4v4.4h-4.4zM201.3 95.5h4.4v4.4h-4.4zM213.7 101.3h4.4v4.4h-4.4zM196.9 89.4h4.4v4.4h-4.4zM204.5 88.3h4.4v4.4h-4.4zM199.4 97.9h4.4v4.4h-4.4zM207.2 92.3h4.4v4.4h-4.4zM196.6 89h4.4v4.4h-4.4zM204.5 94.1h4.4v4.4h-4.4zM206.9 87.5h4.4v4.4h-4.4zM208.1 94.6h4.4v4.4h-4.4zM209.5 87.4h4.4v4.4h-4.4zM205 88.8h4.4v4.4h-4.4zM195.8 98.9h4.4v4.4h-4.4zM212.2 90.6h4.4v4.4h-4.4zM206.2 100h4.4v4.4h-4.4zM214.4 100.4h4.4v4.4h-4.4zM212.5 99.7h4.4v4.4h-4.4zM207.5 86.6h4.4v4.4h-4.4zM207.3 116.2h4.4v4.4h-4.4zM196.8 118h4.4v4.4h-4.4zM209.4 117.4h4.4v4.4h-4.4zM200.8 107.7h4.4v4.4h-4.4zM202.4 114.8h4.4v4.4h-4.4zM204.2 117.9h4.4v4.4h-4.4zM214.1 117.7h4.4v4.4h-4.4zM198.6 108.5h4.4v4.4h-4.4zM205.9 119.9h4.4v4.4h-4.4zM207.5 121.3h4.4v4.4h-4.4zM205.9 121.7h4.4v4.4h-4.4zM198.5 112.8h4.4v4.4h-4.4zM196.4 109.6h4.4v4.4h-4.4zM210.3 105.8h4.4v4.4h-4.4zM202.9 103.4h4.4v4.4h-4.4zM208.6 119.2h4.4v4.4h-4.4zM199.5 115.9h4.4v4.4h-4.4zM206.9 111.2h4.4v4.4h-4.4zM199.9 121.6h4.4v4.4h-4.4zM200.9 107.5h4.4v4.4h-4.4zM204.4 117.1h4.4v4.4h-4.4zM205.7 103.9h4.4v4.4h-4.4zM211.3 106.8h4.4v4.4h-4.4zM196.3 108.4h4.4v4.4h-4.4zM211.7 114.1h4.4v4.4h-4.4zM210.2 110h4.4v4.4h-4.4zM206.1 112.5h4.4v4.4h-4.4zM210.5 121h4.4v4.4h-4.4zM209.8 103.4h4.4v4.4h-4.4zM213.8 111.6h4.4v4.4h-4.4zM201 107h4.4v4.4h-4.4zM204.1 104.3h4.4v4.4h-4.4zM208.2 104.9h4.4v4.4h-4.4zM208.8 118.1h4.4v4.4h-4.4zM202.4 117.4h4.4v4.4h-4.4zM203.9 118.9h4.4v4.4h-4.4zM207.5 118.5h4.4v4.4h-4.4zM197.2 105.5h4.4v4.4h-4.4zM196.9 103.1h4.4v4.4h-4.4zM198.1 111.5h4.4v4.4h-4.4zM210.7 103.3h4.4v4.4h-4.4zM210.1 110.3h4.4v4.4h-4.4zM204.4 111.4h4.4v4.4h-4.4zM204.9 111.9h4.4v4.4h-4.4zM203.4 118.1h4.4v4.4h-4.4zM196.9 120h4.4v4.4h-4.4zM198.4 117.5h4.4v4.4h-4.4zM196.2 114.6h4.4v4.4h-4.4zM196 113h4.4v4.4h-4.4zM212.3 120.9h4.4v4.4h-4.4zM212.7 117.9h4.4v4.4h-4.4zM198.8 105.6h4.4v4.4h-4.4zM207.9 106.4h4.4v4.4h-4.4zM213.9 120h4.4v4.4h-4.4zM209.5 116.3h4.4v4.4h-4.4zM203.4 120.1h4.4v4.4h-4.4zM199.1 107.5h4.4v4.4h-4.4zM211.7 105.1h4.4v4.4h-4.4zM200.9 105.6h4.4v4.4h-4.4zM201.8 118.4h4.4v4.4h-4.4zM201 121.5h4.4v4.4h-4.4zM201.9 112.9h4.4v4.4h-4.4zM202.8 120.1h4.4v4.4h-4.4zM205.6 111h4.4v4.4h-4.4zM196.8 120.6h4.4v4.4h-4.4zM212.4 116.4h4.4v4.4h-4.4zM206 103.3h4.4v4.4h-4.4zM212.3 109h4.4v4.4h-4.4zM208.9 113.4h4.4v4.4h-4.4zM207.8 111.4h4.4v4.4h-4.4zM196 108.3h4.4v4.4h-4.4zM201.8 113.8h4.4v4.4h-4.4zM213.2 112.6h4.4v4.4h-4.4zM200.6 110.9h4.4v4.4h-4.4zM213.7 109.9h4.4v4.4h-4.4zM211.2 120.6h4.4v4.4h-4.4zM200.3 120.3h4.4v4.4h-4.4zM200.2 104.5h4.4v4.4h-4.4zM199.2 108.8h4.4v4.4h-4.4zM203.7 114.3h4.4v4.4h-4.4zM199.5 118.3h4.4v4.4h-4.4zM200.5 116.1h4.4v4.4h-4.4zM202.5 113.7h4.4v4.4h-4.4zM200.2 103.9h4.4v4.4h-4.4zM205.2 115.4h4.4v4.4h-4.4zM199.2 112.7h4.4v4.4h-4.4zM214.6 113.6h4.4v4.4h-4.4zM206.9 118.3h4.4v4.4h-4.4zM212.2 121.3h4.4v4.4h-4.4zM196.6 114.1h4.4v4.4h-4.4zM197 104.6h4.4v4.4h-4.4zM203 111.4h4.4v4.4h-4.4zM199.2 121.3h4.4v4.4h-4.4zM209.8 121.3h4.4v4.4h-4.4zM207.6 118.5h4.4v4.4h-4.4zM204.8 115.5h4.4v4.4h-4.4zM202.7 103h4.4v4.4h-4.4zM209.7 112.1h4.4v4.4h-4.4zM204.6 111.7h4.4v4.4h-4.4zM195.9 105.4h4.4v4.4h-4.4zM201.9 117.2h4.4v4.4h-4.4zM200.2 121.5h4.4v4.4h-4.4zM205.9 109.2h4.4v4.4h-4.4zM204.6 117.1h4.4v4.4h-4.4zM201.8 105.2h4.4v4.4h-4.4zM208.6 112.4h4.4v4.4h-4.4zM198.5 117.4h4.4v4.4h-4.4zM205.4 122h4.4v4.4h-4.4zM196.9 129.1h4.4v4.4h-4.4zM208 127.9h4.4v4.4h-4.4zM212 125.8h4.4v4.4h-4.4zM196.7 127.6h4.4v4.4h-4.4zM211 126.2h4.4v4.4h-4.4zM207.3 129.3h4.4v4.4h-4.4zM206.2 127.9h4.4v4.4h-4.4zM206.1 124.3h4.4v4.4h-4.4zM202.5 127.8h4.4v4.4h-4.4zM199.9 129.5h4.4v4.4h-4.4zM201.4 128.5h4.4v4.4h-4.4zM203.7 128.8h4.4v4.4h-4.4zM202.5 129.1h4.4v4.4h-4.4zM209.6 123.7h4.4v4.4h-4.4zM209 124.6h4.4v4.4h-4.4zM200.3 128.5h4.4v4.4h-4.4zM199.8 123.7h4.4v4.4h-4.4zM202.9 123.1h4.4v4.4h-4.4zM198.3 122h4.4v4.4h-4.4zM209.9 127.9h4.4v4.4h-4.4zM200.4 122.5h4.4v4.4h-4.4zM212.2 123.7h4.4v4.4h-4.4zM205.8 128.2h4.4v4.4h-4.4zM210.7 124.5h4.4v4.4h-4.4zM212.1 125.7h4.4v4.4h-4.4zM204.5 128.2h4.4v4.4h-4.4zM213.3 122.9h4.4v4.4h-4.4zM199.9 123.2h4.4v4.4h-4.4zM203.4 125.7h4.4v4.4h-4.4zM209 123.1h4.4v4.4h-4.4zM207.5 123.5h4.4v4.4h-4.4zM200.1 128.6h4.4v4.4h-4.4zM209.1 127.2h4.4v4.4h-4.4zM206.5 127.5h4.4v4.4h-4.4zM209 124.5h4.4v4.4h-4.4zM203.6 130.3h4.4v4.4h-4.4zM197.6 128.8h4.4v4.4h-4.4zM199.8 129.3h4.4v4.4h-4.4zM201.6 125.4h4.4v4.4h-4.4zM212.1 122.5h4.4v4.4h-4.4zM205.5 125.1h4.4v4.4h-4.4zM198.8 126.2h4.4v4.4h-4.4zM197.7 123.7h4.4v4.4h-4.4zM200.9 126.4h4.4v4.4h-4.4zM199 134h4.4v4.4h-4.4zM199.6 137.9h4.4v4.4h-4.4zM200.8 139.7h4.4v4.4h-4.4zM198.5 136h4.4v4.4h-4.4zM200.7 137.9h4.4v4.4h-4.4zM208.2 135.6h4.4v4.4h-4.4zM205.6 132.1h4.4v4.4h-4.4zM208.7 132.7h4.4v4.4h-4.4zM200.5 137.3h4.4v4.4h-4.4zM198.6 138.6h4.4v4.4h-4.4zM205.6 138.5h4.4v4.4h-4.4zM208.6 134.4h4.4v4.4h-4.4zM211.3 137.3h4.4v4.4h-4.4zM197.4 133.3h4.4v4.4h-4.4zM209.3 139.2h4.4v4.4h-4.4zM205 137.4h4.4v4.4h-4.4zM208.6 137.2h4.4v4.4h-4.4zM208.8 134.2h4.4v4.4h-4.4zM206.3 137.6h4.4v4.4h-4.4zM207.7 134.4h4.4v4.4h-4.4zM209.2 130.8h4.4v4.4h-4.4zM201.5 138.9h4.4v4.4h-4.4zM200.4 131.9h4.4v4.4h-4.4zM210.5 133.5h4.4v4.4h-4.4zM201.8 135.7h4.4v4.4h-4.4zM201.5 132h4.4v4.4h-4.4zM202.4 136.3h4.4v4.4h-4.4zM204 134.9h4.4v4.4h-4.4zM203.8 138.3h4.4v4.4h-4.4zM207.4 133.9h4.4v4.4h-4.4zM204.3 132.8h4.4v4.4h-4.4zM206.7 133.6h4.4v4.4h-4.4zM204.1 138.7h4.4v4.4h-4.4zM204.2 137.9h4.4v4.4h-4.4zM199.8 136.7h4.4v4.4h-4.4zM210.7 134.7h4.4v4.4h-4.4zM208.5 136.2h4.4v4.4h-4.4zM204.8 135.3h4.4v4.4h-4.4zM201.1 147.4h4.4v4.4h-4.4zM213.8 145h4.4v4.4h-4.4zM202.4 144.5h4.4v4.4h-4.4zM204.1 147.4h4.4v4.4h-4.4zM208.2 146.1h4.4v4.4h-4.4zM210.7 148.3h4.4v4.4h-4.4zM200.2 147.3h4.4v4.4h-4.4zM201.6 148.7h4.4v4.4h-4.4zM212.3 142.7h4.4v4.4h-4.4zM208.9 139.9h4.4v4.4h-4.4zM207.3 147.6h4.4v4.4h-4.4zM209.9 142.1h4.4v4.4h-4.4zM201.4 144.1h4.4v4.4h-4.4zM215.1 148.2h4.4v4.4h-4.4zM212 144.2h4.4v4.4h-4.4zM209.1 143.6h4.4v4.4h-4.4zM206.5 143.4h4.4v4.4h-4.4zM211.7 141.5h4.4v4.4h-4.4zM200.5 142.4h4.4v4.4h-4.4zM199 141.1h4.4v4.4h-4.4zM208.7 146.2h4.4v4.4h-4.4zM208.1 147h4.4v4.4h-4.4zM211.1 146.9h4.4v4.4h-4.4zM206.4 146.8h4.4v4.4h-4.4zM202.5 145.6h4.4v4.4h-4.4zM201.5 142.7h4.4v4.4h-4.4zM202.7 143.5h4.4v4.4h-4.4zM213.2 143.5h4.4v4.4h-4.4zM212.8 142.7h4.4v4.4h-4.4zM205.4 145.5h4.4v4.4h-4.4zM210.2 147.5h4.4v4.4h-4.4zM209.8 142.1h4.4v4.4h-4.4zM204.5 143.7h4.4v4.4h-4.4zM208.9 142.8h4.4v4.4h-4.4zM210.1 142.2h4.4v4.4h-4.4zM206.6 142.5h4.4v4.4h-4.4zM203.2 147.8h4.4v4.4h-4.4zM213.2 145.1h4.4v4.4h-4.4zM212.7 143.8h4.4v4.4h-4.4zM210.9 151.3h4.4v4.4h-4.4zM205.2 154.9h4.4v4.4h-4.4zM207.4 148.9h4.4v4.4h-4.4zM207.4 157.2h4.4v4.4h-4.4zM204.6 155.8h4.4v4.4h-4.4zM203.3 151.9h4.4v4.4h-4.4zM212.6 155.3h4.4v4.4h-4.4zM205.6 155h4.4v4.4h-4.4zM205.2 155h4.4v4.4h-4.4zM207.2 152.6h4.4v4.4h-4.4zM201.9 152h4.4v4.4h-4.4zM212.7 154.5h4.4v4.4h-4.4zM211.8 154.3h4.4v4.4h-4.4zM203.1 150.3h4.4v4.4h-4.4zM215.3 153.4h4.4v4.4h-4.4zM208.4 150.5h4.4v4.4h-4.4zM209.2 152.7h4.4v4.4h-4.4zM206.3 150.3h4.4v4.4h-4.4zM214.7 151.2h4.4v4.4h-4.4zM208.5 156h4.4v4.4h-4.4zM203.8 154.3h4.4v4.4h-4.4zM206.1 153.4h4.4v4.4h-4.4zM212.3 156.5h4.4v4.4h-4.4zM203.5 154.5h4.4v4.4h-4.4zM217.1 153h4.4v4.4h-4.4zM211.9 157.3h4.4v4.4h-4.4zM211.3 150.2h4.4v4.4h-4.4zM208.9 153.9h4.4v4.4h-4.4zM210.8 152.7h4.4v4.4h-4.4zM213.5 156.4h4.4v4.4h-4.4zM216.1 154h4.4v4.4h-4.4zM217.2 149.4h4.4v4.4h-4.4zM203.8 149.3h4.4v4.4h-4.4zM202.9 152.6h4.4v4.4h-4.4zM202.3 154.4h4.4v4.4h-4.4zM201.9 151.4h4.4v4.4h-4.4zM212.1 155.1h4.4v4.4h-4.4zM204.1 152.2h4.4v4.4h-4.4zM207.1 155.5h4.4v4.4h-4.4zM209.4 156h4.4v4.4h-4.4zM201.8 153.5h4.4v4.4h-4.4zM207.1 154.6h4.4v4.4h-4.4zM207.9 150.9h4.4v4.4h-4.4zM190.8 68.3h4.4v4.4h-4.4zM212.1 63.3h4.4v4.4h-4.4zM201.8 63.3h4.4v4.4h-4.4zM204.8 64.3h4.4v4.4h-4.4zM200.3 66.5h4.4v4.4h-4.4zM218.6 119.3h4.4v4.4h-4.4zM220.6 130.8h4.4v4.4h-4.4zM216.6 101.5h4.4v4.4h-4.4zM216.6 107.8h4.4v4.4h-4.4zM217.3 97.8h4.4v4.4h-4.4zM235.1 175.6h4.4v4.4h-4.4zM233.6 185.1h4.4v4.4h-4.4zM242.3 191.6h4.4v4.4h-4.4zM235.6 197.8h4.4v4.4h-4.4zM247.6 202.8h4.4v4.4h-4.4zM229.6 194.1h4.4v4.4h-4.4zM199.1 139.1h4.4v4.4h-4.4zM202.8 139.1h4.4v4.4h-4.4zM207.2 139.1h4.4v4.4h-4.4zM210.3 139.3h4.4v4.4h-4.4zM202.8 143.4h4.4v4.4h-4.4zM207.8 143.4h4.4v4.4h-4.4zM212.8 143.4h4.4v4.4h-4.4zM216.6 143.8h4.4v4.4h-4.4zM200.9 147.2h4.4v4.4h-4.4zM204.7 147.2h4.4v4.4h-4.4zM209.1 147.2h4.4v4.4h-4.4zM215.3 147.6h4.4v4.4h-4.4zM199.7 151.6h4.4v4.4h-4.4zM202.8 151.6h4.4v4.4h-4.4zM209.1 151.6h4.4v4.4h-4.4zM214.1 151.6h4.4v4.4h-4.4zM217.8 151.8h4.4v4.4h-4.4zM207.8 155.3h4.4v4.4h-4.4zM211.6 155.3h4.4v4.4h-4.4zM215.3 155.3h4.4v4.4h-4.4zM202.8 158.4h4.4v4.4h-4.4zM206.6 158.4h4.4v4.4h-4.4zM210.9 158.4h4.4v4.4h-4.4zM206.6 162.2h4.4v4.4h-4.4zM210.3 162.2h4.4v4.4h-4.4zM219.1 162.2h4.4v4.4h-4.4zM222.8 161.6h4.4v4.4h-4.4zM227.2 162.8h4.4v4.4h-4.4zM205.9 164.7h4.4v4.4h-4.4zM209.7 164.7h4.4v4.4h-4.4zM214.1 164.7h4.4v4.4h-4.4zM217.8 165.3h4.4v4.4h-4.4zM208.4 167.8h4.4v4.4h-4.4zM212.8 167.8h4.4v4.4h-4.4zM220.3 167.6h4.4v4.4h-4.4zM229.1 167.2h4.4v4.4h-4.4zM209.1 170.9h4.4v4.4h-4.4zM213.4 170.9h4.4v4.4h-4.4zM212.8 174.1h4.4v4.4h-4.4zM216.6 174.1h4.4v4.4h-4.4zM221.6 174.1h4.4v4.4h-4.4zM235.1 175.3h4.4v4.4h-4.4zM215.3 177.8h4.4v4.4h-4.4zM219.1 177.8h4.4v4.4h-4.4zM223.4 177.8h4.4v4.4h-4.4zM217.8 180.9h4.4v4.4h-4.4zM222.2 180.9h4.4v4.4h-4.4zM227.2 180.9h4.4v4.4h-4.4zM225.3 184.7h4.4v4.4h-4.4zM229.7 184.7h4.4v4.4h-4.4zM233.4 185.1h4.4v4.4h-4.4zM220.9 187.8h4.4v4.4h-4.4zM225.9 188.1h4.4v4.4h-4.4zM242.8 191.3h4.4v4.4h-4.4zM229.3 194.1h4.4v4.4h-4.4zM235.7 197.6h4.4v4.4h-4.4zM247.8 202.4h4.4v4.4h-4.4z"/>
<path fill="#000" d="M227.3 407.8h4.4v4.4h-4.4zM279.3 512.8h4.4v4.4h-4.4zM290.1 515.3h4.4v4.4h-4.4zM306.6 514.5h4.4v4.4h-4.4zM350.8 526h4.4v4.4h-4.4zM271.1 539.8h4.4v4.4h-4.4zM280.3 572.8h4.4v4.4h-4.4zM304.1 596.5h4.4v4.4h-4.4zM331.1 590.3h4.4v4.4h-4.4zM344.1 617.3h4.4v4.4h-4.4zM347.8 615.8h4.4v4.4h-4.4zM357.8 606.5h4.4v4.4h-4.4zM350.8 525.8h4.4v4.4h-4.4zM371.1 547h4.4v4.4h-4.4zM399.8 550.8h4.4v4.4h-4.4zM404.1 550.3h4.4v4.4h-4.4zM416.1 554h4.4v4.4h-4.4zM414.1 560.3h4.4v4.4h-4.4zM429.1 558.3h4.4v4.4h-4.4zM410.3 565.3h4.4v4.4h-4.4zM404.8 567h4.4v4.4h-4.4zM421.6 564h4.4v4.4h-4.4zM431.6 562.8h4.4v4.4h-4.4zM436.6 564h4.4v4.4h-4.4zM362.3 576h4.4v4.4h-4.4zM388.6 577h4.4v4.4h-4.4zM401.1 576.5h4.4v4.4h-4.4zM378.3 583.5h4.4v4.4h-4.4zM389.1 584h4.4v4.4h-4.4zM396.6 585.8h4.4v4.4h-4.4zM362.8 592.8h4.4v4.4h-4.4zM370.3 590.3h4.4v4.4h-4.4zM360.3 602h4.4v4.4h-4.4zM359.1 606.5h4.4v4.4h-4.4zM365.8 609.5h4.4v4.4h-4.4zM347.8 616.5h4.4v4.4h-4.4zM359.1 620.3h4.4v4.4h-4.4zM365.3 618.3h4.4v4.4h-4.4zM356.6 629h4.4v4.4h-4.4zM375.3 636.5h4.4v4.4h-4.4zM401.6 635.3h4.4v4.4h-4.4zM381.6 615.3h4.4v4.4h-4.4zM381.6 620.3h4.4v4.4h-4.4zM372.8 597.8h4.4v4.4h-4.4zM376.6 600.3h4.4v4.4h-4.4zM382.8 595.3h4.4v4.4h-4.4zM385.3 602.8h4.4v4.4h-4.4zM391.6 597.8h4.4v4.4h-4.4zM390.3 617.8h4.4v4.4h-4.4zM397.8 616.5h4.4v4.4h-4.4zM418.6 652h4.4v4.4h-4.4zM430.8 654h4.4v4.4h-4.4zM440.3 659h4.4v4.4h-4.4zM449.1 662.8h4.4v4.4h-4.4zM466.6 657.3h4.4v4.4h-4.4zM455.3 657.8h4.4v4.4h-4.4zM447.8 655.3h4.4v4.4h-4.4zM426.6 647.8h4.4v4.4h-4.4zM420.3 645.3h4.4v4.4h-4.4zM492.8 622.8h4.4v4.4h-4.4zM489.1 641.5h4.4v4.4h-4.4zM495.3 647.8h4.4v4.4h-4.4zM480.3 647.8h4.4v4.4h-4.4zM490.3 602.8h4.4v4.4h-4.4zM497.8 602.8h4.4v4.4h-4.4zM491.6 600.3h4.4v4.4h-4.4zM486.6 601.5h4.4v4.4h-4.4zM490.3 610.3h4.4v4.4h-4.4zM485.3 611.5h4.4v4.4h-4.4zM501.6 620.8h4.4v4.4h-4.4zM508.3 619h4.4v4.4h-4.4zM522.3 618.3h4.4v4.4h-4.4zM501.6 625.8h4.4v4.4h-4.4zM515.8 625.3h4.4v4.4h-4.4zM506.6 629.5h4.4v4.4h-4.4zM511.6 629.5h4.4v4.4h-4.4zM490.3 641.5h4.4v4.4h-4.4zM481.6 646.5h4.4v4.4h-4.4zM489.6 648.5h4.4v4.4h-4.4zM496.6 648.5h4.4v4.4h-4.4zM502.8 647.8h4.4v4.4h-4.4zM509.8 646.5h4.4v4.4h-4.4zM501.6 651.5h4.4v4.4h-4.4zM480.3 627.8h4.4v4.4h-4.4zM482.8 617.8h4.4v4.4h-4.4zM480.3 593.3h4.4v4.4h-4.4zM479.1 585.3h4.4v4.4h-4.4zM476.6 576.5h4.4v4.4h-4.4zM467.8 570.3h4.4v4.4h-4.4zM477.8 635.3h4.4v4.4h-4.4zM466.6 657h4.4v4.4h-4.4zM429.1 557.8h4.4v4.4h-4.4zM420.3 562.8h4.4v4.4h-4.4zM435.3 564h4.4v4.4h-4.4zM449.1 567.8h4.4v4.4h-4.4zM422.9 632.9h4.4v4.4h-4.4zM483.3 614.2h4.4v4.4h-4.4zM429.9 567.1h4.4v4.4h-4.4zM403.9 610.3h4.4v4.4h-4.4zM449.9 641h4.4v4.4h-4.4zM416.5 566.5h4.4v4.4h-4.4zM397.7 605.5h4.4v4.4h-4.4zM441.1 655.8h4.4v4.4h-4.4zM399.6 615.2h4.4v4.4h-4.4zM432.4 635.6h4.4v4.4h-4.4zM448.7 607h4.4v4.4h-4.4zM396.7 609.4h4.4v4.4h-4.4zM415.5 608h4.4v4.4h-4.4zM459.9 591.5h4.4v4.4h-4.4zM437.9 587.7h4.4v4.4h-4.4zM424.5 595.5h4.4v4.4h-4.4zM447.4 597.2h4.4v4.4h-4.4zM425.2 632.5h4.4v4.4h-4.4zM421.1 602.9h4.4v4.4h-4.4zM444.9 612.6h4.4v4.4h-4.4zM432.5 630.1h4.4v4.4h-4.4zM480.8 628.8h4.4v4.4h-4.4zM379.8 591h4.4v4.4h-4.4zM440.2 583.5h4.4v4.4h-4.4zM468.8 607.5h4.4v4.4h-4.4zM468 573h4.4v4.4h-4.4zM408.4 606.6h4.4v4.4h-4.4zM456.9 608.9h4.4v4.4h-4.4zM389.1 594.5h4.4v4.4h-4.4zM410.1 590.1h4.4v4.4h-4.4zM392.3 601.7h4.4v4.4h-4.4zM424 638.1h4.4v4.4h-4.4zM463 612.6h4.4v4.4h-4.4zM425.4 638.4h4.4v4.4h-4.4zM473.2 628h4.4v4.4h-4.4zM404.8 607.9h4.4v4.4h-4.4zM463 632.2h4.4v4.4h-4.4zM381.6 595.9h4.4v4.4h-4.4zM464.8 603h4.4v4.4h-4.4zM441 633.3h4.4v4.4h-4.4zM465.8 636.6h4.4v4.4h-4.4zM425.7 565.4h4.4v4.4h-4.4zM434.4 621.2h4.4v4.4h-4.4zM388.2 583.1h4.4v4.4h-4.4zM447.6 573.2h4.4v4.4h-4.4zM398.9 617.9h4.4v4.4h-4.4zM433.5 640.3h4.4v4.4h-4.4zM475.6 579.8h4.4v4.4h-4.4zM423.3 632.4h4.4v4.4h-4.4zM468.5 576.8h4.4v4.4h-4.4zM448.3 641.4h4.4v4.4h-4.4zM435.4 576.4h4.4v4.4h-4.4zM374.7 596.3h4.4v4.4h-4.4zM451.8 602.9h4.4v4.4h-4.4zM388.9 593.3h4.4v4.4h-4.4zM439.9 654.8h4.4v4.4h-4.4zM477.6 606.1h4.4v4.4h-4.4zM460.2 647.3h4.4v4.4h-4.4zM442.1 647.9h4.4v4.4h-4.4zM449.1 567h4.4v4.4h-4.4zM414.2 602h4.4v4.4h-4.4zM394.1 612.4h4.4v4.4h-4.4zM433.7 591.8h4.4v4.4h-4.4zM456.4 576h4.4v4.4h-4.4zM395.4 595.6h4.4v4.4h-4.4zM416.2 580.6h4.4v4.4h-4.4zM385.8 597.1h4.4v4.4h-4.4zM399.9 605.4h4.4v4.4h-4.4zM404.7 610.5h4.4v4.4h-4.4zM477.1 598.4h4.4v4.4h-4.4zM446.6 620h4.4v4.4h-4.4zM458 566h4.4v4.4h-4.4zM457.2 655.4h4.4v4.4h-4.4zM441.4 588.8h4.4v4.4h-4.4zM449.1 631.7h4.4v4.4h-4.4zM447.3 574.6h4.4v4.4h-4.4zM421.4 619.8h4.4v4.4h-4.4zM465.5 624.1h4.4v4.4h-4.4zM459 578.8h4.4v4.4h-4.4zM408.3 584.7h4.4v4.4h-4.4zM440.6 569.1h4.4v4.4h-4.4zM474.1 606.5h4.4v4.4h-4.4zM423.6 570.4h4.4v4.4h-4.4zM450.5 642.3h4.4v4.4h-4.4zM444.3 584.2h4.4v4.4h-4.4zM461.8 574.5h4.4v4.4h-4.4zM466.5 618.5h4.4v4.4h-4.4zM406.2 611.6h4.4v4.4h-4.4zM444.2 585.9h4.4v4.4h-4.4zM468.7 602.3h4.4v4.4h-4.4zM473.7 644.2h4.4v4.4h-4.4zM408.6 636h4.4v4.4h-4.4zM434.6 606h4.4v4.4h-4.4zM436.2 592.9h4.4v4.4h-4.4zM436.7 650.1h4.4v4.4h-4.4zM440.8 593.8h4.4v4.4h-4.4zM415.3 596.3h4.4v4.4h-4.4zM472 592.9h4.4v4.4h-4.4zM473.4 624.8h4.4v4.4h-4.4zM419.2 576h4.4v4.4h-4.4zM433.2 564.2h4.4v4.4h-4.4zM478.1 596h4.4v4.4h-4.4zM455.7 612.7h4.4v4.4h-4.4zM430.7 571.8h4.4v4.4h-4.4zM478.9 607.2h4.4v4.4h-4.4zM379.2 599.1h4.4v4.4h-4.4zM434.2 649.9h4.4v4.4h-4.4zM466 621.3h4.4v4.4h-4.4zM418.4 644.1h4.4v4.4h-4.4zM471.1 647.9h4.4v4.4h-4.4zM454.2 569.7h4.4v4.4h-4.4zM407.2 608.9h4.4v4.4h-4.4zM430.4 643.9h4.4v4.4h-4.4zM400.4 626.9h4.4v4.4h-4.4zM415.7 638.1h4.4v4.4h-4.4zM395.7 607.9h4.4v4.4h-4.4zM478.5 591.7h4.4v4.4h-4.4zM473.8 612.8h4.4v4.4h-4.4zM392.4 594.4h4.4v4.4h-4.4zM480.5 608.9h4.4v4.4h-4.4zM447.4 634.6h4.4v4.4h-4.4zM435 588.4h4.4v4.4h-4.4zM431.2 639.9h4.4v4.4h-4.4zM456.1 570.7h4.4v4.4h-4.4zM467.1 583.8h4.4v4.4h-4.4zM464.3 610h4.4v4.4h-4.4zM464.3 630.4h4.4v4.4h-4.4zM434.2 600.1h4.4v4.4h-4.4zM413.7 606.3h4.4v4.4h-4.4zM426.6 587.7h4.4v4.4h-4.4zM446 588.2h4.4v4.4h-4.4zM412.2 631.7h4.4v4.4h-4.4zM467.9 596.2h4.4v4.4h-4.4zM429.9 632h4.4v4.4h-4.4zM421.3 631.7h4.4v4.4h-4.4zM434.5 584.2h4.4v4.4h-4.4zM464.2 608.7h4.4v4.4h-4.4zM413.2 597.8h4.4v4.4h-4.4zM398.9 595.1h4.4v4.4h-4.4zM437.6 640.8h4.4v4.4h-4.4zM405.3 579.2h4.4v4.4h-4.4zM428.4 616.1h4.4v4.4h-4.4zM447.4 570.7h4.4v4.4h-4.4zM446.2 652.9h4.4v4.4h-4.4zM404.2 592.2h4.4v4.4h-4.4zM441.6 595.4h4.4v4.4h-4.4zM465.9 573.7h4.4v4.4h-4.4zM401.7 597.4h4.4v4.4h-4.4zM398.1 616.7h4.4v4.4h-4.4zM398.8 617.9h4.4v4.4h-4.4zM420 625.1h4.4v4.4h-4.4zM417.1 585.2h4.4v4.4h-4.4zM412.4 580.4h4.4v4.4h-4.4zM470.3 630.2h4.4v4.4h-4.4zM419.8 630.5h4.4v4.4h-4.4zM432 613h4.4v4.4h-4.4zM414.9 609.1h4.4v4.4h-4.4zM466.5 572.4h4.4v4.4h-4.4zM430.3 596.9h4.4v4.4h-4.4zM383.8 599.7h4.4v4.4h-4.4zM463.3 629.1h4.4v4.4h-4.4zM452 567.8h4.4v4.4h-4.4zM396.7 585.4h4.4v4.4h-4.4zM481.4 617.4h4.4v4.4h-4.4zM415.1 606.9h4.4v4.4h-4.4zM404.3 618.7h4.4v4.4h-4.4zM455 611.9h4.4v4.4h-4.4zM465.7 571.2h4.4v4.4h-4.4zM390.5 609.8h4.4v4.4h-4.4zM444.4 593.9h4.4v4.4h-4.4zM481.8 608.8h4.4v4.4h-4.4zM427.4 651h4.4v4.4h-4.4zM388.3 598.1h4.4v4.4h-4.4zM428.5 607.9h4.4v4.4h-4.4zM378.2 591.8h4.4v4.4h-4.4zM476.5 618.8h4.4v4.4h-4.4zM415.9 571.6h4.4v4.4h-4.4zM441.8 592.4h4.4v4.4h-4.4zM482.4 614h4.4v4.4h-4.4zM443 627.4h4.4v4.4h-4.4zM477.6 607h4.4v4.4h-4.4zM439.1 582.7h4.4v4.4h-4.4zM400.9 612.5h4.4v4.4h-4.4zM415.1 635.5h4.4v4.4h-4.4zM452.5 625.8h4.4v4.4h-4.4zM406.7 599h4.4v4.4h-4.4zM475.8 603.9h4.4v4.4h-4.4zM387.7 587.3h4.4v4.4h-4.4zM422.1 611.5h4.4v4.4h-4.4zM401.8 598.2h4.4v4.4h-4.4zM417.8 576.1h4.4v4.4h-4.4zM429.5 580.8h4.4v4.4h-4.4zM406.5 572.3h4.4v4.4h-4.4zM461.2 588h4.4v4.4h-4.4zM480.8 600.7h4.4v4.4h-4.4zM456 648.8h4.4v4.4h-4.4zM470.1 590.6h4.4v4.4h-4.4zM424.7 622.4h4.4v4.4h-4.4zM452.1 646.3h4.4v4.4h-4.4zM424.2 612.2h4.4v4.4h-4.4zM395.6 591.5h4.4v4.4h-4.4zM455.5 656.7h4.4v4.4h-4.4zM381.4 603.8h4.4v4.4h-4.4zM462.6 582.5h4.4v4.4h-4.4zM427.2 611.9h4.4v4.4h-4.4zM467.6 576.4h4.4v4.4h-4.4zM413.6 589.3h4.4v4.4h-4.4zM460.3 628.8h4.4v4.4h-4.4zM463.2 651.7h4.4v4.4h-4.4zM440.8 656h4.4v4.4h-4.4zM444.6 566.9h4.4v4.4h-4.4zM448.9 585.5h4.4v4.4h-4.4zM410.1 628.1h4.4v4.4h-4.4zM451.9 633.9h4.4v4.4h-4.4zM471.8 601.5h4.4v4.4h-4.4zM389.8 586.1h4.4v4.4h-4.4zM453.2 566.2h4.4v4.4h-4.4zM464.1 585.4h4.4v4.4h-4.4zM443.2 586.6h4.4v4.4h-4.4zM424.1 646.2h4.4v4.4h-4.4zM437.2 578.2h4.4v4.4h-4.4zM463.4 567.5h4.4v4.4h-4.4zM419.7 617.7h4.4v4.4h-4.4zM451.9 576.1h4.4v4.4h-4.4zM437.8 578.7h4.4v4.4h-4.4zM434.6 642.6h4.4v4.4h-4.4zM411 602h4.4v4.4h-4.4zM416.7 602.1h4.4v4.4h-4.4zM425.3 636.2h4.4v4.4h-4.4zM408 594.5h4.4v4.4h-4.4zM417.5 575.1h4.4v4.4h-4.4zM444.4 600.2h4.4v4.4h-4.4zM399.6 584.3h4.4v4.4h-4.4zM461.4 616.3h4.4v4.4h-4.4zM418 639.1h4.4v4.4h-4.4zM457.4 653h4.4v4.4h-4.4zM452.1 652h4.4v4.4h-4.4zM405.7 594h4.4v4.4h-4.4zM391.1 615.5h4.4v4.4h-4.4zM430.8 642h4.4v4.4h-4.4zM417.3 574.2h4.4v4.4h-4.4zM407.6 623.4h4.4v4.4h-4.4zM433.9 590.1h4.4v4.4h-4.4zM467.2 573.7h4.4v4.4h-4.4zM447.5 581h4.4v4.4h-4.4zM410.5 615.4h4.4v4.4h-4.4zM439.9 575.4h4.4v4.4h-4.4zM409.9 639.1h4.4v4.4h-4.4zM396.4 606.4h4.4v4.4h-4.4zM431.8 620h4.4v4.4h-4.4zM454.2 640.2h4.4v4.4h-4.4zM452.2 641.3h4.4v4.4h-4.4zM473 592.7h4.4v4.4h-4.4zM466.5 612.3h4.4v4.4h-4.4zM402.9 577.3h4.4v4.4h-4.4zM459.4 624.1h4.4v4.4h-4.4zM378.8 599.3h4.4v4.4h-4.4zM437.8 625.5h4.4v4.4h-4.4zM438.3 642.5h4.4v4.4h-4.4zM463 596.1h4.4v4.4h-4.4zM438.4 632.4h4.4v4.4h-4.4zM471.6 609.5h4.4v4.4h-4.4zM471.9 591.9h4.4v4.4h-4.4zM398.4 589.5h4.4v4.4h-4.4zM455.5 649.2h4.4v4.4h-4.4zM426.6 630.1h4.4v4.4h-4.4zM389.3 611.1h4.4v4.4h-4.4zM422.5 603.4h4.4v4.4h-4.4zM394.9 622.7h4.4v4.4h-4.4zM449.1 624.1h4.4v4.4h-4.4zM457 606.1h4.4v4.4h-4.4zM469.3 617.5h4.4v4.4h-4.4zM472.6 601.2h4.4v4.4h-4.4zM452.2 579.7h4.4v4.4h-4.4zM443.1 654.1h4.4v4.4h-4.4zM478.5 605.8h4.4v4.4h-4.4zM404.3 623.6h4.4v4.4h-4.4zM465.4 637h4.4v4.4h-4.4zM451.2 572.7h4.4v4.4h-4.4zM445.6 597.2h4.4v4.4h-4.4zM425.2 645.2h4.4v4.4h-4.4zM400.4 599.4h4.4v4.4h-4.4zM471.4 602.7h4.4v4.4h-4.4zM473.9 620.4h4.4v4.4h-4.4zM406.7 586.1h4.4v4.4h-4.4zM467.7 582.5h4.4v4.4h-4.4zM466.4 609.8h4.4v4.4h-4.4zM445 566.4h4.4v4.4h-4.4zM431.6 636.6h4.4v4.4h-4.4zM425.2 613.9h4.4v4.4h-4.4zM408.9 590h4.4v4.4h-4.4zM435.8 635.1h4.4v4.4h-4.4zM394 603.7h4.4v4.4h-4.4zM445.9 656.8h4.4v4.4h-4.4zM404 599.5h4.4v4.4h-4.4zM437.6 574.1h4.4v4.4h-4.4zM442.3 658.2h4.4v4.4h-4.4zM404.4 608.3h4.4v4.4h-4.4zM387 612.1h4.4v4.4h-4.4zM482.6 614.6h4.4v4.4h-4.4zM397.7 591.2h4.4v4.4h-4.4zM444 646.4h4.4v4.4h-4.4zM424.6 609.3h4.4v4.4h-4.4zM464.4 570.4h4.4v4.4h-4.4zM480.3 606.7h4.4v4.4h-4.4zM410.9 638.4h4.4v4.4h-4.4zM402.5 574.6h4.4v4.4h-4.4zM402.7 627.7h4.4v4.4h-4.4zM385.1 605.4h4.4v4.4h-4.4zM400.2 614.9h4.4v4.4h-4.4zM477.3 592.1h4.4v4.4h-4.4zM413.5 620.2h4.4v4.4h-4.4zM456.5 565.7h4.4v4.4h-4.4zM449.4 642h4.4v4.4h-4.4zM462.6 604.1h4.4v4.4h-4.4zM466 615.1h4.4v4.4h-4.4zM394.7 588.7h4.4v4.4h-4.4zM440.2 615.6h4.4v4.4h-4.4zM463.6 632h4.4v4.4h-4.4zM397.7 599.9h4.4v4.4h-4.4zM460.9 606.1h4.4v4.4h-4.4zM424.1 591h4.4v4.4h-4.4zM431.1 590.2h4.4v4.4h-4.4zM404.1 626.6h4.4v4.4h-4.4zM462.9 601.1h4.4v4.4h-4.4zM391.8 607.9h4.4v4.4h-4.4zM418.8 603.8h4.4v4.4h-4.4zM452.2 634.8h4.4v4.4h-4.4zM400.5 577.3h4.4v4.4h-4.4zM438.8 652.7h4.4v4.4h-4.4zM402.2 614.3h4.4v4.4h-4.4zM426.1 598.1h4.4v4.4h-4.4zM447.3 613.5h4.4v4.4h-4.4zM396.3 601.8h4.4v4.4h-4.4zM431.2 626.5h4.4v4.4h-4.4zM389.7 601.5h4.4v4.4h-4.4zM474 578.8h4.4v4.4h-4.4zM450.6 597.5h4.4v4.4h-4.4zM384.1 589.6h4.4v4.4h-4.4zM456.8 602.4h4.4v4.4h-4.4zM463.7 581.6h4.4v4.4h-4.4zM466.1 646.7h4.4v4.4h-4.4zM454.7 580.4h4.4v4.4h-4.4zM428.8 636.7h4.4v4.4h-4.4zM405.5 594.7h4.4v4.4h-4.4zM436.1 560.3h4.4v4.4h-4.4zM442.9 588.1h4.4v4.4h-4.4zM457 565.3h4.4v4.4h-4.4zM473.1 620.1h4.4v4.4h-4.4zM444.5 561.5h4.4v4.4h-4.4zM416.6 642.4h4.4v4.4h-4.4zM405.6 600.2h4.4v4.4h-4.4zM387.2 610.6h4.4v4.4h-4.4zM480.8 586.7h4.4v4.4h-4.4zM462.4 576.4h4.4v4.4h-4.4zM473 611.6h4.4v4.4h-4.4zM473.2 574.5h4.4v4.4h-4.4zM387 585.2h4.4v4.4h-4.4zM470.2 592.6h4.4v4.4h-4.4zM438.2 584.2h4.4v4.4h-4.4zM441.4 658.9h4.4v4.4h-4.4zM390 591.6h4.4v4.4h-4.4zM468.8 575.9h4.4v4.4h-4.4zM460 572.7h4.4v4.4h-4.4zM459.7 636.2h4.4v4.4h-4.4zM390.7 604.4h4.4v4.4h-4.4zM415.2 615h4.4v4.4h-4.4zM429.8 652.3h4.4v4.4h-4.4zM407.7 596.8h4.4v4.4h-4.4zM436.9 566.7h4.4v4.4h-4.4zM415.3 567.8h4.4v4.4h-4.4zM405.9 629.8h4.4v4.4h-4.4zM458.9 610.8h4.4v4.4h-4.4zM460.4 610.4h4.4v4.4h-4.4zM422.4 617.7h4.4v4.4h-4.4zM447.8 616.1h4.4v4.4h-4.4zM451.7 568.7h4.4v4.4h-4.4zM420.5 635.9h4.4v4.4h-4.4zM433.6 591.2h4.4v4.4h-4.4zM473.7 602.4h4.4v4.4h-4.4zM435 624.6h4.4v4.4h-4.4zM469.7 581h4.4v4.4h-4.4zM471.7 617.7h4.4v4.4h-4.4zM414.8 593.7h4.4v4.4h-4.4zM434.9 594.8h4.4v4.4h-4.4zM439.5 560.5h4.4v4.4h-4.4zM401.8 578.3h4.4v4.4h-4.4zM415.4 572.8h4.4v4.4h-4.4zM460.4 600.5h4.4v4.4h-4.4zM462.1 596.1h4.4v4.4h-4.4zM458.2 649.6h4.4v4.4h-4.4zM453.7 620.1h4.4v4.4h-4.4zM412.2 584.4h4.4v4.4h-4.4zM446.3 577.4h4.4v4.4h-4.4zM453.3 631.4h4.4v4.4h-4.4zM438.6 604.3h4.4v4.4h-4.4zM443.8 602.9h4.4v4.4h-4.4zM451.6 578.8h4.4v4.4h-4.4zM467.1 602.3h4.4v4.4h-4.4zM419 606.3h4.4v4.4h-4.4zM421.2 629.4h4.4v4.4h-4.4zM450.6 602.8h4.4v4.4h-4.4zM424.7 613.2h4.4v4.4h-4.4zM416.5 613.7h4.4v4.4h-4.4zM425.7 617.1h4.4v4.4h-4.4zM460.4 608.3h4.4v4.4h-4.4zM442.9 616.2h4.4v4.4h-4.4zM460.2 626.5h4.4v4.4h-4.4zM452.2 619.2h4.4v4.4h-4.4zM443.3 598.3h4.4v4.4h-4.4zM452 612.6h4.4v4.4h-4.4zM453.6 623.5h4.4v4.4h-4.4zM422.5 596.7h4.4v4.4h-4.4zM463.2 593.1h4.4v4.4h-4.4zM445.7 600.3h4.4v4.4h-4.4zM449.4 625.2h4.4v4.4h-4.4zM428.6 632.1h4.4v4.4h-4.4zM426.6 596.7h4.4v4.4h-4.4zM436.2 613h4.4v4.4h-4.4zM424.9 615.9h4.4v4.4h-4.4zM451.3 612.3h4.4v4.4h-4.4zM424.1 610.7h4.4v4.4h-4.4zM448.7 623.1h4.4v4.4h-4.4zM456.3 620.8h4.4v4.4h-4.4zM430 638.2h4.4v4.4h-4.4zM465 611.7h4.4v4.4h-4.4zM432.3 625.3h4.4v4.4h-4.4zM441.9 592.1h4.4v4.4h-4.4zM459.5 608.6h4.4v4.4h-4.4zM465.5 600.2h4.4v4.4h-4.4zM421.3 619.2h4.4v4.4h-4.4zM460.9 631.2h4.4v4.4h-4.4zM452 599.7h4.4v4.4h-4.4zM437.7 616h4.4v4.4h-4.4zM452.4 627.6h4.4v4.4h-4.4zM435.7 589.9h4.4v4.4h-4.4zM451.5 585.4h4.4v4.4h-4.4zM419.6 602.8h4.4v4.4h-4.4zM417.6 599.6h4.4v4.4h-4.4zM453 621.9h4.4v4.4h-4.4zM450.9 598.6h4.4v4.4h-4.4zM467.1 627.1h4.4v4.4h-4.4zM461.3 605.1h4.4v4.4h-4.4zM462.3 611.4h4.4v4.4h-4.4zM424 612.2h4.4v4.4h-4.4zM427.4 605.1h4.4v4.4h-4.4zM428.3 591.8h4.4v4.4h-4.4zM461.9 610.9h4.4v4.4h-4.4zM445.1 580.3h4.4v4.4h-4.4zM436.2 611.6h4.4v4.4h-4.4zM427.6 600.4h4.4v4.4h-4.4zM444.3 625.2h4.4v4.4h-4.4zM451.5 596h4.4v4.4h-4.4zM443.7 609.2h4.4v4.4h-4.4zM459.6 632h4.4v4.4h-4.4zM441.3 616.3h4.4v4.4h-4.4zM459.9 610.7h4.4v4.4h-4.4zM445.1 633.2h4.4v4.4h-4.4zM443.7 616.1h4.4v4.4h-4.4zM428.2 603.4h4.4v4.4h-4.4zM441.5 627.6h4.4v4.4h-4.4zM413.2 604.9h4.4v4.4h-4.4zM448.6 624.3h4.4v4.4h-4.4zM444 599.8h4.4v4.4h-4.4zM454.6 614.1h4.4v4.4h-4.4zM450.2 597.9h4.4v4.4h-4.4zM445.3 606.7h4.4v4.4h-4.4zM432.6 589.3h4.4v4.4h-4.4zM466.6 599.5h4.4v4.4h-4.4zM435.8 634.1h4.4v4.4h-4.4zM415.3 588.6h4.4v4.4h-4.4zM447.6 620h4.4v4.4h-4.4zM441.8 596.2h4.4v4.4h-4.4zM463.7 612.2h4.4v4.4h-4.4zM423.6 603.8h4.4v4.4h-4.4zM472.9 630.6h4.4v4.4h-4.4zM408.7 596h4.4v4.4h-4.4zM452 643.5h4.4v4.4h-4.4zM410.2 612.4h4.4v4.4h-4.4zM467.6 631.1h4.4v4.4h-4.4zM412 598.4h4.4v4.4h-4.4zM450.1 600.9h4.4v4.4h-4.4zM453.3 610.3h4.4v4.4h-4.4zM434 636.1h4.4v4.4h-4.4zM418.2 622.4h4.4v4.4h-4.4zM426.6 602.2h4.4v4.4h-4.4zM467 628h4.4v4.4h-4.4zM461.3 587.5h4.4v4.4h-4.4zM447.5 615.6h4.4v4.4h-4.4zM460.7 633.4h4.4v4.4h-4.4zM443.2 619.9h4.4v4.4h-4.4zM430.4 600.1h4.4v4.4h-4.4zM441 618h4.4v4.4h-4.4zM478.4 601h4.4v4.4h-4.4zM448.3 598h4.4v4.4h-4.4zM445.4 636.1h4.4v4.4h-4.4zM419.4 588.9h4.4v4.4h-4.4zM453.5 599.3h4.4v4.4h-4.4zM472.8 597.7h4.4v4.4h-4.4zM420.6 592.8h4.4v4.4h-4.4zM444.9 617.8h4.4v4.4h-4.4zM405.7 602.1h4.4v4.4h-4.4zM430.6 635.8h4.4v4.4h-4.4zM442 609.9h4.4v4.4h-4.4zM429.8 630.2h4.4v4.4h-4.4zM457.5 584.2h4.4v4.4h-4.4zM455.7 628.8h4.4v4.4h-4.4zM445.3 628.4h4.4v4.4h-4.4zM455.6 583.1h4.4v4.4h-4.4zM428.5 614.5h4.4v4.4h-4.4zM437 595.3h4.4v4.4h-4.4zM416 587.5h4.4v4.4h-4.4zM435.3 586.3h4.4v4.4h-4.4zM452.5 593.2h4.4v4.4h-4.4zM419.7 615.8h4.4v4.4h-4.4zM424.3 616.6h4.4v4.4h-4.4zM438.5 635.2h4.4v4.4h-4.4zM438.5 597.1h4.4v4.4h-4.4zM457.7 609.1h4.4v4.4h-4.4zM439.9 615.8h4.4v4.4h-4.4zM438.3 620.5h4.4v4.4h-4.4zM424.2 607.2h4.4v4.4h-4.4zM429.7 626.9h4.4v4.4h-4.4zM431.3 610.5h4.4v4.4h-4.4zM451.6 605.9h4.4v4.4h-4.4zM417.6 613.1h4.4v4.4h-4.4zM434.8 591h4.4v4.4h-4.4zM446 605.1h4.4v4.4h-4.4zM413.2 605.7h4.4v4.4h-4.4zM462 629.8h4.4v4.4h-4.4zM453.6 610.5h4.4v4.4h-4.4zM446.4 607.3h4.4v4.4h-4.4zM442.1 595.2h4.4v4.4h-4.4zM462.1 597.5h4.4v4.4h-4.4zM429.9 609.7h4.4v4.4h-4.4zM455 624.8h4.4v4.4h-4.4zM431.6 623.7h4.4v4.4h-4.4zM455.7 606.5h4.4v4.4h-4.4zM454.9 583.4h4.4v4.4h-4.4zM429.3 623.3h4.4v4.4h-4.4zM438 617.6h4.4v4.4h-4.4zM424.2 610.6h4.4v4.4h-4.4zM419.3 585.4h4.4v4.4h-4.4zM418.2 631.1h4.4v4.4h-4.4zM430.4 621.1h4.4v4.4h-4.4zM411.7 601.8h4.4v4.4h-4.4zM456.1 611.5h4.4v4.4h-4.4zM409.9 605.9h4.4v4.4h-4.4zM421.6 617.2h4.4v4.4h-4.4zM420.1 616.1h4.4v4.4h-4.4zM446.8 600.1h4.4v4.4h-4.4zM452.6 610.2h4.4v4.4h-4.4zM427.8 609h4.4v4.4h-4.4zM440 607.9h4.4v4.4h-4.4zM441.2 605h4.4v4.4h-4.4zM463.6 613.9h4.4v4.4h-4.4zM461.6 634.3h4.4v4.4h-4.4zM442 627h4.4v4.4h-4.4zM439.5 604h4.4v4.4h-4.4zM466.6 623.1h4.4v4.4h-4.4zM442.8 599.1h4.4v4.4h-4.4zM449.7 621.5h4.4v4.4h-4.4zM436 612.3h4.4v4.4h-4.4zM446.1 581.4h4.4v4.4h-4.4zM474.7 624h4.4v4.4h-4.4zM456.3 598h4.4v4.4h-4.4zM419.7 610.8h4.4v4.4h-4.4zM426.4 616.8h4.4v4.4h-4.4zM440.2 640.1h4.4v4.4h-4.4zM429.1 621.8h4.4v4.4h-4.4zM423.3 594.9h4.4v4.4h-4.4zM466.6 614.4h4.4v4.4h-4.4zM451.6 591.8h4.4v4.4h-4.4zM433.6 602.3h4.4v4.4h-4.4zM422 618.9h4.4v4.4h-4.4zM444.2 594.5h4.4v4.4h-4.4zM460.6 603.2h4.4v4.4h-4.4zM415.2 600.6h4.4v4.4h-4.4zM443.4 610.7h4.4v4.4h-4.4zM433.4 624.8h4.4v4.4h-4.4zM448.9 581.5h4.4v4.4h-4.4zM431.1 604.3h4.4v4.4h-4.4zM446.1 640.8h4.4v4.4h-4.4zM454 619.2h4.4v4.4h-4.4zM438.4 597.3h4.4v4.4h-4.4zM426.5 619.6h4.4v4.4h-4.4zM448.5 583.6h4.4v4.4h-4.4zM441.1 620.5h4.4v4.4h-4.4zM417.3 623.6h4.4v4.4h-4.4zM441.4 611.2h4.4v4.4h-4.4zM463.4 618.7h4.4v4.4h-4.4zM423.5 593.8h4.4v4.4h-4.4zM458.5 606.1h4.4v4.4h-4.4zM439.4 601.2h4.4v4.4h-4.4zM452.8 606.8h4.4v4.4h-4.4zM427 616.2h4.4v4.4h-4.4zM418.3 630.9h4.4v4.4h-4.4zM428 611.3h4.4v4.4h-4.4zM457.2 615.5h4.4v4.4h-4.4zM468.6 618.5h4.4v4.4h-4.4zM436.4 609.5h4.4v4.4h-4.4zM450.4 627.1h4.4v4.4h-4.4zM452.6 621.3h4.4v4.4h-4.4zM413.5 616.7h4.4v4.4h-4.4zM458.5 598.7h4.4v4.4h-4.4zM414.5 588.8h4.4v4.4h-4.4zM432.2 578.2h4.4v4.4h-4.4zM473.6 606h4.4v4.4h-4.4zM471.3 600.6h4.4v4.4h-4.4zM455.6 613.3h4.4v4.4h-4.4zM443.3 600.8h4.4v4.4h-4.4zM475.4 607.1h4.4v4.4h-4.4zM448.4 619.9h4.4v4.4h-4.4zM437.5 597.4h4.4v4.4h-4.4zM402.9 611.5h4.4v4.4h-4.4zM418.8 606.5h4.4v4.4h-4.4zM456.8 630.3h4.4v4.4h-4.4zM444.1 609.9h4.4v4.4h-4.4zM455.7 621.2h4.4v4.4h-4.4zM469.3 595.4h4.4v4.4h-4.4zM457.5 601.9h4.4v4.4h-4.4zM464.9 600h4.4v4.4h-4.4zM418 625.5h4.4v4.4h-4.4zM463.8 628.4h4.4v4.4h-4.4zM429.6 622.7h4.4v4.4h-4.4zM471.8 621.4h4.4v4.4h-4.4zM445 618.4h4.4v4.4h-4.4zM455.3 635.5h4.4v4.4h-4.4zM463.7 601.5h4.4v4.4h-4.4zM412.7 605h4.4v4.4h-4.4zM412.7 634h4.4v4.4h-4.4zM418.4 599.7h4.4v4.4h-4.4zM456.1 623.5h4.4v4.4h-4.4zM457.3 636.6h4.4v4.4h-4.4zM455.4 621.7h4.4v4.4h-4.4zM417.4 633.5h4.4v4.4h-4.4zM430.7 598.9h4.4v4.4h-4.4zM440 598.4h4.4v4.4h-4.4zM441.4 631.1h4.4v4.4h-4.4zM456 618h4.4v4.4h-4.4zM438.6 618.2h4.4v4.4h-4.4zM454.3 609.8h4.4v4.4h-4.4zM443.8 611.7h4.4v4.4h-4.4zM410.1 613.7h4.4v4.4h-4.4zM435 614.2h4.4v4.4h-4.4zM451.4 592.8h4.4v4.4h-4.4zM433.1 617.4h4.4v4.4h-4.4zM424.9 640.7h4.4v4.4h-4.4zM440.9 605.4h4.4v4.4h-4.4zM440.4 618h4.4v4.4h-4.4zM453 579.7h4.4v4.4h-4.4zM446.7 631.3h4.4v4.4h-4.4zM434.8 631.2h4.4v4.4h-4.4zM443.5 594.1h4.4v4.4h-4.4zM469.2 600h4.4v4.4h-4.4zM435.4 621.4h4.4v4.4h-4.4zM449.9 619.5h4.4v4.4h-4.4zM473.2 612.7h4.4v4.4h-4.4zM418 607.2h4.4v4.4h-4.4zM434.4 596.8h4.4v4.4h-4.4zM430.2 609.6h4.4v4.4h-4.4zM421.3 630.7h4.4v4.4h-4.4zM465.9 610.5h4.4v4.4h-4.4zM443.4 593.1h4.4v4.4h-4.4zM427.7 611.8h4.4v4.4h-4.4zM435.7 605.3h4.4v4.4h-4.4zM414 635.5h4.4v4.4h-4.4zM425.8 641h4.4v4.4h-4.4zM428.9 640.7h4.4v4.4h-4.4zM428.9 593.5h4.4v4.4h-4.4zM465.4 614.9h4.4v4.4h-4.4zM440.8 613h4.4v4.4h-4.4zM427.1 615.8h4.4v4.4h-4.4zM416 596.9h4.4v4.4h-4.4zM466.5 601.2h4.4v4.4h-4.4zM403.5 622.6h4.4v4.4h-4.4zM445.3 582h4.4v4.4h-4.4zM435.1 611h4.4v4.4h-4.4zM445.1 628.7h4.4v4.4h-4.4zM450.4 634.5h4.4v4.4h-4.4zM448.9 619.8h4.4v4.4h-4.4zM449.9 620.1h4.4v4.4h-4.4zM465.8 621.3h4.4v4.4h-4.4zM442.9 610.9h4.4v4.4h-4.4zM411.7 616.7h4.4v4.4h-4.4zM462.9 608.5h4.4v4.4h-4.4zM432.7 621.2h4.4v4.4h-4.4zM440.1 610.7h4.4v4.4h-4.4zM455.2 625.2h4.4v4.4h-4.4zM476.1 612.3h4.4v4.4h-4.4zM443.8 601.6h4.4v4.4h-4.4zM436.5 633.9h4.4v4.4h-4.4zM435.1 576.8h4.4v4.4h-4.4zM445.9 622.2h4.4v4.4h-4.4zM408.5 594.1h4.4v4.4h-4.4zM443.2 619.2h4.4v4.4h-4.4zM449.8 580.6h4.4v4.4h-4.4zM404.2 609h4.4v4.4h-4.4zM451.2 580.7h4.4v4.4h-4.4zM423.7 590.9h4.4v4.4h-4.4zM439.7 603h4.4v4.4h-4.4zM449.8 620.8h4.4v4.4h-4.4zM465.9 616.9h4.4v4.4h-4.4zM440.9 624.1h4.4v4.4h-4.4zM435.5 611.3h4.4v4.4h-4.4zM454.4 587.7h4.4v4.4h-4.4zM469.7 634.3h4.4v4.4h-4.4zM413.1 621.5h4.4v4.4h-4.4zM433.1 601.3h4.4v4.4h-4.4zM432.7 579.5h4.4v4.4h-4.4zM457.1 634.5h4.4v4.4h-4.4zM438.6 595.2h4.4v4.4h-4.4zM419.3 609.7h4.4v4.4h-4.4zM447.7 588.8h4.4v4.4h-4.4zM443.8 585.2h4.4v4.4h-4.4zM433.3 587.2h4.4v4.4h-4.4zM468.2 619.6h4.4v4.4h-4.4zM467.5 620.6h4.4v4.4h-4.4zM453.8 593.3h4.4v4.4h-4.4zM467 593.5h4.4v4.4h-4.4zM459 593.9h4.4v4.4h-4.4zM460.5 599.2h4.4v4.4h-4.4zM471.7 622.6h4.4v4.4h-4.4zM439.6 608.3h4.4v4.4h-4.4zM433.6 611.2h4.4v4.4h-4.4zM435.2 584.5h4.4v4.4h-4.4zM461.8 616.2h4.4v4.4h-4.4zM417.5 619.1h4.4v4.4h-4.4zM422.2 603.1h4.4v4.4h-4.4zM471.6 618.4h4.4v4.4h-4.4zM435.9 614h4.4v4.4h-4.4zM429.5 601.6h4.4v4.4h-4.4zM429.2 592.4h4.4v4.4h-4.4zM430.5 628.3h4.4v4.4h-4.4zM436.7 626.8h4.4v4.4h-4.4zM451.3 633.1h4.4v4.4h-4.4zM422.4 630.5h4.4v4.4h-4.4zM439.8 613.7h4.4v4.4h-4.4zM432.1 595.4h4.4v4.4h-4.4zM425.7 620.8h4.4v4.4h-4.4zM424.6 613.8h4.4v4.4h-4.4zM425.6 632.5h4.4v4.4h-4.4zM439 612.6h4.4v4.4h-4.4zM450 608.7h4.4v4.4h-4.4zM467.2 614.2h4.4v4.4h-4.4zM457.3 606h4.4v4.4h-4.4zM432 604.8h4.4v4.4h-4.4zM431.1 605.1h4.4v4.4h-4.4zM444.6 596h4.4v4.4h-4.4zM457.7 640h4.4v4.4h-4.4zM470 608.6h4.4v4.4h-4.4zM403.9 621.7h4.4v4.4h-4.4zM451.8 625.8h4.4v4.4h-4.4zM429.2 606.8h4.4v4.4h-4.4zM452.6 586.7h4.4v4.4h-4.4zM419.2 599h4.4v4.4h-4.4zM433.5 610h4.4v4.4h-4.4zM454.1 601.3h4.4v4.4h-4.4zM426.2 609.7h4.4v4.4h-4.4zM437.6 601.7h4.4v4.4h-4.4zM450 590.2h4.4v4.4h-4.4zM447.3 622.8h4.4v4.4h-4.4zM441.9 622.2h4.4v4.4h-4.4zM453.7 581.9h4.4v4.4h-4.4zM432.3 597.2h4.4v4.4h-4.4zM456.7 599.8h4.4v4.4h-4.4zM408.5 618.9h4.4v4.4h-4.4zM413.7 597.7h4.4v4.4h-4.4zM436.4 623.1h4.4v4.4h-4.4zM438.8 600.2h4.4v4.4h-4.4zM459 607.9h4.4v4.4h-4.4zM440.9 589.5h4.4v4.4h-4.4zM408 605h4.4v4.4h-4.4zM429.8 582.1h4.4v4.4h-4.4zM449.1 609.3h4.4v4.4h-4.4zM416.2 608.8h4.4v4.4h-4.4zM440.5 628.4h4.4v4.4h-4.4zM449.8 634.8h4.4v4.4h-4.4zM434.8 627.6h4.4v4.4h-4.4zM417.8 599h4.4v4.4h-4.4zM458.9 635.7h4.4v4.4h-4.4zM434 588.7h4.4v4.4h-4.4zM467.2 602.1h4.4v4.4h-4.4zM435.2 613.3h4.4v4.4h-4.4zM461.4 616.5h4.4v4.4h-4.4zM425.5 627.6h4.4v4.4h-4.4zM451.5 616.7h4.4v4.4h-4.4zM451.4 625.8h4.4v4.4h-4.4zM444 612.4h4.4v4.4h-4.4zM423.3 623.5h4.4v4.4h-4.4zM459.7 607.9h4.4v4.4h-4.4zM463.9 605.9h4.4v4.4h-4.4zM427.7 598.6h4.4v4.4h-4.4zM418.4 605.1h4.4v4.4h-4.4zM447.8 597.3h4.4v4.4h-4.4zM444.3 610.8h4.4v4.4h-4.4zM416.7 607.8h4.4v4.4h-4.4zM451.8 621.3h4.4v4.4h-4.4zM407.7 619.2h4.4v4.4h-4.4zM428.1 599h4.4v4.4h-4.4zM423.9 625.7h4.4v4.4h-4.4zM417.9 590.6h4.4v4.4h-4.4zM472.6 594.4h4.4v4.4h-4.4zM439.7 620.7h4.4v4.4h-4.4zM435.3 624.9h4.4v4.4h-4.4zM438.1 625.4h4.4v4.4h-4.4zM446.5 618.8h4.4v4.4h-4.4zM436.9 602.8h4.4v4.4h-4.4zM445.2 611.6h4.4v4.4h-4.4zM450 622.9h4.4v4.4h-4.4zM432.7 600.7h4.4v4.4h-4.4zM440.6 620.3h4.4v4.4h-4.4zM439 617.9h4.4v4.4h-4.4zM459.1 633.2h4.4v4.4h-4.4zM455.5 638.1h4.4v4.4h-4.4zM430.8 615.1h4.4v4.4h-4.4zM471.6 604.1h4.4v4.4h-4.4zM411.8 607h4.4v4.4h-4.4zM444.9 604.1h4.4v4.4h-4.4zM454 605.3h4.4v4.4h-4.4zM443.8 592.9h4.4v4.4h-4.4zM432.4 634.8h4.4v4.4h-4.4zM446.7 589.8h4.4v4.4h-4.4zM424.9 613.9h4.4v4.4h-4.4zM423.1 625.1h4.4v4.4h-4.4zM446.9 593h4.4v4.4h-4.4zM435.1 595.7h4.4v4.4h-4.4zM434.9 607.3h4.4v4.4h-4.4zM442.4 609.2h4.4v4.4h-4.4zM433.2 622.6h4.4v4.4h-4.4zM429.3 623.4h4.4v4.4h-4.4zM468.8 626.5h4.4v4.4h-4.4zM455.8 625.2h4.4v4.4h-4.4zM476 622.8h4.4v4.4h-4.4zM466 623.1h4.4v4.4h-4.4zM448.9 594.4h4.4v4.4h-4.4zM419.5 598.8h4.4v4.4h-4.4zM472.3 598.7h4.4v4.4h-4.4zM432.7 615.6h4.4v4.4h-4.4zM444.8 636h4.4v4.4h-4.4zM433.1 586.1h4.4v4.4h-4.4zM448.1 594.4h4.4v4.4h-4.4zM439.4 638.8h4.4v4.4h-4.4zM440.9 611.6h4.4v4.4h-4.4zM451.4 639h4.4v4.4h-4.4zM426.2 621.2h4.4v4.4h-4.4zM437.7 588.3h4.4v4.4h-4.4zM431.2 587.5h4.4v4.4h-4.4zM420.6 601.8h4.4v4.4h-4.4zM466.2 599.7h4.4v4.4h-4.4zM455.1 627.5h4.4v4.4h-4.4zM446.3 607.5h4.4v4.4h-4.4zM428.6 623.2h4.4v4.4h-4.4zM458.5 607.5h4.4v4.4h-4.4zM409.9 615.4h4.4v4.4h-4.4zM449.6 606.8h4.4v4.4h-4.4zM431.1 615h4.4v4.4h-4.4zM434 595.9h4.4v4.4h-4.4zM441 613.4h4.4v4.4h-4.4zM439.7 627.1h4.4v4.4h-4.4zM424.9 591.2h4.4v4.4h-4.4zM420.5 629h4.4v4.4h-4.4zM454.9 578.8h4.4v4.4h-4.4zM457.6 610.9h4.4v4.4h-4.4zM460.9 596.3h4.4v4.4h-4.4zM462.5 615.7h4.4v4.4h-4.4zM450.3 617.1h4.4v4.4h-4.4zM462.8 588.1h4.4v4.4h-4.4zM413.6 606.9h4.4v4.4h-4.4zM424.6 587.1h4.4v4.4h-4.4zM436.2 605.8h4.4v4.4h-4.4zM407.2 616.4h4.4v4.4h-4.4zM447.8 621.5h4.4v4.4h-4.4zM440.3 630.3h4.4v4.4h-4.4zM461.6 633.6h4.4v4.4h-4.4zM461.9 627.6h4.4v4.4h-4.4zM444.3 597.3h4.4v4.4h-4.4zM407.6 604.3h4.4v4.4h-4.4zM459.4 616h4.4v4.4h-4.4zM411.2 604h4.4v4.4h-4.4zM464.4 628.9h4.4v4.4h-4.4zM433.1 605h4.4v4.4h-4.4zM471.2 627.9h4.4v4.4h-4.4zM419.1 621.6h4.4v4.4h-4.4zM424 617.6h4.4v4.4h-4.4zM435.9 606.3h4.4v4.4h-4.4zM430.5 608.3h4.4v4.4h-4.4zM441 600.3h4.4v4.4h-4.4zM454.5 585.5h4.4v4.4h-4.4zM414.4 631.1h4.4v4.4h-4.4zM431.7 635.2h4.4v4.4h-4.4zM456.7 620.9h4.4v4.4h-4.4zM450.7 616.8h4.4v4.4h-4.4zM464 597h4.4v4.4h-4.4zM465.5 629h4.4v4.4h-4.4zM443.2 579.1h4.4v4.4h-4.4zM456.6 640h4.4v4.4h-4.4zM451.1 630.1h4.4v4.4h-4.4zM427.8 628.1h4.4v4.4h-4.4zM417.8 605.4h4.4v4.4h-4.4zM417.5 605.8h4.4v4.4h-4.4zM432.6 623.4h4.4v4.4h-4.4zM435 576.2h4.4v4.4h-4.4zM460.6 624.2h4.4v4.4h-4.4zM438 608h4.4v4.4h-4.4zM427.6 627.1h4.4v4.4h-4.4zM443.4 637.5h4.4v4.4h-4.4zM442.2 597.7h4.4v4.4h-4.4zM442 587.6h4.4v4.4h-4.4zM424 596.5h4.4v4.4h-4.4zM480.2 607.2h4.4v4.4h-4.4zM445.3 597.4h4.4v4.4h-4.4zM406.1 600.1h4.4v4.4h-4.4zM400.8 606.4h4.4v4.4h-4.4zM397.6 602.3h4.4v4.4h-4.4zM394.4 605h4.4v4.4h-4.4zM402.4 613.8h4.4v4.4h-4.4zM400.3 606.2h4.4v4.4h-4.4zM391.3 593.7h4.4v4.4h-4.4zM405.6 598h4.4v4.4h-4.4zM393.6 600.2h4.4v4.4h-4.4zM393.9 598.2h4.4v4.4h-4.4zM391.4 606.9h4.4v4.4h-4.4zM397.4 599h4.4v4.4h-4.4zM398.8 591.9h4.4v4.4h-4.4zM401.6 594.7h4.4v4.4h-4.4zM394.4 618.3h4.4v4.4h-4.4zM396.5 606.9h4.4v4.4h-4.4zM389.1 616.5h4.4v4.4h-4.4zM399.3 604.7h4.4v4.4h-4.4zM403.8 592.5h4.4v4.4h-4.4zM404.3 603.3h4.4v4.4h-4.4zM395.6 610.1h4.4v4.4h-4.4zM383.6 608.4h4.4v4.4h-4.4z"/>
<path fill="#f00" d="M214.6 425.8h4.4v4.4h-4.4zM211.6 432.3h4.4v4.4h-4.4zM212.1 443.6h4.4v4.4h-4.4zM191.6 448.3h4.4v4.4h-4.4zM182.1 451.3h4.4v4.4h-4.4zM172.8 453.1h4.4v4.4h-4.4zM212.3 454.8h4.4v4.4h-4.4zM209.1 457.8h4.4v4.4h-4.4zM180.8 469.1h4.4v4.4h-4.4zM189.1 477.3h4.4v4.4h-4.4zM174.3 487.8h4.4v4.4h-4.4zM180.3 490.8h4.4v4.4h-4.4zM185.3 494.1h4.4v4.4h-4.4zM190.8 492.8h4.4v4.4h-4.4zM181.6 497.8h4.4v4.4h-4.4zM175.8 502.1h4.4v4.4h-4.4zM184.8 504.8h4.4v4.4h-4.4zM179.1 509.8h4.4v4.4h-4.4zM182.8 511.6h4.4v4.4h-4.4zM190.3 509.8h4.4v4.4h-4.4zM192.3 507.8h4.4v4.4h-4.4zM182.8 519h4.4v4.4h-4.4zM190.8 519h4.4v4.4h-4.4zM199.8 517.8h4.4v4.4h-4.4zM242.3 477.3h4.4v4.4h-4.4zM243.3 494.8h4.4v4.4h-4.4zM247.3 510.3h4.4v4.4h-4.4zM229.8 504.1h4.4v4.4h-4.4zM220.3 510.3h4.4v4.4h-4.4zM241.6 522.8h4.4v4.4h-4.4zM247.3 521.5h4.4v4.4h-4.4zM252.8 524h4.4v4.4h-4.4zM228.3 523.5h4.4v4.4h-4.4zM230.3 527.3h4.4v4.4h-4.4zM214.8 530.8h4.4v4.4h-4.4zM219.1 537.8h4.4v4.4h-4.4zM202.8 534h4.4v4.4h-4.4zM147.3 588.5h4.4v4.4h-4.4zM162.8 592.8h4.4v4.4h-4.4zM181.8 591.5h4.4v4.4h-4.4zM184.8 601.5h4.4v4.4h-4.4zM151.1 605.8h4.4v4.4h-4.4zM167.8 608.5h4.4v4.4h-4.4zM122.8 616.5h4.4v4.4h-4.4zM149.6 617.8h4.4v4.4h-4.4zM160.3 615.8h4.4v4.4h-4.4zM177.3 620.3h4.4v4.4h-4.4zM209.8 555.3h4.4v4.4h-4.4zM219.1 552.8h4.4v4.4h-4.4zM204.1 562h4.4v4.4h-4.4zM207.8 562h4.4v4.4h-4.4zM202.3 572.3h4.4v4.4h-4.4zM216.1 562h4.4v4.4h-4.4zM227.8 557.8h4.4v4.4h-4.4zM226.6 561.5h4.4v4.4h-4.4zM237.8 544h4.4v4.4h-4.4zM242.8 540.3h4.4v4.4h-4.4zM249.1 539.8h4.4v4.4h-4.4zM245.3 545.3h4.4v4.4h-4.4zM252.8 547.8h4.4v4.4h-4.4zM247.8 551.5h4.4v4.4h-4.4zM244.1 555.3h4.4v4.4h-4.4zM236.6 557.8h4.4v4.4h-4.4zM250.3 559h4.4v4.4h-4.4zM255.3 556.5h4.4v4.4h-4.4zM227.8 567.8h4.4v4.4h-4.4zM220.3 580.3h4.4v4.4h-4.4zM225.3 577.8h4.4v4.4h-4.4zM230.3 575.3h4.4v4.4h-4.4zM234.1 572.8h4.4v4.4h-4.4zM222.8 584h4.4v4.4h-4.4zM227.8 582.8h4.4v4.4h-4.4zM207.3 580.3h4.4v4.4h-4.4zM207.3 585.8h4.4v4.4h-4.4zM209.1 594h4.4v4.4h-4.4zM216.6 594h4.4v4.4h-4.4zM226.6 592.8h4.4v4.4h-4.4zM205.3 602.3h4.4v4.4h-4.4zM211.6 606.5h4.4v4.4h-4.4zM215.3 602.8h4.4v4.4h-4.4zM201.6 615.3h4.4v4.4h-4.4zM207.8 612.8h4.4v4.4h-4.4zM214.1 610.3h4.4v4.4h-4.4zM220.3 615.3h4.4v4.4h-4.4zM227.8 610.3h4.4v4.4h-4.4zM234.1 607.8h4.4v4.4h-4.4zM240.3 605.3h4.4v4.4h-4.4zM247.8 602.8h4.4v4.4h-4.4zM132.1 625.3h4.4v4.4h-4.4zM123.5 629.8h4.4v4.4h-4.4zM139.1 629.3h4.4v4.4h-4.4zM157.8 627.8h4.4v4.4h-4.4zM169.1 626.5h4.4v4.4h-4.4zM172.8 628.5h4.4v4.4h-4.4zM189.8 635.5h4.4v4.4h-4.4zM142.8 638.5h4.4v4.4h-4.4zM147.1 637.8h4.4v4.4h-4.4zM167.8 640.3h4.4v4.4h-4.4zM172.1 638.3h4.4v4.4h-4.4zM136.6 644.8h4.4v4.4h-4.4zM139.6 644.8h4.4v4.4h-4.4zM142.1 650.8h4.4v4.4h-4.4zM184.6 653.3h4.4v4.4h-4.4zM196.6 673.3h4.4v4.4h-4.4zM176.8 619.5h4.4v4.4h-4.4zM178.6 623.3h4.4v4.4h-4.4zM162.8 618.3h4.4v4.4h-4.4zM207.3 635.8h4.4v4.4h-4.4zM212.8 631.5h4.4v4.4h-4.4zM216.6 641.5h4.4v4.4h-4.4zM207.3 655.3h4.4v4.4h-4.4zM211.6 660.3h4.4v4.4h-4.4zM216.1 672.8h4.4v4.4h-4.4zM223.6 688.5h4.4v4.4h-4.4zM230.3 687.8h4.4v4.4h-4.4zM232.8 692h4.4v4.4h-4.4zM239.6 690.8h4.4v4.4h-4.4zM239.6 709.5h4.4v4.4h-4.4zM237.3 716h4.4v4.4h-4.4zM250.8 709h4.4v4.4h-4.4zM256.6 709h4.4v4.4h-4.4zM256.1 722.8h4.4v4.4h-4.4zM251.6 699h4.4v4.4h-4.4zM265.8 497.1h4.4v4.4h-4.4zM270.8 503.6h4.4v4.4h-4.4zM260.3 506.6h4.4v4.4h-4.4zM275.3 510.3h4.4v4.4h-4.4zM271.6 517h4.4v4.4h-4.4zM279.8 529h4.4v4.4h-4.4zM288.3 531h4.4v4.4h-4.4zM271.6 532h4.4v4.4h-4.4zM265.3 536.5h4.4v4.4h-4.4zM274.1 544h4.4v4.4h-4.4zM328.3 547.3h4.4v4.4h-4.4zM337.8 564.8h4.4v4.4h-4.4zM305.8 562.8h4.4v4.4h-4.4zM292.8 571.5h4.4v4.4h-4.4zM292.3 557.8h4.4v4.4h-4.4zM289.1 557.3h4.4v4.4h-4.4zM281.6 560.3h4.4v4.4h-4.4zM275.3 557.8h4.4v4.4h-4.4zM272.8 549h4.4v4.4h-4.4zM298.3 597.3h4.4v4.4h-4.4zM292.8 602.3h4.4v4.4h-4.4zM344.1 606h4.4v4.4h-4.4zM351.6 617.3h4.4v4.4h-4.4zM346.6 635.8h4.4v4.4h-4.4zM304.1 626.5h4.4v4.4h-4.4zM311.6 625.3h4.4v4.4h-4.4zM295.3 619h4.4v4.4h-4.4zM289.1 617.8h4.4v4.4h-4.4zM302.8 645.3h4.4v4.4h-4.4zM311.6 643.5h4.4v4.4h-4.4zM322.1 647.8h4.4v4.4h-4.4zM324.6 651.5h4.4v4.4h-4.4zM302.8 656.5h4.4v4.4h-4.4zM316.6 659h4.4v4.4h-4.4zM314.1 665.3h4.4v4.4h-4.4zM304.1 666.5h4.4v4.4h-4.4zM294.1 666.5h4.4v4.4h-4.4zM297.8 671.5h4.4v4.4h-4.4zM310.3 671.5h4.4v4.4h-4.4zM315.3 674h4.4v4.4h-4.4zM321.6 677.8h4.4v4.4h-4.4zM332.8 665.3h4.4v4.4h-4.4zM335.3 666.5h4.4v4.4h-4.4zM340.3 665.8h4.4v4.4h-4.4zM347.1 661.5h4.4v4.4h-4.4zM352.8 670.3h4.4v4.4h-4.4zM345.3 674h4.4v4.4h-4.4zM344.1 677.8h4.4v4.4h-4.4zM334.1 680.3h4.4v4.4h-4.4zM334.8 685.3h4.4v4.4h-4.4zM352.8 681.5h4.4v4.4h-4.4zM353.3 685.3h4.4v4.4h-4.4zM300.3 677.8h4.4v4.4h-4.4zM304.1 684.8h4.4v4.4h-4.4zM311.6 684h4.4v4.4h-4.4zM320.3 686.5h4.4v4.4h-4.4zM315.3 689h4.4v4.4h-4.4zM319.1 694h4.4v4.4h-4.4zM324.1 697.8h4.4v4.4h-4.4zM297.8 687.8h4.4v4.4h-4.4zM301.6 694.8h4.4v4.4h-4.4zM295.8 701.5h4.4v4.4h-4.4zM340.3 704h4.4v4.4h-4.4zM317.1 714h4.4v4.4h-4.4zM328.3 719.5h4.4v4.4h-4.4zM289.1 689h4.4v4.4h-4.4zM282.8 687.8h4.4v4.4h-4.4zM281.6 694h4.4v4.4h-4.4zM239.1 709.8h4.4v4.4h-4.4zM250.3 709h4.4v4.4h-4.4zM251.6 700.3h4.4v4.4h-4.4zM256.6 722.8h4.4v4.4h-4.4zM264.1 712.8h4.4v4.4h-4.4zM265.3 717.8h4.4v4.4h-4.4zM264.8 724h4.4v4.4h-4.4zM264.8 729.8h4.4v4.4h-4.4zM272.8 728.3h4.4v4.4h-4.4zM282.8 729.8h4.4v4.4h-4.4zM281.6 715.3h4.4v4.4h-4.4zM285.3 714.8h4.4v4.4h-4.4zM271.6 707.8h4.4v4.4h-4.4zM272.8 711.5h4.4v4.4h-4.4zM222.8 688.5h4.4v4.4h-4.4zM206.6 655.3h4.4v4.4h-4.4zM339.1 564.8h4.4v4.4h-4.4zM352.1 617h4.4v4.4h-4.4zM374.1 644.8h4.4v4.4h-4.4zM364.1 658.5h4.4v4.4h-4.4zM347.1 662h4.4v4.4h-4.4zM339.8 665.8h4.4v4.4h-4.4zM344.1 677.3h4.4v4.4h-4.4zM352.8 680.3h4.4v4.4h-4.4zM352.8 684.8h4.4v4.4h-4.4zM287.1 600.2h4.4v4.4h-4.4zM223.5 649.7h4.4v4.4h-4.4zM257.7 616.5h4.4v4.4h-4.4zM242 654.8h4.4v4.4h-4.4zM250.3 676.1h4.4v4.4h-4.4zM256.8 646.6h4.4v4.4h-4.4zM267.1 724h4.4v4.4h-4.4zM281.2 615.5h4.4v4.4h-4.4zM285.8 692.7h4.4v4.4h-4.4zM279.8 676.2h4.4v4.4h-4.4zM272.2 639.5h4.4v4.4h-4.4zM247.5 578.6h4.4v4.4h-4.4zM235.5 664h4.4v4.4h-4.4zM263.3 672.7h4.4v4.4h-4.4zM235.3 613.5h4.4v4.4h-4.4zM275.3 673.9h4.4v4.4h-4.4zM251.3 608.1h4.4v4.4h-4.4zM272.3 553.3h4.4v4.4h-4.4zM247.1 682.7h4.4v4.4h-4.4zM276.7 591.2h4.4v4.4h-4.4zM230.2 626.4h4.4v4.4h-4.4zM241.9 675.9h4.4v4.4h-4.4zM230.1 600h4.4v4.4h-4.4zM283.2 653.4h4.4v4.4h-4.4zM282.6 571.8h4.4v4.4h-4.4zM264.9 627.3h4.4v4.4h-4.4zM247.5 677.3h4.4v4.4h-4.4zM281.7 666.2h4.4v4.4h-4.4zM226.8 666.1h4.4v4.4h-4.4zM228 659.7h4.4v4.4h-4.4zM256.3 602h4.4v4.4h-4.4zM268.3 696.6h4.4v4.4h-4.4zM263.7 648.2h4.4v4.4h-4.4zM231.4 630h4.4v4.4h-4.4zM217.8 597.1h4.4v4.4h-4.4zM284.7 642.8h4.4v4.4h-4.4zM259.1 607h4.4v4.4h-4.4zM281.9 589.8h4.4v4.4h-4.4zM225 643.6h4.4v4.4h-4.4zM236.5 683.5h4.4v4.4h-4.4zM264 545.6h4.4v4.4h-4.4zM260.3 663.4h4.4v4.4h-4.4zM290.8 685.6h4.4v4.4h-4.4zM275.6 631.2h4.4v4.4h-4.4zM260.7 559h4.4v4.4h-4.4zM254.1 594.5h4.4v4.4h-4.4zM237.2 594.5h4.4v4.4h-4.4zM277.9 613.1h4.4v4.4h-4.4zM234.7 636.3h4.4v4.4h-4.4zM254 655h4.4v4.4h-4.4zM262.4 722.4h4.4v4.4h-4.4zM293.3 670.4h4.4v4.4h-4.4zM235 562.1h4.4v4.4h-4.4zM244.5 575.4h4.4v4.4h-4.4zM216.9 585.9h4.4v4.4h-4.4zM236.4 564.6h4.4v4.4h-4.4zM243.7 547h4.4v4.4h-4.4zM292.9 661.1h4.4v4.4h-4.4zM238.8 549h4.4v4.4h-4.4zM236.6 640.9h4.4v4.4h-4.4zM255.5 628.9h4.4v4.4h-4.4zM269.1 588.7h4.4v4.4h-4.4zM248.7 560.5h4.4v4.4h-4.4zM231.6 677.9h4.4v4.4h-4.4zM251.7 559.1h4.4v4.4h-4.4zM267 665.7h4.4v4.4h-4.4zM261.6 685.3h4.4v4.4h-4.4zM281.4 659.4h4.4v4.4h-4.4zM229.4 674.3h4.4v4.4h-4.4zM261 553.8h4.4v4.4h-4.4zM288.6 624.7h4.4v4.4h-4.4zM218.2 622.7h4.4v4.4h-4.4zM280.9 616.6h4.4v4.4h-4.4zM223.5 591.9h4.4v4.4h-4.4zM232.4 625.1h4.4v4.4h-4.4zM278.4 670.5h4.4v4.4h-4.4zM226.1 652.8h4.4v4.4h-4.4zM268.4 586.5h4.4v4.4h-4.4zM237.2 657.3h4.4v4.4h-4.4zM273.5 595.3h4.4v4.4h-4.4zM269.7 633h4.4v4.4h-4.4zM282 666.3h4.4v4.4h-4.4zM217.5 615.3h4.4v4.4h-4.4zM251.9 627.6h4.4v4.4h-4.4zM270 679.7h4.4v4.4h-4.4zM281.3 602.9h4.4v4.4h-4.4zM264.6 611.7h4.4v4.4h-4.4zM273.6 643.7h4.4v4.4h-4.4zM263 610.7h4.4v4.4h-4.4zM266.2 700.9h4.4v4.4h-4.4zM267.6 562h4.4v4.4h-4.4zM243.6 597h4.4v4.4h-4.4zM280.1 605h4.4v4.4h-4.4zM266.7 650.4h4.4v4.4h-4.4zM233.9 648.7h4.4v4.4h-4.4zM234 600h4.4v4.4h-4.4zM279.7 621.2h4.4v4.4h-4.4zM219.9 597.6h4.4v4.4h-4.4zM282.1 676.6h4.4v4.4h-4.4zM237.4 674.8h4.4v4.4h-4.4zM240.7 566.5h4.4v4.4h-4.4zM264.1 710.3h4.4v4.4h-4.4zM266.9 618h4.4v4.4h-4.4zM247 547h4.4v4.4h-4.4zM221.4 622.5h4.4v4.4h-4.4zM285.2 689.4h4.4v4.4h-4.4zM228.9 596.5h4.4v4.4h-4.4zM249.5 699.3h4.4v4.4h-4.4zM266.2 692.9h4.4v4.4h-4.4zM255.1 647.3h4.4v4.4h-4.4zM251.6 586.4h4.4v4.4h-4.4zM264.9 646h4.4v4.4h-4.4zM261.3 668.3h4.4v4.4h-4.4zM246.6 665h4.4v4.4h-4.4zM229.2 595.1h4.4v4.4h-4.4zM276.7 654.9h4.4v4.4h-4.4zM232.1 562.9h4.4v4.4h-4.4zM276.7 636.9h4.4v4.4h-4.4zM281 687h4.4v4.4h-4.4zM269.1 683.8h4.4v4.4h-4.4zM270.5 618.4h4.4v4.4h-4.4zM277.8 553.9h4.4v4.4h-4.4zM248.9 666.6h4.4v4.4h-4.4zM222.2 576.9h4.4v4.4h-4.4zM262 610.2h4.4v4.4h-4.4zM287.4 663.4h4.4v4.4h-4.4zM235.9 637.4h4.4v4.4h-4.4zM242.2 580.1h4.4v4.4h-4.4zM279.9 624.9h4.4v4.4h-4.4zM277.4 678.6h4.4v4.4h-4.4zM251.3 591.1h4.4v4.4h-4.4zM253.3 553h4.4v4.4h-4.4zM287.3 628.6h4.4v4.4h-4.4zM282.7 671.1h4.4v4.4h-4.4zM262.4 715.7h4.4v4.4h-4.4zM271.9 625.2h4.4v4.4h-4.4zM288.9 646.8h4.4v4.4h-4.4zM234.2 611h4.4v4.4h-4.4zM249 568.6h4.4v4.4h-4.4zM269.7 585.5h4.4v4.4h-4.4zM227.1 574.9h4.4v4.4h-4.4zM281.1 705.5h4.4v4.4h-4.4zM251.6 677.1h4.4v4.4h-4.4zM261.4 629.6h4.4v4.4h-4.4zM267 716.1h4.4v4.4h-4.4zM279.8 615h4.4v4.4h-4.4zM249.1 639.3h4.4v4.4h-4.4zM232.7 658.5h4.4v4.4h-4.4zM273.7 632.6h4.4v4.4h-4.4zM241.4 673.6h4.4v4.4h-4.4zM251.1 634.9h4.4v4.4h-4.4zM265.6 699.4h4.4v4.4h-4.4zM240.3 668.7h4.4v4.4h-4.4zM224.2 620.3h4.4v4.4h-4.4zM272.9 705.1h4.4v4.4h-4.4zM259.9 656.9h4.4v4.4h-4.4zM257.9 602.8h4.4v4.4h-4.4zM283.3 645.8h4.4v4.4h-4.4zM235.9 687.7h4.4v4.4h-4.4zM282.4 622.9h4.4v4.4h-4.4zM269.8 555.3h4.4v4.4h-4.4zM273.3 601.1h4.4v4.4h-4.4zM259.2 693.5h4.4v4.4h-4.4zM241.7 563h4.4v4.4h-4.4zM218.2 598.1h4.4v4.4h-4.4zM231.8 645.8h4.4v4.4h-4.4zM241.5 587.8h4.4v4.4h-4.4zM236.8 667h4.4v4.4h-4.4zM287.2 647.6h4.4v4.4h-4.4zM247.3 617.8h4.4v4.4h-4.4zM259.6 595.2h4.4v4.4h-4.4zM256.2 560.3h4.4v4.4h-4.4zM261 584.8h4.4v4.4h-4.4zM243.8 666.3h4.4v4.4h-4.4zM264.5 570.5h4.4v4.4h-4.4zM239.2 672.4h4.4v4.4h-4.4zM249.7 563.1h4.4v4.4h-4.4zM265.4 642.2h4.4v4.4h-4.4zM219.3 610.8h4.4v4.4h-4.4zM250.9 647.7h4.4v4.4h-4.4zM271.2 672.8h4.4v4.4h-4.4zM262.8 588.7h4.4v4.4h-4.4zM247.9 683.6h4.4v4.4h-4.4zM252.5 613.7h4.4v4.4h-4.4zM248.8 657h4.4v4.4h-4.4zM238.4 659.5h4.4v4.4h-4.4zM229.2 590.5h4.4v4.4h-4.4zM222.6 631.7h4.4v4.4h-4.4zM221 585h4.4v4.4h-4.4zM226.8 584.1h4.4v4.4h-4.4zM265.4 553.9h4.4v4.4h-4.4zM255.4 663.3h4.4v4.4h-4.4zM223.4 647.3h4.4v4.4h-4.4zM276 610.3h4.4v4.4h-4.4zM281.7 569.7h4.4v4.4h-4.4zM270.2 684.8h4.4v4.4h-4.4zM229.1 668.8h4.4v4.4h-4.4zM239.8 633.5h4.4v4.4h-4.4zM288.9 684h4.4v4.4h-4.4zM275.5 558.6h4.4v4.4h-4.4zM245.8 589.5h4.4v4.4h-4.4zM255.7 579.4h4.4v4.4h-4.4zM291.6 679.7h4.4v4.4h-4.4zM281.5 596.3h4.4v4.4h-4.4zM269.2 564.5h4.4v4.4h-4.4zM275.4 652.7h4.4v4.4h-4.4zM242.7 656.5h4.4v4.4h-4.4zM228.7 652.9h4.4v4.4h-4.4zM224.3 645h4.4v4.4h-4.4zM274.2 687.6h4.4v4.4h-4.4zM225.8 627.4h4.4v4.4h-4.4zM248.1 612.8h4.4v4.4h-4.4zM282.1 573.1h4.4v4.4h-4.4zM276.5 676.1h4.4v4.4h-4.4zM249 563.6h4.4v4.4h-4.4zM271.9 702.3h4.4v4.4h-4.4zM229 559.9h4.4v4.4h-4.4zM231.9 621.2h4.4v4.4h-4.4zM252.1 680.1h4.4v4.4h-4.4zM257.1 590.3h4.4v4.4h-4.4zM231.2 620.8h4.4v4.4h-4.4zM248.3 696.4h4.4v4.4h-4.4zM252.5 602.2h4.4v4.4h-4.4zM255.3 619h4.4v4.4h-4.4zM260 558.1h4.4v4.4h-4.4zM255.6 658.4h4.4v4.4h-4.4zM224.2 603.7h4.4v4.4h-4.4zM269.9 685.5h4.4v4.4h-4.4zM247 677.1h4.4v4.4h-4.4zM245 556.1h4.4v4.4h-4.4zM253.9 593.8h4.4v4.4h-4.4zM290.2 669.7h4.4v4.4h-4.4zM270.7 664.3h4.4v4.4h-4.4zM289.4 632.3h4.4v4.4h-4.4zM283.4 698h4.4v4.4h-4.4zM246.3 680.8h4.4v4.4h-4.4zM251.7 559.4h4.4v4.4h-4.4zM260.2 670.7h4.4v4.4h-4.4zM264.4 594h4.4v4.4h-4.4zM286.7 686.9h4.4v4.4h-4.4zM247.1 589.6h4.4v4.4h-4.4zM281.3 588.3h4.4v4.4h-4.4zM235.9 588.2h4.4v4.4h-4.4zM263.9 589.4h4.4v4.4h-4.4zM284.3 591.1h4.4v4.4h-4.4zM272.7 570.9h4.4v4.4h-4.4zM229 587.1h4.4v4.4h-4.4zM237.8 663.2h4.4v4.4h-4.4zM292.3 662.2h4.4v4.4h-4.4zM265.3 721.3h4.4v4.4h-4.4zM240 687.5h4.4v4.4h-4.4zM265 655h4.4v4.4h-4.4zM240.4 588h4.4v4.4h-4.4zM264.9 551.9h4.4v4.4h-4.4zM247 651.7h4.4v4.4h-4.4zM261.4 705.4h4.4v4.4h-4.4zM273.1 711.9h4.4v4.4h-4.4zM238.9 558.8h4.4v4.4h-4.4zM283.9 638.1h4.4v4.4h-4.4zM279.7 621.9h4.4v4.4h-4.4zM250.4 697.4h4.4v4.4h-4.4zM280.2 649.8h4.4v4.4h-4.4zM241.2 583.8h4.4v4.4h-4.4zM274.6 680.1h4.4v4.4h-4.4zM231.5 592.7h4.4v4.4h-4.4zM278.3 654.3h4.4v4.4h-4.4zM227.2 598.4h4.4v4.4h-4.4zM269.9 677.9h4.4v4.4h-4.4zM241.4 587.9h4.4v4.4h-4.4zM285.4 613.2h4.4v4.4h-4.4zM255.2 713.9h4.4v4.4h-4.4zM258.4 626.3h4.4v4.4h-4.4zM271.4 614.6h4.4v4.4h-4.4zM262.4 676.4h4.4v4.4h-4.4zM240.3 589.4h4.4v4.4h-4.4zM207 580.8h4.4v4.4h-4.4zM221.6 550.2h4.4v4.4h-4.4zM219 572.4h4.4v4.4h-4.4zM208.3 596.5h4.4v4.4h-4.4zM215.7 579h4.4v4.4h-4.4zM216 574.2h4.4v4.4h-4.4zM208.2 574.9h4.4v4.4h-4.4zM208.8 616.7h4.4v4.4h-4.4zM206.5 592h4.4v4.4h-4.4zM201.6 566.1h4.4v4.4h-4.4zM207 593.3h4.4v4.4h-4.4zM216.7 654.1h4.4v4.4h-4.4zM214.1 604.9h4.4v4.4h-4.4zM207.6 557h4.4v4.4h-4.4zM214 556.2h4.4v4.4h-4.4zM208.4 573h4.4v4.4h-4.4zM211.3 606.6h4.4v4.4h-4.4zM209.7 621.7h4.4v4.4h-4.4zM204.9 597.8h4.4v4.4h-4.4zM214.8 569.8h4.4v4.4h-4.4zM206.8 565.8h4.4v4.4h-4.4zM258.7 593.4h4.4v4.4h-4.4zM271.5 668.2h4.4v4.4h-4.4zM257 657.9h4.4v4.4h-4.4zM255.8 598.9h4.4v4.4h-4.4zM249.6 668.6h4.4v4.4h-4.4zM259.4 611.6h4.4v4.4h-4.4zM272 625.8h4.4v4.4h-4.4zM244.3 620.9h4.4v4.4h-4.4zM261.3 657.6h4.4v4.4h-4.4zM247.9 681h4.4v4.4h-4.4zM282.1 665.2h4.4v4.4h-4.4zM269.5 655.3h4.4v4.4h-4.4zM265.8 672.9h4.4v4.4h-4.4zM272.4 615.3h4.4v4.4h-4.4zM249.8 639.4h4.4v4.4h-4.4zM276.6 654.2h4.4v4.4h-4.4zM254.5 628.7h4.4v4.4h-4.4zM264.8 661.5h4.4v4.4h-4.4zM253.7 642.9h4.4v4.4h-4.4zM266.8 628.3h4.4v4.4h-4.4zM257.8 610.3h4.4v4.4h-4.4zM258.8 625.5h4.4v4.4h-4.4zM254.9 639.8h4.4v4.4h-4.4zM262.2 625.7h4.4v4.4h-4.4zM261.6 668h4.4v4.4h-4.4zM262.6 647.9h4.4v4.4h-4.4zM243.8 618h4.4v4.4h-4.4zM236.1 633.9h4.4v4.4h-4.4zM260.3 682.1h4.4v4.4h-4.4zM257.4 703.4h4.4v4.4h-4.4zM256.5 639.1h4.4v4.4h-4.4zM258.8 650.3h4.4v4.4h-4.4zM280 619.1h4.4v4.4h-4.4zM257.5 660.2h4.4v4.4h-4.4zM258 650.3h4.4v4.4h-4.4zM276.9 630h4.4v4.4h-4.4zM243.9 621h4.4v4.4h-4.4zM268.7 611.2h4.4v4.4h-4.4zM257.8 604.8h4.4v4.4h-4.4zM270.9 659.8h4.4v4.4h-4.4zM259.2 682.3h4.4v4.4h-4.4zM280.5 660.8h4.4v4.4h-4.4zM284 662.6h4.4v4.4h-4.4zM263.4 630.5h4.4v4.4h-4.4zM259.8 630.2h4.4v4.4h-4.4zM246.4 649.8h4.4v4.4h-4.4zM255.5 599.6h4.4v4.4h-4.4zM242.1 637h4.4v4.4h-4.4zM254.7 660.1h4.4v4.4h-4.4zM255.4 670.9h4.4v4.4h-4.4zM259.9 631.6h4.4v4.4h-4.4zM250.5 635.9h4.4v4.4h-4.4zM262.2 649.6h4.4v4.4h-4.4zM263.4 652.1h4.4v4.4h-4.4zM269.1 661.8h4.4v4.4h-4.4zM245.4 634.6h4.4v4.4h-4.4zM271.9 644h4.4v4.4h-4.4zM240.6 624.3h4.4v4.4h-4.4zM251.9 642.3h4.4v4.4h-4.4zM255.7 616.4h4.4v4.4h-4.4zM264.4 674.1h4.4v4.4h-4.4zM267.5 627.4h4.4v4.4h-4.4zM260.7 621.4h4.4v4.4h-4.4zM280.5 642.6h4.4v4.4h-4.4zM258.4 622.5h4.4v4.4h-4.4zM255.8 630.4h4.4v4.4h-4.4zM274.2 630.7h4.4v4.4h-4.4zM248.2 637.5h4.4v4.4h-4.4zM279.2 628.2h4.4v4.4h-4.4zM251.3 671h4.4v4.4h-4.4zM247.4 697.7h4.4v4.4h-4.4zM255.6 671h4.4v4.4h-4.4zM270.4 635.9h4.4v4.4h-4.4zM240.9 654.6h4.4v4.4h-4.4zM248 651h4.4v4.4h-4.4zM273.7 626.6h4.4v4.4h-4.4zM278.1 663.3h4.4v4.4h-4.4zM240 684.6h4.4v4.4h-4.4zM268 643.2h4.4v4.4h-4.4zM254.6 658.8h4.4v4.4h-4.4zM284.8 641.9h4.4v4.4h-4.4zM256.4 656h4.4v4.4h-4.4zM251 646.9h4.4v4.4h-4.4zM260.8 675.9h4.4v4.4h-4.4zM265.9 632.6h4.4v4.4h-4.4zM262.2 683h4.4v4.4h-4.4zM282.8 684.7h4.4v4.4h-4.4zM246.2 612.5h4.4v4.4h-4.4zM271.3 603h4.4v4.4h-4.4zM264 666.5h4.4v4.4h-4.4zM260 673.5h4.4v4.4h-4.4zM254.1 660.5h4.4v4.4h-4.4zM263 619.9h4.4v4.4h-4.4zM279.8 646h4.4v4.4h-4.4zM249.4 624.2h4.4v4.4h-4.4zM270.6 641.2h4.4v4.4h-4.4zM263.6 648.8h4.4v4.4h-4.4zM264.1 672.6h4.4v4.4h-4.4zM267.5 633h4.4v4.4h-4.4zM236.2 646.5h4.4v4.4h-4.4zM269.5 668.1h4.4v4.4h-4.4zM262.1 689.7h4.4v4.4h-4.4zM244.8 657.2h4.4v4.4h-4.4zM254.6 654.8h4.4v4.4h-4.4zM269.8 700.3h4.4v4.4h-4.4zM244.6 647.1h4.4v4.4h-4.4zM248.3 653.5h4.4v4.4h-4.4zM276.9 690.6h4.4v4.4h-4.4zM267.4 656.3h4.4v4.4h-4.4zM279.3 664.3h4.4v4.4h-4.4zM241.4 646.5h4.4v4.4h-4.4zM260.8 700.7h4.4v4.4h-4.4zM262.1 666.4h4.4v4.4h-4.4zM280.3 650.2h4.4v4.4h-4.4zM277.9 641h4.4v4.4h-4.4zM267.3 659h4.4v4.4h-4.4zM252.2 659.4h4.4v4.4h-4.4zM246.1 635.4h4.4v4.4h-4.4zM248.2 656.2h4.4v4.4h-4.4zM245.7 639.2h4.4v4.4h-4.4zM246.7 613.4h4.4v4.4h-4.4zM243.9 659.9h4.4v4.4h-4.4zM257.3 655.5h4.4v4.4h-4.4zM278.3 646.4h4.4v4.4h-4.4zM280.1 613.1h4.4v4.4h-4.4zM255.6 675.1h4.4v4.4h-4.4zM234.4 636.1h4.4v4.4h-4.4zM273.4 638.8h4.4v4.4h-4.4zM259.8 688.1h4.4v4.4h-4.4zM254.3 617.7h4.4v4.4h-4.4zM260.3 635.9h4.4v4.4h-4.4zM278.8 648.1h4.4v4.4h-4.4zM259.1 681.9h4.4v4.4h-4.4zM266.5 635h4.4v4.4h-4.4zM257.6 640.8h4.4v4.4h-4.4zM256.1 626.4h4.4v4.4h-4.4zM267.6 618.1h4.4v4.4h-4.4zM244.1 650.4h4.4v4.4h-4.4zM253 617.3h4.4v4.4h-4.4zM258.9 636h4.4v4.4h-4.4zM239.9 672.3h4.4v4.4h-4.4zM246.2 668h4.4v4.4h-4.4zM268.6 668h4.4v4.4h-4.4zM279.8 673.6h4.4v4.4h-4.4zM239.6 615.7h4.4v4.4h-4.4zM256 661.1h4.4v4.4h-4.4zM278.4 652.5h4.4v4.4h-4.4zM254.6 595h4.4v4.4h-4.4zM250 676h4.4v4.4h-4.4zM243.6 643.8h4.4v4.4h-4.4zM241.8 607.4h4.4v4.4h-4.4zM256.8 620.6h4.4v4.4h-4.4zM248.4 632.5h4.4v4.4h-4.4zM271.6 642.9h4.4v4.4h-4.4zM267.4 642.9h4.4v4.4h-4.4zM253.4 640.1h4.4v4.4h-4.4zM269.2 640.5h4.4v4.4h-4.4zM248.4 595.6h4.4v4.4h-4.4zM256.4 595.8h4.4v4.4h-4.4zM256.9 649.5h4.4v4.4h-4.4zM281.5 677.9h4.4v4.4h-4.4zM261.2 622.5h4.4v4.4h-4.4zM275.2 665.4h4.4v4.4h-4.4zM259.8 657.9h4.4v4.4h-4.4zM259.8 682.9h4.4v4.4h-4.4zM272.7 635.2h4.4v4.4h-4.4zM259.3 621.3h4.4v4.4h-4.4zM259.9 624.8h4.4v4.4h-4.4zM241.2 653.2h4.4v4.4h-4.4zM268.8 650.9h4.4v4.4h-4.4zM268.5 694.5h4.4v4.4h-4.4zM249.1 679.7h4.4v4.4h-4.4zM250.2 616.8h4.4v4.4h-4.4zM258.6 632.1h4.4v4.4h-4.4zM259.5 608h4.4v4.4h-4.4zM286.3 645.3h4.4v4.4h-4.4zM271.3 612.3h4.4v4.4h-4.4zM257.8 665.7h4.4v4.4h-4.4zM256.8 651.8h4.4v4.4h-4.4zM256.2 629.9h4.4v4.4h-4.4zM246.6 679.7h4.4v4.4h-4.4zM275.2 655.9h4.4v4.4h-4.4zM282.3 630.1h4.4v4.4h-4.4zM278.6 636.6h4.4v4.4h-4.4zM262.8 647.1h4.4v4.4h-4.4zM268.1 698.8h4.4v4.4h-4.4zM272.7 696.1h4.4v4.4h-4.4zM277.5 617.4h4.4v4.4h-4.4zM256.9 694.5h4.4v4.4h-4.4zM260.4 630.6h4.4v4.4h-4.4zM263.2 648.4h4.4v4.4h-4.4zM247.2 601.8h4.4v4.4h-4.4zM253.6 625.8h4.4v4.4h-4.4zM284.5 652.8h4.4v4.4h-4.4zM256.9 705.9h4.4v4.4h-4.4zM280.6 621.8h4.4v4.4h-4.4zM261.3 597.1h4.4v4.4h-4.4zM249.6 651.1h4.4v4.4h-4.4zM240.9 630.3h4.4v4.4h-4.4zM274.1 641.2h4.4v4.4h-4.4zM283.3 641.9h4.4v4.4h-4.4zM250 620.7h4.4v4.4h-4.4zM255.5 612.5h4.4v4.4h-4.4zM236.6 633.8h4.4v4.4h-4.4zM239.9 646.5h4.4v4.4h-4.4zM266.6 612.3h4.4v4.4h-4.4zM276.2 647.1h4.4v4.4h-4.4zM248.5 637.9h4.4v4.4h-4.4zM256.1 624.6h4.4v4.4h-4.4zM262.8 628.3h4.4v4.4h-4.4zM257 662.2h4.4v4.4h-4.4zM269.8 631.6h4.4v4.4h-4.4zM269.2 664.5h4.4v4.4h-4.4zM230.4 636.6h4.4v4.4h-4.4zM235.1 657.4h4.4v4.4h-4.4zM265.5 674.7h4.4v4.4h-4.4zM259.5 675.2h4.4v4.4h-4.4zM262.1 642.4h4.4v4.4h-4.4zM261.3 653h4.4v4.4h-4.4zM271.6 618.8h4.4v4.4h-4.4zM253.6 616.6h4.4v4.4h-4.4zM262.7 687.3h4.4v4.4h-4.4zM271 675.6h4.4v4.4h-4.4zM250.6 626.2h4.4v4.4h-4.4zM244.4 645.6h4.4v4.4h-4.4zM260.8 686.2h4.4v4.4h-4.4zM267.9 630.2h4.4v4.4h-4.4zM252.8 659.1h4.4v4.4h-4.4zM268 675.4h4.4v4.4h-4.4zM270.1 681h4.4v4.4h-4.4zM274.8 661.7h4.4v4.4h-4.4zM236.1 651.2h4.4v4.4h-4.4zM253 687.6h4.4v4.4h-4.4zM258.8 619.3h4.4v4.4h-4.4zM253 617.6h4.4v4.4h-4.4zM269.5 605.6h4.4v4.4h-4.4zM239.3 605.5h4.4v4.4h-4.4zM265.8 605.2h4.4v4.4h-4.4zM244 614h4.4v4.4h-4.4zM266.6 647.7h4.4v4.4h-4.4zM269.1 620.6h4.4v4.4h-4.4zM257.9 636.4h4.4v4.4h-4.4zM269.4 671.5h4.4v4.4h-4.4zM272.3 657.3h4.4v4.4h-4.4zM287.5 643.7h4.4v4.4h-4.4zM275.2 637.1h4.4v4.4h-4.4zM263.5 675.6h4.4v4.4h-4.4zM245.5 629h4.4v4.4h-4.4zM264.6 620.8h4.4v4.4h-4.4zM261.1 648.5h4.4v4.4h-4.4zM266.3 668.5h4.4v4.4h-4.4zM270.9 658.1h4.4v4.4h-4.4zM246.8 662.1h4.4v4.4h-4.4zM271.3 646.1h4.4v4.4h-4.4zM257.4 667.3h4.4v4.4h-4.4zM244.1 688.6h4.4v4.4h-4.4zM268.6 692.8h4.4v4.4h-4.4zM252.3 657.3h4.4v4.4h-4.4zM251 662h4.4v4.4h-4.4zM276.6 627.4h4.4v4.4h-4.4zM245.7 659.7h4.4v4.4h-4.4zM263.5 644.6h4.4v4.4h-4.4zM262.3 616.4h4.4v4.4h-4.4zM262.8 621.3h4.4v4.4h-4.4zM258.7 638.2h4.4v4.4h-4.4zM250 632.4h4.4v4.4h-4.4zM260.7 639.2h4.4v4.4h-4.4zM282.9 688h4.4v4.4h-4.4zM275.9 642.1h4.4v4.4h-4.4zM252.7 628.6h4.4v4.4h-4.4zM266.3 672.4h4.4v4.4h-4.4zM264 653.1h4.4v4.4h-4.4zM250.7 622.1h4.4v4.4h-4.4zM280 650.7h4.4v4.4h-4.4zM258.5 650.2h4.4v4.4h-4.4zM252.5 666.3h4.4v4.4h-4.4zM285.5 686.1h4.4v4.4h-4.4zM270.5 663.1h4.4v4.4h-4.4zM274.4 635.8h4.4v4.4h-4.4zM258.1 664.6h4.4v4.4h-4.4zM258.3 612h4.4v4.4h-4.4zM263.2 639.7h4.4v4.4h-4.4zM238.4 625.9h4.4v4.4h-4.4zM271.2 682h4.4v4.4h-4.4zM271.1 640.6h4.4v4.4h-4.4zM262.6 633.1h4.4v4.4h-4.4zM237.8 611.2h4.4v4.4h-4.4zM265.2 637.8h4.4v4.4h-4.4zM268.4 658.2h4.4v4.4h-4.4zM273 682.2h4.4v4.4h-4.4zM267.1 715.6h4.4v4.4h-4.4zM268.1 691.2h4.4v4.4h-4.4zM266.4 698.7h4.4v4.4h-4.4zM264.5 694h4.4v4.4h-4.4zM264.4 711.1h4.4v4.4h-4.4zM261.4 701h4.4v4.4h-4.4zM271.1 695.2h4.4v4.4h-4.4zM263.2 710.6h4.4v4.4h-4.4zM265.1 699.6h4.4v4.4h-4.4zM264.3 695.1h4.4v4.4h-4.4zM258.4 690.4h4.4v4.4h-4.4zM264.7 682.5h4.4v4.4h-4.4zM264.3 697.7h4.4v4.4h-4.4zM268.8 704.6h4.4v4.4h-4.4zM264.6 700h4.4v4.4h-4.4zM263 695h4.4v4.4h-4.4zM265 689.1h4.4v4.4h-4.4zM259.1 696.5h4.4v4.4h-4.4zM266.6 691.1h4.4v4.4h-4.4zM264.8 696.1h4.4v4.4h-4.4zM264.2 706.2h4.4v4.4h-4.4zM269.6 696.8h4.4v4.4h-4.4zM264.3 722.8h4.4v4.4h-4.4zM267.7 687.2h4.4v4.4h-4.4zM257.8 709.3h4.4v4.4h-4.4zM262 703.9h4.4v4.4h-4.4zM264.2 717.2h4.4v4.4h-4.4zM261.4 696h4.4v4.4h-4.4zM264.1 704.1h4.4v4.4h-4.4zM262.5 694.7h4.4v4.4h-4.4zM296.7 683.1h4.4v4.4h-4.4zM303.1 673.2h4.4v4.4h-4.4zM299 663.2h4.4v4.4h-4.4zM299 686.3h4.4v4.4h-4.4zM297.9 675.4h4.4v4.4h-4.4zM298.4 684h4.4v4.4h-4.4zM302.8 676.4h4.4v4.4h-4.4zM302.5 686.8h4.4v4.4h-4.4zM302.4 686.1h4.4v4.4h-4.4zM300.6 678.1h4.4v4.4h-4.4zM301.1 671.7h4.4v4.4h-4.4zM296.4 680.4h4.4v4.4h-4.4z"/>
<path fill="#00f" d="M199.8 435.8h4.4v4.4h-4.4zM218.3 437.8h4.4v4.4h-4.4zM201.3 459.1h4.4v4.4h-4.4zM229.3 456.3h4.4v4.4h-4.4zM190.8 471.1h4.4v4.4h-4.4zM197.8 467.8h4.4v4.4h-4.4zM204.1 469.1h4.4v4.4h-4.4zM220.3 464.8h4.4v4.4h-4.4zM223.6 468.6h4.4v4.4h-4.4zM217.3 473.3h4.4v4.4h-4.4zM225.3 474.8h4.4v4.4h-4.4zM235.1 476.8h4.4v4.4h-4.4zM194.1 475.3h4.4v4.4h-4.4zM227.8 480.3h4.4v4.4h-4.4zM233.6 487.3h4.4v4.4h-4.4zM232.3 492.8h4.4v4.4h-4.4zM226.6 487.8h4.4v4.4h-4.4zM227.3 496.6h4.4v4.4h-4.4zM229.1 502.8h4.4v4.4h-4.4zM242.8 504.8h4.4v4.4h-4.4zM247.8 502.8h4.4v4.4h-4.4zM235.6 514.5h4.4v4.4h-4.4zM222.8 502.8h4.4v4.4h-4.4zM219.8 515.3h4.4v4.4h-4.4zM198.6 522.8h4.4v4.4h-4.4zM198.6 530.3h4.4v4.4h-4.4zM202.8 530.3h4.4v4.4h-4.4zM210.3 530.3h4.4v4.4h-4.4zM211.6 537.8h4.4v4.4h-4.4zM214.1 522.8h4.4v4.4h-4.4zM205.3 526.5h4.4v4.4h-4.4zM208.8 493.8h4.4v4.4h-4.4zM205.8 517.6h4.4v4.4h-4.4zM202 490.2h4.4v4.4h-4.4zM207.5 493.7h4.4v4.4h-4.4zM200.2 494.9h4.4v4.4h-4.4zM204 505.2h4.4v4.4h-4.4zM198.1 488.6h4.4v4.4h-4.4zM211.1 521.3h4.4v4.4h-4.4zM198 505.4h4.4v4.4h-4.4zM201.8 486.8h4.4v4.4h-4.4zM202 492.3h4.4v4.4h-4.4zM211 507h4.4v4.4h-4.4zM206.8 493.3h4.4v4.4h-4.4zM206.4 496.5h4.4v4.4h-4.4zM210.8 490.1h4.4v4.4h-4.4zM206.3 496.5h4.4v4.4h-4.4zM205.9 500.9h4.4v4.4h-4.4zM206.5 514.5h4.4v4.4h-4.4zM204.8 517.3h4.4v4.4h-4.4zM205 491.8h4.4v4.4h-4.4zM206.6 502.3h4.4v4.4h-4.4zM206.9 514h4.4v4.4h-4.4zM211.9 504.3h4.4v4.4h-4.4zM204.6 496.5h4.4v4.4h-4.4zM213.5 500.9h4.4v4.4h-4.4zM199.9 488.8h4.4v4.4h-4.4zM202.5 512h4.4v4.4h-4.4zM209.6 499.5h4.4v4.4h-4.4zM203.4 509.8h4.4v4.4h-4.4zM205.6 487.4h4.4v4.4h-4.4zM209.2 498.1h4.4v4.4h-4.4zM212.5 497.2h4.4v4.4h-4.4zM216 493h4.4v4.4h-4.4zM201.2 480h4.4v4.4h-4.4zM211 495.5h4.4v4.4h-4.4zM203.4 494.6h4.4v4.4h-4.4zM216.9 502.7h4.4v4.4h-4.4zM209.7 507.7h4.4v4.4h-4.4zM210.9 511.3h4.4v4.4h-4.4zM202.8 494.9h4.4v4.4h-4.4zM202.8 488.7h4.4v4.4h-4.4zM212.6 491.8h4.4v4.4h-4.4zM206.3 489.1h4.4v4.4h-4.4zM202.7 507.5h4.4v4.4h-4.4zM204.3 491.7h4.4v4.4h-4.4zM208.5 504.2h4.4v4.4h-4.4zM210.3 500.1h4.4v4.4h-4.4zM196.8 505.2h4.4v4.4h-4.4zM208.2 510.6h4.4v4.4h-4.4zM199.4 506.5h4.4v4.4h-4.4zM206.9 491.7h4.4v4.4h-4.4zM210.7 494.5h4.4v4.4h-4.4zM198.6 497.2h4.4v4.4h-4.4zM213.4 505.8h4.4v4.4h-4.4zM205.3 479.9h4.4v4.4h-4.4zM197.5 488h4.4v4.4h-4.4zM197.3 501.1h4.4v4.4h-4.4zM204.7 488.3h4.4v4.4h-4.4zM204.7 487.5h4.4v4.4h-4.4zM210 518.5h4.4v4.4h-4.4zM216.6 507.2h4.4v4.4h-4.4zM209.2 516.3h4.4v4.4h-4.4zM213 490.2h4.4v4.4h-4.4zM197.4 508.3h4.4v4.4h-4.4zM205.8 497.1h4.4v4.4h-4.4zM202.5 481.3h4.4v4.4h-4.4zM213.3 504h4.4v4.4h-4.4zM200.5 502.4h4.4v4.4h-4.4zM207.5 504.4h4.4v4.4h-4.4zM199.6 497.9h4.4v4.4h-4.4zM202.6 504.5h4.4v4.4h-4.4zM207.2 502.2h4.4v4.4h-4.4zM203.1 502.8h4.4v4.4h-4.4zM203.3 504.1h4.4v4.4h-4.4zM205.5 483.8h4.4v4.4h-4.4zM209.4 489.1h4.4v4.4h-4.4zM213.5 503.7h4.4v4.4h-4.4zM208.7 499.2h4.4v4.4h-4.4zM213.2 488h4.4v4.4h-4.4zM211.7 490.1h4.4v4.4h-4.4zM205.7 495h4.4v4.4h-4.4zM201 495.4h4.4v4.4h-4.4zM209 492.8h4.4v4.4h-4.4zM200.1 490.3h4.4v4.4h-4.4zM206.8 512.2h4.4v4.4h-4.4zM210.5 501.6h4.4v4.4h-4.4zM200.5 508.8h4.4v4.4h-4.4zM206.6 494.8h4.4v4.4h-4.4zM210.6 505.8h4.4v4.4h-4.4zM209.6 483.6h4.4v4.4h-4.4zM204.2 476.4h4.4v4.4h-4.4zM207.3 498.2h4.4v4.4h-4.4zM211 500.7h4.4v4.4h-4.4zM203 524.1h4.4v4.4h-4.4zM201.8 480.8h4.4v4.4h-4.4zM202.8 504.2h4.4v4.4h-4.4zM204.8 492.2h4.4v4.4h-4.4zM199.5 515.9h4.4v4.4h-4.4zM203.8 484.1h4.4v4.4h-4.4zM206.2 487.7h4.4v4.4h-4.4zM204.2 514.4h4.4v4.4h-4.4zM204 497.1h4.4v4.4h-4.4zM204.5 495.3h4.4v4.4h-4.4zM210.2 504.7h4.4v4.4h-4.4zM205.1 486.1h4.4v4.4h-4.4zM205.1 508.2h4.4v4.4h-4.4zM206.3 496.2h4.4v4.4h-4.4zM196.3 509.7h4.4v4.4h-4.4zM199.4 481.4h4.4v4.4h-4.4zM204.3 498.1h4.4v4.4h-4.4zM207 488.3h4.4v4.4h-4.4zM205.1 490.1h4.4v4.4h-4.4zM197.1 494.1h4.4v4.4h-4.4zM202.4 502.8h4.4v4.4h-4.4zM204.9 509.8h4.4v4.4h-4.4zM209.3 509.2h4.4v4.4h-4.4zM212.1 506.8h4.4v4.4h-4.4zM204.6 514.6h4.4v4.4h-4.4zM201.5 497.1h4.4v4.4h-4.4zM211 494.4h4.4v4.4h-4.4zM210.5 488h4.4v4.4h-4.4zM203.1 504.5h4.4v4.4h-4.4zM209.2 512.9h4.4v4.4h-4.4zM205.7 501.5h4.4v4.4h-4.4zM209.2 503.8h4.4v4.4h-4.4zM199.9 490.3h4.4v4.4h-4.4zM214.6 482.7h4.4v4.4h-4.4zM209.8 492.7h4.4v4.4h-4.4zM212 488.4h4.4v4.4h-4.4zM207.9 472.5h4.4v4.4h-4.4zM205.4 511.2h4.4v4.4h-4.4zM197.7 512.2h4.4v4.4h-4.4zM202.6 497h4.4v4.4h-4.4zM202.1 490.8h4.4v4.4h-4.4zM200.3 485.1h4.4v4.4h-4.4zM211.1 495.8h4.4v4.4h-4.4zM208.4 491.6h4.4v4.4h-4.4zM209.4 504.3h4.4v4.4h-4.4zM203.2 510.3h4.4v4.4h-4.4zM214.5 476.9h4.4v4.4h-4.4zM208.4 499.5h4.4v4.4h-4.4zM208.5 511.6h4.4v4.4h-4.4zM210.6 495.2h4.4v4.4h-4.4zM217 498.5h4.4v4.4h-4.4zM202.1 490.6h4.4v4.4h-4.4zM205.9 493h4.4v4.4h-4.4zM205.1 501.7h4.4v4.4h-4.4zM210.9 505.1h4.4v4.4h-4.4zM203.2 489.8h4.4v4.4h-4.4zM212.4 495h4.4v4.4h-4.4zM202.3 520.8h4.4v4.4h-4.4zM203.9 506.2h4.4v4.4h-4.4zM206 498.4h4.4v4.4h-4.4zM201.9 487.2h4.4v4.4h-4.4zM213.6 483.9h4.4v4.4h-4.4zM208.5 483h4.4v4.4h-4.4zM205.1 497.3h4.4v4.4h-4.4zM197.1 511.5h4.4v4.4h-4.4zM204.6 512.9h4.4v4.4h-4.4zM200.9 508.9h4.4v4.4h-4.4zM202.6 503.6h4.4v4.4h-4.4zM207.2 495.2h4.4v4.4h-4.4zM206.1 490.5h4.4v4.4h-4.4zM208.8 493.1h4.4v4.4h-4.4zM201.3 507.7h4.4v4.4h-4.4zM205.5 488.8h4.4v4.4h-4.4zM203.2 502.3h4.4v4.4h-4.4zM203.5 481.8h4.4v4.4h-4.4zM215.6 482.8h4.4v4.4h-4.4zM214.1 500h4.4v4.4h-4.4zM199.7 518.3h4.4v4.4h-4.4zM205.9 485.2h4.4v4.4h-4.4zM205.8 513.9h4.4v4.4h-4.4zM209.3 508.3h4.4v4.4h-4.4zM215.3 501h4.4v4.4h-4.4zM208.4 495.1h4.4v4.4h-4.4zM198.8 495.6h4.4v4.4h-4.4zM213.1 501.4h4.4v4.4h-4.4zM201.5 498.4h4.4v4.4h-4.4zM215.9 491.1h4.4v4.4h-4.4zM209.7 512.1h4.4v4.4h-4.4zM201.2 505.5h4.4v4.4h-4.4zM209.4 492h4.4v4.4h-4.4zM210.1 493.5h4.4v4.4h-4.4zM204.1 482.2h4.4v4.4h-4.4zM208.6 492.5h4.4v4.4h-4.4zM204.1 483.3h4.4v4.4h-4.4zM199.7 487.6h4.4v4.4h-4.4zM210.6 487.8h4.4v4.4h-4.4zM213.5 503.3h4.4v4.4h-4.4zM207.9 482.8h4.4v4.4h-4.4zM208 519.1h4.4v4.4h-4.4zM205.7 489.2h4.4v4.4h-4.4zM205.6 509.2h4.4v4.4h-4.4zM213 505.7h4.4v4.4h-4.4zM201.2 489.1h4.4v4.4h-4.4zM208.2 481.9h4.4v4.4h-4.4zM200 512h4.4v4.4h-4.4zM201.7 493.3h4.4v4.4h-4.4zM206.9 479h4.4v4.4h-4.4zM204.9 514h4.4v4.4h-4.4zM209.6 506.7h4.4v4.4h-4.4zM202.2 495.8h4.4v4.4h-4.4zM206.9 506.3h4.4v4.4h-4.4zM213.9 485.7h4.4v4.4h-4.4zM215.3 494.7h4.4v4.4h-4.4zM205.8 482.6h4.4v4.4h-4.4zM206.1 494.9h4.4v4.4h-4.4zM200.1 493.8h4.4v4.4h-4.4zM207.2 492.7h4.4v4.4h-4.4zM211 485.2h4.4v4.4h-4.4zM211 495.7h4.4v4.4h-4.4zM209.4 474.9h4.4v4.4h-4.4zM207 497.1h4.4v4.4h-4.4zM211.9 483.3h4.4v4.4h-4.4zM214.1 484.7h4.4v4.4h-4.4zM212.8 505.4h4.4v4.4h-4.4zM200.2 495.3h4.4v4.4h-4.4zM207 504.4h4.4v4.4h-4.4zM207 507.8h4.4v4.4h-4.4zM208.7 498.3h4.4v4.4h-4.4zM201.7 493.2h4.4v4.4h-4.4zM211.7 483.5h4.4v4.4h-4.4zM208.2 472.3h4.4v4.4h-4.4zM203.7 477.3h4.4v4.4h-4.4zM204.6 506.8h4.4v4.4h-4.4zM209 507.6h4.4v4.4h-4.4zM211.5 504h4.4v4.4h-4.4zM210.7 497.4h4.4v4.4h-4.4zM218.8 489.9h4.4v4.4h-4.4zM217.9 482.7h4.4v4.4h-4.4zM217 472h4.4v4.4h-4.4zM213.5 478.6h4.4v4.4h-4.4zM217.4 483.1h4.4v4.4h-4.4zM219.2 489.9h4.4v4.4h-4.4zM222.5 489.7h4.4v4.4h-4.4zM218.4 492.2h4.4v4.4h-4.4zM221.6 500.2h4.4v4.4h-4.4zM221.7 486.4h4.4v4.4h-4.4zM217.3 478.7h4.4v4.4h-4.4zM217.7 477.3h4.4v4.4h-4.4zM217.2 471.1h4.4v4.4h-4.4zM217.7 499.5h4.4v4.4h-4.4zM226.8 496.4h4.4v4.4h-4.4zM219.2 482.6h4.4v4.4h-4.4zM218.4 482.7h4.4v4.4h-4.4zM219.7 478h4.4v4.4h-4.4zM222.4 480.3h4.4v4.4h-4.4zM220.8 498.8h4.4v4.4h-4.4zM216.1 485.3h4.4v4.4h-4.4zM221.3 501.4h4.4v4.4h-4.4zM226.7 487.1h4.4v4.4h-4.4zM220.9 497.6h4.4v4.4h-4.4zM219 489.8h4.4v4.4h-4.4zM221.3 492.3h4.4v4.4h-4.4zM217.6 474.3h4.4v4.4h-4.4zM216.6 481h4.4v4.4h-4.4zM218.3 471.9h4.4v4.4h-4.4zM218.5 497.3h4.4v4.4h-4.4zM223.1 487.7h4.4v4.4h-4.4zM215.7 475.9h4.4v4.4h-4.4zM219.7 491.9h4.4v4.4h-4.4zM220.6 487.2h4.4v4.4h-4.4zM221.7 487.8h4.4v4.4h-4.4zM216.1 489.9h4.4v4.4h-4.4zM224.5 502.5h4.4v4.4h-4.4zM217.6 478h4.4v4.4h-4.4zM224.7 492h4.4v4.4h-4.4zM215.2 477.1h4.4v4.4h-4.4zM217.6 489.7h4.4v4.4h-4.4zM215.3 486h4.4v4.4h-4.4zM220.3 483.1h4.4v4.4h-4.4zM213.7 482.7h4.4v4.4h-4.4zM220.9 496.3h4.4v4.4h-4.4zM205.9 477.4h4.4v4.4h-4.4zM200.6 471.7h4.4v4.4h-4.4zM200 473h4.4v4.4h-4.4zM201.7 480.2h4.4v4.4h-4.4zM200.2 473h4.4v4.4h-4.4zM205.2 469.4h4.4v4.4h-4.4zM210.8 470.1h4.4v4.4h-4.4zM210.1 472.3h4.4v4.4h-4.4zM207.5 472.8h4.4v4.4h-4.4zM205.9 467.4h4.4v4.4h-4.4zM212.8 475.2h4.4v4.4h-4.4zM206.8 475.2h4.4v4.4h-4.4zM205.9 471.6h4.4v4.4h-4.4zM206 467h4.4v4.4h-4.4zM205.4 467.2h4.4v4.4h-4.4zM206 471.3h4.4v4.4h-4.4zM206.6 472h4.4v4.4h-4.4zM203.7 471.8h4.4v4.4h-4.4zM210.3 479.6h4.4v4.4h-4.4zM201.7 479.5h4.4v4.4h-4.4zM210.7 472.5h4.4v4.4h-4.4zM202.1 474.8h4.4v4.4h-4.4z"/>
</g>
<g stroke="#000" stroke-width="5.5" stroke-linecap="round" fill="none">
<path d="M82.2 11.2H632.8"/>
<path d="M632.8 11.2V779.4" stroke-linecap="butt"/>
<path d="M95.25 11.2V779.4" stroke-linecap="square"/>
<path d="M41 395.2H631.8"/>
<path d="M82.2 779.4H631.8"/>
<path d="M89 369.61H95.25"/>
<path d="M89 344.00H95.25"/>
<path d="M89 318.40H95.25"/>
<path d="M89 292.79H95.25"/>
<path d="M82.2 267.19H95.25"/>
<path d="M89 241.59H95.25"/>
<path d="M89 215.98H95.25"/>
<path d="M89 190.38H95.25"/>
<path d="M89 164.77H95.25"/>
<path d="M82.2 139.17H95.25"/>
<path d="M89 113.57H95.25"/>
<path d="M89 87.96H95.25"/>
<path d="M89 62.36H95.25"/>
<path d="M89 36.75H95.25"/>
<path d="M89 760.19H95.25"/>
<path d="M89 740.98H95.25"/>
<path d="M89 721.77H95.25"/>
<path d="M89 702.56H95.25"/>
<path d="M82.2 683.35H95.25"/>
<path d="M89 664.14H95.25"/>
<path d="M89 644.93H95.25"/>
<path d="M89 625.72H95.25"/>
<path d="M89 606.51H95.25"/>
<path d="M82.2 587.30H95.25"/>
<path d="M89 568.09H95.25"/>
<path d="M89 548.88H95.25"/>
<path d="M89 529.67H95.25"/>
<path d="M89 510.46H95.25"/>
<path d="M82.2 491.25H95.25"/>
<path d="M89 472.04H95.25"/>
<path d="M89 452.83H95.25"/>
<path d="M89 433.62H95.25"/>
<path d="M89 414.41H95.25"/>
</g>
<g stroke="#000" stroke-width="5.5" stroke-linecap="round" fill="none">
<path d="M162.44 388.2V402.2"/>
<path d="M229.64 381.7V408.7"/>
<path d="M296.83 388.2V402.2"/>
<path d="M364.02 381.7V408.7"/>
<path d="M431.22 388.2V402.2"/>
<path d="M498.41 381.7V408.7"/>
<path d="M565.61 388.2V402.2"/>
<path d="M95.25 779.4V792.6"/>
<path d="M162.44 779.4V786.0"/>
<path d="M229.64 779.4V792.6"/>
<path d="M296.83 779.4V786.0"/>
<path d="M364.02 779.4V792.6"/>
<path d="M431.22 779.4V786.0"/>
<path d="M498.41 779.4V792.6"/>
<path d="M565.61 779.4V786.0"/>
<path d="M632.80 779.4V792.6"/>
</g>
<g font-family="'Liberation Sans', sans-serif" fill="#000" stroke="#000" stroke-width="0.35" stroke-linejoin="round">
<text transform="translate(72,20.25) scale(1,1.09)" font-size="28.3" text-anchor="end">55</text>
<text transform="translate(72,148.27) scale(1,1.09)" font-size="28.3" text-anchor="end">45</text>
<text transform="translate(72,276.29) scale(1,1.09)" font-size="28.3" text-anchor="end">35</text>
<text transform="translate(72,500.35) scale(1,1.09)" font-size="28.3" text-anchor="end">25</text>
<text transform="translate(72,596.40) scale(1,1.09)" font-size="28.3" text-anchor="end">20</text>
<text transform="translate(72,692.45) scale(1,1.09)" font-size="28.3" text-anchor="end">15</text>
<text transform="translate(72,788.50) scale(1,1.09)" font-size="28.3" text-anchor="end">10</text>
<text transform="translate(95.25,824.6) scale(1,1.06)" font-size="28.3" text-anchor="middle">0</text>
<text transform="translate(229.64,824.6) scale(1,1.06)" font-size="28.3" text-anchor="middle">2</text>
<text transform="translate(364.02,824.6) scale(1,1.06)" font-size="28.3" text-anchor="middle">4</text>
<text transform="translate(498.41,824.6) scale(1,1.06)" font-size="28.3" text-anchor="middle">6</text>
<text transform="translate(632.80,824.6) scale(1,1.06)" font-size="28.3" text-anchor="middle">8</text>
<text x="102" y="53" font-size="36">a<tspan dx="3.5">)</tspan></text>
<text x="102" y="435" font-size="36">b<tspan dx="3.5">)</tspan></text>
<text transform="translate(389.5,80.3) scale(1.03,1)" font-size="36">N0</text>
<text transform="translate(389.5,126.3) scale(1.03,1)" font-size="36" fill="#f00" stroke="#f00">N100</text>
<text transform="translate(389.5,172.2) scale(1.03,1)" font-size="36" fill="#00f" stroke="#00f">N500</text>
<text transform="translate(29.4,321.5) rotate(-90)" font-size="32">2D FWHM (cm<tspan font-size="18" dy="-17">-1</tspan><tspan dy="17">)</tspan></text>
<text transform="translate(29.4,697.6) rotate(-90)" font-size="32">G FWHM (cm<tspan font-size="18" dy="-17">-1</tspan><tspan dy="17">)</tspan></text>
<text x="328" y="858" font-size="37.5"><tspan font-style="italic">R</tspan><tspan font-size="23" dy="5.5">2DG</tspan></text>
</g>
</svg>
</body></html>
